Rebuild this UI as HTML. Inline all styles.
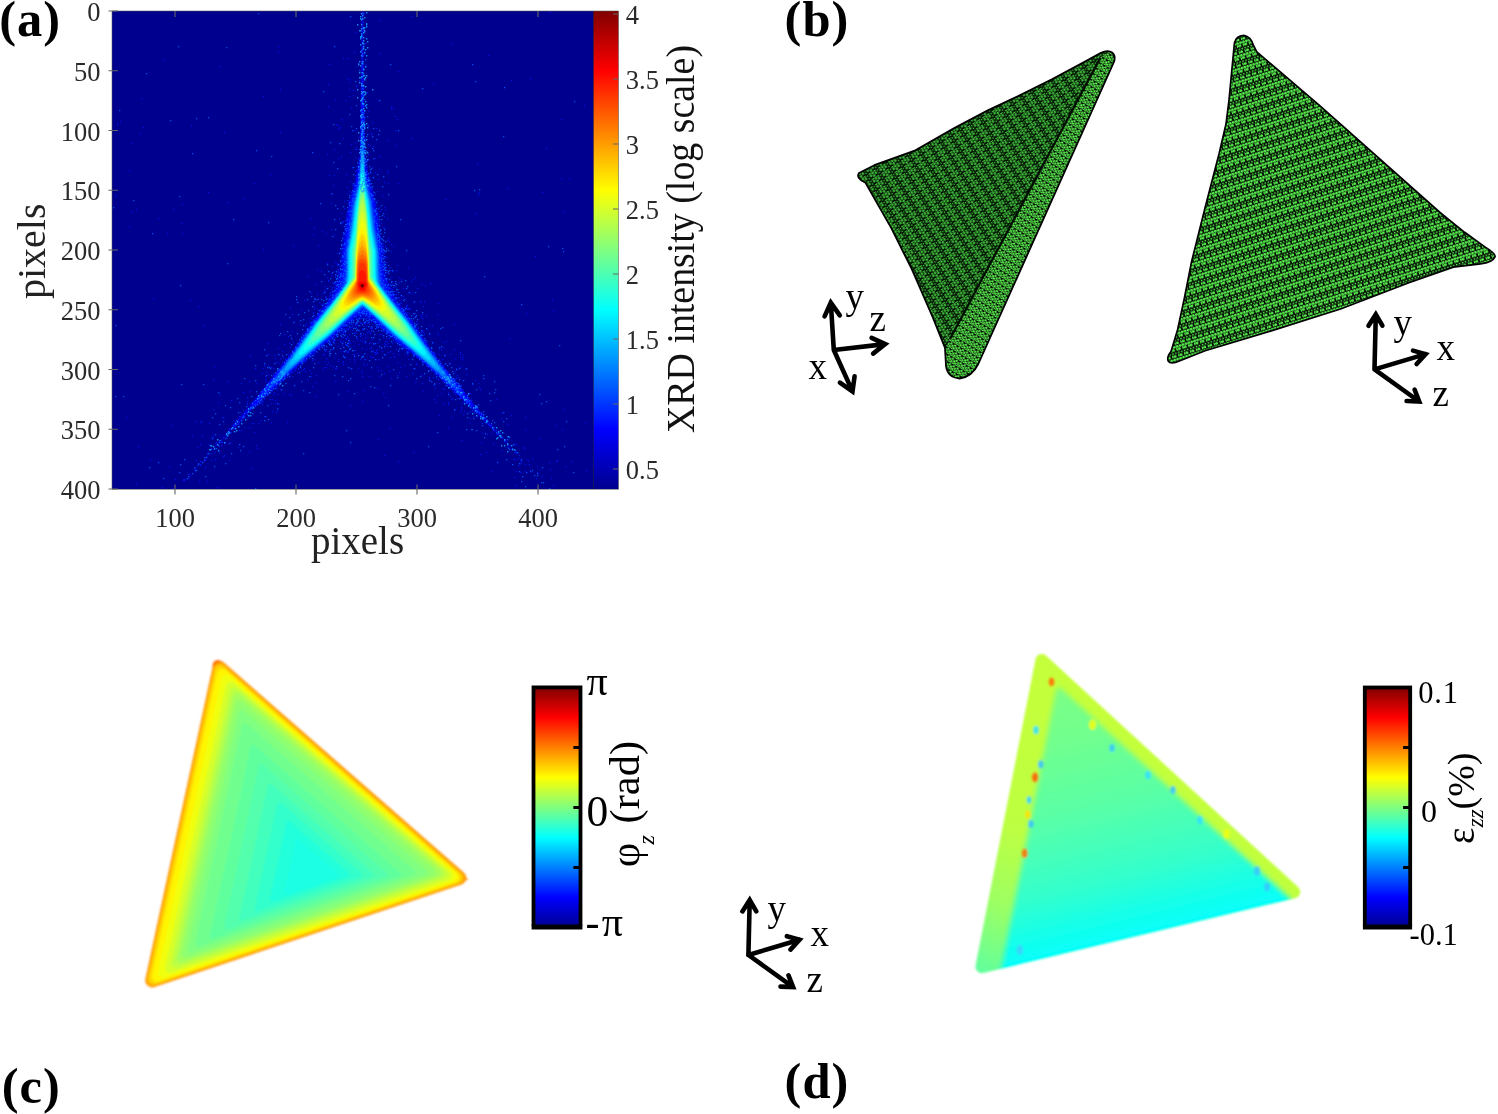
<!DOCTYPE html>
<html lang="en"><head><meta charset="utf-8"><title>Figure</title>
<style>html,body{margin:0;padding:0;background:#fff}body{width:1498px;height:1114px;overflow:hidden}svg{display:block}</style>
</head><body>
<svg width="1498" height="1114" viewBox="0 0 1498 1114">
<defs>
<linearGradient id="jet" x1="0" y1="1" x2="0" y2="0"><stop offset="0" stop-color="#00008f"/><stop offset="0.125" stop-color="#0000ff"/><stop offset="0.375" stop-color="#00ffff"/><stop offset="0.625" stop-color="#ffff00"/><stop offset="0.875" stop-color="#ff0000"/><stop offset="1" stop-color="#800000"/></linearGradient>
<filter id="b1" x="-5%" y="-5%" width="110%" height="110%"><feGaussianBlur stdDeviation="0.7"/></filter>
<filter id="b0" x="0" y="0" width="100%" height="100%"><feGaussianBlur stdDeviation="0.45"/></filter>
<filter id="b2" x="-10%" y="-10%" width="120%" height="120%"><feGaussianBlur stdDeviation="2.2"/></filter>
<filter id="b3" x="-10%" y="-10%" width="120%" height="120%"><feGaussianBlur stdDeviation="0.6"/></filter>
<clipPath id="cpA"><rect x="112" y="11" width="481" height="478"/></clipPath>
<pattern id="m1" width="6.2" height="11.5" patternUnits="userSpaceOnUse" patternTransform="rotate(58)"><rect width="6.2" height="11.5" fill="#031503"/><circle cx="1.55" cy="1.44" r="0.81" fill="#44c440"/><circle cx="4.65" cy="1.44" r="0.81" fill="#44c440"/><circle cx="3.10" cy="4.31" r="1.30" fill="#44c440"/><circle cx="0.00" cy="4.31" r="1.30" fill="#44c440"/><circle cx="0.00" cy="4.31" r="1.30" fill="#44c440"/><circle cx="1.55" cy="7.19" r="1.30" fill="#44c440"/><circle cx="4.65" cy="7.19" r="1.30" fill="#44c440"/><circle cx="3.10" cy="10.06" r="1.30" fill="#44c440"/><circle cx="0.00" cy="10.06" r="1.30" fill="#44c440"/><circle cx="0.00" cy="10.06" r="1.30" fill="#44c440"/></pattern>
<pattern id="m1s" width="6.2" height="9" patternUnits="userSpaceOnUse" patternTransform="rotate(-60)"><rect width="6.2" height="9" fill="#020a02"/><circle cx="1.55" cy="1.12" r="1.20" fill="#5cf050"/><circle cx="4.65" cy="1.12" r="1.20" fill="#5cf050"/><circle cx="3.10" cy="3.38" r="1.20" fill="#5cf050"/><circle cx="0.00" cy="3.38" r="1.20" fill="#5cf050"/><circle cx="0.00" cy="3.38" r="1.20" fill="#5cf050"/><circle cx="1.55" cy="5.62" r="1.20" fill="#5cf050"/><circle cx="4.65" cy="5.62" r="1.20" fill="#5cf050"/><circle cx="3.10" cy="7.88" r="1.20" fill="#5cf050"/><circle cx="0.00" cy="7.88" r="1.20" fill="#5cf050"/><circle cx="0.00" cy="7.88" r="1.20" fill="#5cf050"/></pattern>
<pattern id="m2" width="6.2" height="12.3" patternUnits="userSpaceOnUse" patternTransform="rotate(-17.5)"><rect width="6.2" height="12.3" fill="#020a02"/><circle cx="1.55" cy="1.54" r="0.88" fill="#58ee4e"/><circle cx="4.65" cy="1.54" r="0.88" fill="#58ee4e"/><circle cx="3.10" cy="4.61" r="1.42" fill="#58ee4e"/><circle cx="0.00" cy="4.61" r="1.42" fill="#58ee4e"/><circle cx="0.00" cy="4.61" r="1.42" fill="#58ee4e"/><circle cx="1.55" cy="7.69" r="1.42" fill="#58ee4e"/><circle cx="4.65" cy="7.69" r="1.42" fill="#58ee4e"/><circle cx="3.10" cy="10.76" r="1.42" fill="#58ee4e"/><circle cx="0.00" cy="10.76" r="1.42" fill="#58ee4e"/><circle cx="0.00" cy="10.76" r="1.42" fill="#58ee4e"/></pattern>
<linearGradient id="gd" gradientUnits="userSpaceOnUse" x1="1039.8" y1="652.5" x2="1109.3" y2="941.2"><stop offset="0" stop-color="#80ff80"/><stop offset="0.3" stop-color="#72ff8d"/><stop offset="0.55" stop-color="#59ffa6"/><stop offset="0.8" stop-color="#33ffcc"/><stop offset="0.93" stop-color="#14ffeb"/><stop offset="1" stop-color="#05fffa"/></linearGradient>
<linearGradient id="gdo" gradientUnits="userSpaceOnUse" x1="1100" y1="710" x2="977.5" y2="971.3"><stop offset="0" stop-color="#c5ff3a"/><stop offset="0.5" stop-color="#bdff42"/><stop offset="0.75" stop-color="#9eff61"/><stop offset="0.9" stop-color="#7aff85"/><stop offset="1" stop-color="#61ff9e"/></linearGradient>
<filter id="bd" x="-10%" y="-10%" width="120%" height="120%"><feGaussianBlur stdDeviation="2.6"/></filter>
<filter id="bc" x="-5%" y="-5%" width="110%" height="110%"><feGaussianBlur stdDeviation="1.3"/></filter>
</defs>
<g id="panelA">
<rect x="112" y="11" width="481" height="478" fill="#00008f"/>
<g clip-path="url(#cpA)"><g filter="url(#b1)">
<path fill="#0000a9" d="M214.0,448.3 213.0,448.0 222.0,437.0 248.8,406.0 275.4,373.0 290.0,354.2 299.0,340.7 306.6,328.0 312.8,319.0 327.0,300.0 331.3,292.0 337.0,278.0 338.7,272.0 339.6,267.0 340.5,251.0 344.0,230.0 345.4,216.0 348.2,202.0 354.0,181.9 359.0,157.8 360.0,150.0 360.5,129.0 361.5,11.0 363.1,11.0 363.6,86.0 365.0,154.0 371.0,183.7 376.4,202.0 379.2,216.0 380.6,230.0 384.1,251.0 385.0,267.0 386.0,272.4 387.6,278.0 393.3,292.0 397.0,299.0 416.6,326.0 427.0,342.9 435.0,354.7 449.2,373.0 475.8,406.0 500.0,433.9 510.7,447.0 510.0,447.8 508.0,446.0 472.8,410.0 442.0,380.3 424.4,364.0 412.0,354.0 400.0,345.3 373.0,322.1 367.0,319.0 362.0,318.2 357.0,319.2 351.8,322.0 327.0,343.4 313.9,353.0 300.0,364.2 283.0,380.0 252.0,409.8 225.0,437.6 214.0,448.3ZM511.0,448.6 510.3,448.0 511.0,447.4 511.4,448.0 511.0,448.6ZM213.0,449.1 212.7,449.0 213.0,448.0 213.1,449.0 213.0,449.1ZM512.0,449.2 511.7,449.0 512.0,448.9 512.0,449.2Z"/>
<path fill="#0000c5" d="M497.0,433.2 490.0,426.8 472.5,409.0 424.9,364.0 392.0,337.6 374.0,321.1 368.0,317.4 365.0,316.4 362.0,316.2 357.0,317.2 351.0,320.8 333.0,337.2 300.0,363.7 252.0,409.2 231.0,430.3 228.0,433.0 227.0,433.2 234.0,424.0 248.6,407.0 290.0,354.8 313.2,320.0 329.0,299.4 333.2,292.0 338.3,279.0 339.9,273.0 340.7,268.0 341.6,251.0 345.2,230.0 346.6,216.0 349.2,202.0 354.5,183.0 359.0,161.1 360.0,154.6 360.6,130.0 361.0,70.5 362.0,11.0 362.3,11.0 363.0,13.9 363.4,86.0 365.0,158.1 370.1,183.0 375.4,202.0 377.8,215.0 379.4,230.0 383.0,251.0 384.0,268.8 386.3,279.0 391.4,292.0 396.0,300.0 411.4,320.0 434.7,355.0 475.2,406.0 493.1,427.0 497.0,432.0 497.3,433.0 497.0,433.2Z"/>
<path fill="#0000e0" d="M483.0,417.9 425.4,364.0 392.4,337.0 375.0,320.6 368.0,315.6 365.0,314.4 362.0,314.1 359.0,314.6 357.0,315.4 350.0,320.3 332.0,337.2 299.0,364.1 244.0,416.0 243.0,416.8 242.3,416.0 290.3,355.0 313.4,321.0 330.0,299.7 334.0,293.6 337.7,286.0 340.0,278.4 341.5,271.0 342.2,263.0 342.5,251.0 346.2,230.0 347.7,216.0 350.1,202.0 355.1,184.0 360.0,158.1 360.7,130.0 361.0,94.0 362.0,58.0 363.0,61.2 363.5,106.0 365.0,161.3 369.5,184.0 374.5,202.0 376.9,216.0 378.4,230.0 382.0,251.0 382.4,263.0 383.1,271.0 384.5,278.0 386.9,286.0 390.3,293.0 394.1,299.0 410.5,320.0 434.3,355.0 480.9,414.0 483.1,417.0 483.0,417.9ZM242.0,417.5 241.7,417.0 242.0,416.5 242.7,417.0 242.0,417.5Z"/>
<path fill="#0000fc" d="M472.0,406.0 469.0,404.0 461.0,396.9 425.0,363.1 393.0,336.7 374.2,319.0 367.0,313.5 364.0,312.3 362.0,312.1 360.0,312.4 357.0,313.8 350.0,319.3 332.0,336.4 299.0,363.7 258.0,402.0 253.0,405.8 252.4,405.0 257.0,398.0 290.7,355.0 314.1,321.0 333.0,296.8 339.6,286.0 339.5,285.0 341.0,280.0 342.3,273.0 343.1,265.0 343.5,251.0 347.2,230.0 348.7,216.0 350.9,202.0 355.8,184.0 359.0,167.7 360.0,160.8 360.7,136.0 361.0,109.2 362.0,92.8 363.0,93.8 363.7,129.0 365.0,164.5 368.8,184.0 373.7,202.0 375.9,216.0 377.4,230.0 381.1,251.0 381.5,264.0 382.1,272.0 383.4,279.0 385.1,285.0 385.0,286.0 391.0,296.0 395.3,302.0 410.5,321.0 433.9,355.0 469.1,400.0 472.0,404.5 472.0,406.0Z"/>
<path fill="#0019ff" d="M466.0,399.6 460.0,395.1 425.0,362.7 393.0,336.0 374.0,318.0 366.0,311.6 364.0,310.6 362.0,310.2 358.0,312.0 353.0,315.9 331.0,336.6 299.0,363.2 266.0,393.8 260.0,398.8 258.0,399.5 258.9,397.0 261.0,394.0 290.4,356.0 314.7,321.0 330.0,302.0 341.1,286.0 342.7,278.0 343.6,271.0 344.3,251.0 348.1,230.0 349.6,216.0 351.7,202.0 356.5,184.0 359.0,170.9 360.0,163.5 361.0,124.5 362.0,109.7 363.0,110.7 363.4,130.0 365.0,167.7 368.1,184.0 372.9,202.0 375.0,216.0 376.5,230.0 380.3,251.0 381.0,270.8 382.0,278.5 383.5,286.0 394.0,301.2 409.8,321.0 434.0,355.8 462.9,393.0 466.2,398.0 466.6,399.0 466.0,399.6Z"/>
<path fill="#0034ff" d="M461.0,393.2 460.0,393.3 458.0,392.0 452.0,386.9 425.9,363.0 393.7,336.0 376.0,319.0 370.0,313.8 365.0,309.9 363.0,308.7 362.0,308.6 358.0,311.0 353.0,315.2 331.0,335.9 299.0,362.7 269.0,390.1 265.0,393.1 264.0,393.4 263.7,393.0 265.0,390.1 267.1,387.0 291.6,355.0 315.0,321.5 330.0,302.8 342.2,286.0 343.3,281.0 344.4,272.0 345.1,251.0 348.9,230.0 352.4,202.0 357.1,184.0 359.0,174.2 360.0,166.1 361.0,134.5 362.0,126.4 363.0,127.4 365.0,170.8 367.5,184.0 372.2,202.0 375.7,230.0 379.5,251.0 380.2,272.0 381.1,280.0 382.5,286.0 394.0,302.1 409.2,321.0 433.7,356.0 456.0,385.0 460.1,391.0 461.0,393.2Z"/>
<path fill="#0050ff" d="M455.0,387.2 454.0,387.0 450.0,384.1 426.0,362.5 394.0,335.6 370.0,313.1 364.0,308.2 362.0,307.5 359.0,309.4 354.0,313.6 331.0,335.3 300.0,361.3 277.0,382.0 272.0,386.1 270.0,387.2 269.4,387.0 270.0,385.0 274.0,379.0 291.4,356.0 315.2,322.0 331.0,302.3 343.0,286.0 344.2,282.0 345.1,275.0 345.8,251.0 349.7,230.0 353.1,202.0 357.7,184.0 359.0,177.4 360.4,163.0 361.0,141.7 362.0,135.7 363.0,136.2 365.0,173.9 366.9,184.0 371.5,202.0 374.9,230.0 378.8,251.0 379.5,274.0 380.4,282.0 381.6,286.0 394.0,302.8 409.4,322.0 432.5,355.0 452.0,381.0 455.1,386.0 455.0,387.2Z"/>
<path fill="#006bff" d="M449.0,381.1 447.0,380.0 442.0,376.1 422.0,358.5 394.0,335.0 377.0,318.7 367.0,309.9 363.4,307.0 362.0,306.6 358.0,309.5 348.0,318.4 330.0,335.6 305.0,356.4 284.0,374.9 276.0,381.0 275.0,380.0 280.0,372.0 295.5,351.0 315.8,322.0 337.0,295.1 343.6,286.0 344.9,283.0 346.1,272.0 346.5,251.0 350.4,230.0 353.8,202.0 359.0,180.6 360.3,167.0 361.0,148.8 362.0,143.0 363.0,143.5 365.0,176.9 366.3,184.0 370.8,202.0 374.2,230.0 378.0,251.0 378.6,273.0 379.1,280.0 380.0,283.8 380.9,286.0 389.0,297.0 408.8,322.0 430.5,353.0 444.0,371.2 449.1,379.0 449.5,380.0 449.0,381.1Z"/>
<path fill="#0087ff" d="M444.0,375.1 443.0,375.1 441.0,373.9 436.0,370.0 394.6,335.0 377.0,318.1 368.0,310.1 364.0,306.7 362.0,305.9 359.0,308.0 347.7,318.0 330.0,335.0 286.0,372.1 282.0,374.9 280.5,375.0 280.8,373.0 283.8,368.0 316.0,322.5 336.1,297.0 344.2,286.0 345.6,283.0 346.3,280.0 346.8,273.0 347.2,251.0 351.1,230.0 354.4,202.0 359.0,183.7 360.3,171.0 361.0,155.9 362.0,150.2 363.0,150.9 365.0,179.9 366.0,185.4 370.2,202.0 373.5,230.0 377.4,251.0 377.9,274.0 378.3,280.0 378.9,283.0 380.4,286.0 388.0,296.3 408.3,322.0 440.0,366.9 443.8,373.0 444.2,374.0 444.0,375.1Z"/>
<path fill="#00a3ff" d="M439.0,370.2 437.0,369.3 433.0,366.4 395.4,335.0 371.0,312.2 364.0,306.1 362.0,305.3 359.0,307.5 347.1,318.0 329.2,335.0 291.0,366.9 287.0,369.7 286.0,370.1 285.0,369.8 285.0,369.0 285.8,367.0 289.0,362.0 316.2,323.0 331.3,304.0 341.0,291.1 344.8,286.0 346.7,282.0 347.5,273.0 347.9,251.0 351.8,230.0 355.1,202.0 359.0,186.1 360.3,174.0 361.0,160.6 362.0,157.1 363.0,157.7 364.0,166.0 365.0,182.8 369.5,202.0 372.8,230.0 376.7,251.0 377.1,273.0 377.9,282.0 379.8,286.0 393.0,303.7 408.0,322.4 434.9,361.0 439.2,368.0 439.6,369.0 439.4,370.0 439.0,370.2Z"/>
<path fill="#00beff" d="M434.0,365.1 429.0,362.0 396.0,334.9 370.3,311.0 364.0,305.6 362.0,304.8 359.0,306.9 347.0,317.5 328.5,335.0 297.0,360.9 292.0,364.5 291.0,365.0 289.8,365.0 289.9,363.0 292.0,359.3 310.0,332.8 317.0,322.7 331.9,304.0 343.0,289.1 345.3,286.0 347.3,282.0 348.1,276.0 348.5,251.0 352.4,230.0 355.7,202.0 359.0,188.4 360.3,177.0 361.0,165.2 362.0,162.0 363.0,162.6 364.0,169.9 365.0,185.3 368.9,202.0 372.2,230.0 376.1,251.0 376.5,275.0 376.8,280.0 377.3,282.0 379.3,286.0 383.0,291.0 392.7,304.0 407.8,323.0 427.0,350.9 434.2,362.0 435.1,364.0 434.8,365.0 434.0,365.1Z"/>
<path fill="#00daff" d="M430.0,360.1 429.0,360.0 427.0,359.0 424.0,356.8 403.0,340.0 395.0,333.3 378.0,317.3 366.4,307.0 363.0,304.4 362.0,304.2 359.4,306.0 346.9,317.0 329.0,333.9 313.0,347.0 298.0,358.7 295.0,360.1 294.5,360.0 294.1,359.0 296.0,355.0 299.0,350.2 317.0,323.6 332.4,304.0 345.8,286.0 348.0,282.0 348.7,277.0 349.2,251.0 353.1,230.0 356.0,204.3 359.0,190.7 360.2,181.0 361.0,169.8 362.0,166.7 363.0,167.5 364.0,173.8 365.0,187.0 368.3,202.0 371.5,230.0 375.5,251.0 375.9,277.0 376.7,282.0 378.8,286.0 382.0,290.3 392.2,304.0 407.0,322.8 414.0,332.9 428.0,354.0 430.2,358.0 430.4,359.0 430.0,360.1Z"/>
<path fill="#00f6ff" d="M425.0,355.1 423.0,354.4 419.0,351.7 404.0,340.1 395.4,333.0 378.3,317.0 366.0,306.2 363.0,303.9 362.0,303.7 360.0,305.0 346.3,317.0 329.0,333.2 321.9,339.0 304.0,352.9 301.0,354.7 300.0,355.1 299.0,355.0 298.9,353.0 301.0,349.0 311.0,333.4 318.0,323.1 332.2,305.0 346.2,286.0 348.9,281.0 349.6,275.0 349.9,251.0 353.8,230.0 357.1,202.0 359.0,193.6 360.2,184.0 361.0,174.3 362.0,171.3 363.0,172.2 364.0,177.8 364.7,187.0 366.0,195.7 367.5,202.0 370.8,230.0 373.4,245.0 374.8,251.0 375.1,276.0 375.7,281.0 378.4,286.0 392.0,304.5 406.5,323.0 414.0,333.9 424.7,351.0 425.9,354.0 425.5,355.0 425.0,355.1Z"/>
<path fill="#12ffed" d="M420.0,350.1 417.0,348.8 413.0,346.1 400.0,336.0 366.4,306.0 364.0,304.0 362.0,303.2 359.3,305.0 346.0,316.6 328.3,333.0 317.0,342.0 307.0,349.1 304.0,350.1 303.3,349.0 304.3,346.0 307.0,341.0 318.0,324.1 332.8,305.0 346.7,286.0 349.8,280.0 350.5,274.0 350.9,251.0 354.8,230.0 356.4,215.0 359.0,196.6 361.0,178.8 362.0,175.7 363.0,176.7 364.0,181.9 369.8,230.0 373.7,251.0 374.1,275.0 374.8,280.0 377.9,286.0 391.8,305.0 406.0,323.3 414.0,335.2 418.2,342.0 420.8,347.0 421.3,349.0 421.0,350.0 420.0,350.1Z"/>
<path fill="#2effd1" d="M417.0,345.0 416.0,345.5 414.0,345.0 405.0,339.0 395.0,331.0 379.0,316.3 365.9,305.0 363.2,303.0 362.0,302.7 357.5,306.0 345.0,316.9 332.0,328.9 322.0,337.1 314.0,343.0 311.0,344.8 309.0,345.5 307.6,345.0 307.7,343.0 309.0,340.0 317.0,326.9 347.1,286.0 351.0,279.0 351.6,275.0 351.9,251.0 355.0,234.8 357.4,211.0 360.0,190.2 361.0,183.2 362.0,180.6 363.0,181.4 364.0,185.5 367.6,214.0 369.0,230.9 372.7,251.0 373.0,275.0 373.6,279.0 377.5,286.0 391.2,305.0 407.0,326.0 415.1,339.0 417.0,343.0 417.0,345.0Z"/>
<path fill="#4affb5" d="M412.0,341.1 410.0,340.6 407.0,339.0 398.0,332.5 366.5,305.0 364.0,302.9 362.0,302.3 358.1,305.0 345.1,316.0 332.0,328.0 323.0,335.2 317.6,339.0 314.0,340.9 312.5,341.0 311.6,340.0 311.9,338.0 313.0,335.4 319.0,325.3 325.0,316.8 333.4,306.0 347.6,286.0 350.8,281.0 352.5,277.0 352.9,251.0 355.0,240.6 356.0,232.4 357.6,213.0 360.0,192.9 361.0,187.2 362.0,185.4 363.0,186.0 364.0,188.8 367.2,215.0 369.0,236.6 371.7,251.0 372.0,276.0 372.5,278.0 373.8,281.0 377.0,286.0 406.1,326.0 412.3,337.0 413.1,340.0 412.0,341.1Z"/>
<path fill="#65ff9a" d="M408.0,336.4 407.0,336.5 405.0,335.8 398.0,331.3 365.0,303.2 363.0,301.9 362.0,301.8 357.4,305.0 327.0,331.0 319.0,336.1 317.0,336.5 315.9,336.0 315.7,335.0 316.1,333.0 321.0,324.0 348.1,286.0 353.6,277.0 353.9,251.0 355.0,246.4 356.0,237.8 357.8,214.0 360.0,195.7 361.0,191.1 362.0,189.5 363.0,190.0 364.0,192.4 365.0,198.8 367.2,218.0 369.0,242.2 370.7,251.0 371.0,277.0 376.5,286.0 390.5,306.0 399.0,317.2 404.9,326.0 407.1,330.0 408.8,334.0 408.9,335.0 408.6,336.0 408.0,336.4Z"/>
<path fill="#81ff7e" d="M404.0,331.6 403.0,331.9 401.0,331.3 396.0,328.3 391.0,324.5 380.2,315.0 365.0,302.6 363.0,301.4 362.0,301.3 359.0,303.1 329.0,328.0 323.0,331.5 321.0,331.8 320.1,331.0 320.1,329.0 321.0,326.6 326.0,318.1 334.9,306.0 353.2,279.0 354.4,278.0 354.8,252.0 356.0,243.1 358.0,215.3 360.0,198.8 361.0,195.0 362.0,193.5 363.0,194.0 364.0,196.0 366.4,214.0 369.0,247.6 369.8,252.0 370.3,278.0 371.0,278.2 390.0,306.4 400.0,320.3 404.2,328.0 404.6,330.0 404.0,331.6Z"/>
<path fill="#9dff62" d="M399.0,327.2 396.0,326.3 392.0,323.9 365.0,302.1 363.0,300.9 362.0,300.8 359.0,302.5 331.0,325.0 328.0,326.6 326.0,327.2 325.0,327.0 324.3,326.0 324.8,323.0 328.1,317.0 353.8,279.0 355.0,279.0 355.5,252.0 358.0,219.4 360.0,202.2 361.0,198.9 362.0,197.5 363.0,198.0 364.0,199.8 366.0,213.0 369.0,251.0 369.7,278.0 370.8,279.0 374.9,285.0 397.8,319.0 399.8,323.0 400.3,325.0 400.0,326.6 399.0,327.2Z"/>
<path fill="#b8ff47" d="M395.0,322.4 393.0,322.2 390.0,320.5 365.0,301.5 363.0,300.3 362.0,300.2 360.0,301.2 334.0,320.9 332.0,322.0 330.0,322.5 329.0,322.1 328.5,321.0 328.9,319.0 331.0,315.0 341.0,299.0 354.0,279.6 355.2,279.0 355.7,257.0 358.0,224.1 360.0,208.1 362.0,201.6 363.0,202.4 364.0,205.4 366.0,217.9 368.6,251.0 369.4,278.0 383.0,298.0 394.0,315.7 396.1,320.0 396.0,321.4 395.0,322.4Z"/>
<path fill="#d4ff2b" d="M390.0,316.7 388.0,316.5 385.0,314.9 377.0,309.8 365.0,300.9 363.0,299.8 362.0,299.7 360.0,300.6 347.0,310.2 338.0,315.9 335.0,316.8 333.8,316.0 334.3,313.0 340.0,302.0 349.4,287.0 354.3,280.0 355.5,279.0 356.3,252.0 358.0,229.3 360.0,215.5 362.0,209.8 363.0,211.0 364.0,213.6 365.0,217.2 366.0,223.9 368.3,252.0 369.3,279.0 375.8,288.0 385.8,304.0 390.6,314.0 390.7,316.0 390.0,316.7Z"/>
<path fill="#efff10" d="M384.0,311.3 382.0,311.1 379.0,309.8 373.0,306.0 365.0,300.2 363.0,299.2 362.0,299.2 360.0,300.0 350.0,307.1 345.0,310.1 343.0,311.0 341.0,311.4 339.7,311.0 338.9,310.0 339.0,306.8 342.1,300.0 350.0,287.0 355.7,279.0 356.6,252.0 358.0,234.7 360.0,224.0 362.0,218.5 363.0,219.7 365.0,225.3 367.0,238.7 368.3,258.0 368.9,279.0 375.9,289.0 384.1,303.0 385.3,306.0 386.0,309.0 385.0,310.9 384.0,311.3Z"/>
<path fill="#fff300" d="M382.0,308.1 380.0,308.3 377.0,307.2 373.0,305.0 365.0,299.5 362.0,298.6 360.0,299.3 350.0,306.0 346.0,307.9 343.0,308.2 341.7,307.0 341.7,304.0 344.0,298.4 348.8,290.0 355.6,280.0 355.9,279.0 356.5,258.0 358.0,240.0 359.0,234.1 362.0,227.4 365.0,232.4 366.0,235.9 368.0,256.4 368.7,279.0 377.0,291.9 381.8,301.0 382.9,304.0 383.2,306.0 383.0,307.0 382.0,308.1Z"/>
<path fill="#ffd700" d="M379.0,305.2 377.0,305.4 375.0,304.7 365.0,298.8 363.0,298.0 360.0,298.6 352.0,303.5 348.0,305.3 346.0,305.4 345.2,305.0 344.3,304.0 344.1,303.0 344.9,299.0 347.8,293.0 350.7,288.0 356.1,280.0 356.5,263.0 358.0,245.3 359.0,239.6 360.0,237.1 362.0,233.8 363.0,234.6 365.0,237.9 366.0,241.3 368.0,260.4 368.5,279.0 370.0,282.2 376.0,291.6 379.6,299.0 380.5,303.0 380.0,304.4 379.0,305.2Z"/>
<path fill="#ffbc00" d="M377.0,302.2 375.0,302.7 373.0,302.2 365.0,298.0 362.0,297.3 360.0,297.8 354.0,301.2 350.0,302.7 348.0,302.5 346.7,301.0 346.9,298.0 348.8,293.0 356.3,280.0 356.7,263.0 358.0,249.7 359.0,245.0 362.0,239.4 363.0,240.1 365.0,243.4 366.0,246.7 367.0,252.3 368.0,264.0 368.3,279.0 369.0,281.4 373.8,289.0 377.1,296.0 378.1,300.0 377.9,301.0 377.0,302.2Z"/>
<path fill="#ffa000" d="M373.0,300.1 370.0,299.5 363.0,296.6 360.0,297.0 353.0,300.0 351.0,300.0 350.0,299.4 349.1,298.0 349.0,296.0 350.3,292.0 355.0,283.6 356.5,280.0 356.9,264.0 358.0,253.4 359.0,249.5 362.0,244.9 363.0,245.7 365.0,248.5 366.0,250.6 367.0,256.2 367.7,264.0 368.2,280.0 369.0,282.4 373.9,291.0 375.4,295.0 375.5,298.0 375.0,299.1 373.0,300.1Z"/>
<path fill="#ff8400" d="M372.0,297.5 370.0,297.8 364.0,295.9 362.0,295.7 354.0,297.9 352.0,297.1 351.0,295.1 351.8,291.0 355.0,284.9 356.8,280.0 357.0,267.9 358.0,257.2 359.0,253.4 362.0,249.5 363.0,250.0 365.0,252.2 366.0,254.5 367.3,264.0 367.9,280.0 369.0,283.7 372.4,290.0 373.6,294.0 373.4,296.0 372.0,297.5Z"/>
<path fill="#ff6900" d="M370.0,295.3 368.0,295.7 362.0,294.8 356.0,295.7 354.0,294.8 353.1,293.0 353.5,290.0 355.3,286.0 357.0,280.0 357.0,275.0 358.0,260.9 359.0,257.3 362.0,253.9 365.0,256.3 366.0,258.3 367.0,264.0 367.5,280.0 369.0,285.3 371.2,290.0 371.5,292.0 371.2,294.0 370.0,295.3Z"/>
<path fill="#ff4d00" d="M368.0,293.4 366.0,293.9 358.0,293.9 356.0,293.0 355.4,292.0 355.5,289.0 357.5,280.0 358.2,264.0 359.0,261.0 360.0,259.8 362.0,258.6 365.0,260.1 366.0,262.1 366.4,264.0 367.0,270.9 367.2,280.0 369.3,290.0 369.4,292.0 368.0,293.4Z"/>
<path fill="#ff3100" d="M366.0,292.1 364.0,292.6 361.0,292.7 359.0,292.3 357.2,291.0 357.2,286.0 356.8,285.0 357.8,281.0 358.0,273.2 359.0,265.8 360.0,263.6 362.0,262.8 365.0,264.0 366.0,268.0 366.7,276.0 366.7,281.0 367.2,282.0 367.7,285.0 367.5,288.0 366.9,290.0 367.2,291.0 366.0,292.1Z"/>
<path fill="#ff1600" d="M364.0,291.2 361.0,291.3 358.6,290.0 358.1,286.0 357.5,285.0 358.0,282.0 358.8,281.0 359.0,273.9 360.0,271.5 362.0,270.3 364.0,271.0 365.0,272.1 365.9,276.0 365.8,281.0 367.1,284.0 367.1,285.0 366.5,286.0 365.7,289.0 366.0,290.0 364.0,291.2Z"/>
<path fill="#f90000" d="M364.0,289.6 362.0,290.0 359.8,289.0 359.2,286.0 358.3,285.0 359.0,282.7 362.0,281.4 363.0,281.5 365.0,282.9 366.0,283.2 366.3,285.0 365.4,286.0 364.8,289.0 364.0,289.6Z"/>
<path fill="#dd0000" d="M363.0,288.1 362.0,288.2 361.0,287.7 360.6,286.0 359.8,285.0 360.0,284.2 362.0,283.4 363.0,283.6 364.8,285.0 363.0,288.1Z"/>
</g>
<g filter="url(#b0)"><path fill="#0018ff" opacity="0.75" d="M408 359h1.3v1.3h-1.3zM343 269h1.3v1.3h-1.3zM473 407h1.3v1.3h-1.3zM213 409h1.3v1.3h-1.3zM376 228h1.3v1.3h-1.3zM391 108h1.3v1.3h-1.3zM362 77h1.3v1.3h-1.3zM351 316h1.3v1.3h-1.3zM343 264h1.3v1.3h-1.3zM460 352h1.3v1.3h-1.3zM362 66h1.3v1.3h-1.3zM385 332h1.3v1.3h-1.3zM325 307h1.3v1.3h-1.3zM345 266h1.3v1.3h-1.3zM360 313h1.3v1.3h-1.3zM375 202h1.3v1.3h-1.3zM458 377h1.3v1.3h-1.3zM383 274h1.3v1.3h-1.3zM390 297h1.3v1.3h-1.3zM244 427h1.3v1.3h-1.3zM314 352h1.3v1.3h-1.3zM470 411h1.3v1.3h-1.3zM333 294h1.3v1.3h-1.3zM365 160h1.3v1.3h-1.3zM367 332h1.3v1.3h-1.3zM341 289h1.3v1.3h-1.3zM321 304h1.3v1.3h-1.3zM316 318h1.3v1.3h-1.3zM382 269h1.3v1.3h-1.3zM356 316h1.3v1.3h-1.3zM333 337h1.3v1.3h-1.3zM344 266h1.3v1.3h-1.3zM405 315h1.3v1.3h-1.3zM377 227h1.3v1.3h-1.3zM347 325h1.3v1.3h-1.3zM327 154h1.3v1.3h-1.3zM387 289h1.3v1.3h-1.3zM378 359h1.3v1.3h-1.3zM463 355h1.3v1.3h-1.3zM385 355h1.3v1.3h-1.3zM346 351h1.3v1.3h-1.3zM315 284h1.3v1.3h-1.3zM343 280h1.3v1.3h-1.3zM355 314h1.3v1.3h-1.3zM379 246h1.3v1.3h-1.3zM514 452h1.3v1.3h-1.3zM288 356h1.3v1.3h-1.3zM317 348h1.3v1.3h-1.3zM313 319h1.3v1.3h-1.3zM509 338h1.3v1.3h-1.3zM140 133h1.3v1.3h-1.3zM374 224h1.3v1.3h-1.3zM367 167h1.3v1.3h-1.3zM370 186h1.3v1.3h-1.3zM387 218h1.3v1.3h-1.3zM211 437h1.3v1.3h-1.3zM385 329h1.3v1.3h-1.3zM349 359h1.3v1.3h-1.3zM239 422h1.3v1.3h-1.3zM461 392h1.3v1.3h-1.3zM410 319h1.3v1.3h-1.3zM383 393h1.3v1.3h-1.3zM439 349h1.3v1.3h-1.3zM244 416h1.3v1.3h-1.3zM388 290h1.3v1.3h-1.3zM384 331h1.3v1.3h-1.3zM343 221h1.3v1.3h-1.3zM423 363h1.3v1.3h-1.3zM209 453h1.3v1.3h-1.3zM459 395h1.3v1.3h-1.3zM365 157h1.3v1.3h-1.3zM348 321h1.3v1.3h-1.3zM453 379h1.3v1.3h-1.3zM372 320h1.3v1.3h-1.3zM313 234h1.3v1.3h-1.3zM375 213h1.3v1.3h-1.3zM461 407h1.3v1.3h-1.3zM338 346h1.3v1.3h-1.3zM423 306h1.3v1.3h-1.3zM328 106h1.3v1.3h-1.3zM444 364h1.3v1.3h-1.3zM324 348h1.3v1.3h-1.3zM381 262h1.3v1.3h-1.3zM362 348h1.3v1.3h-1.3zM363 312h1.3v1.3h-1.3zM354 130h1.3v1.3h-1.3zM364 147h1.3v1.3h-1.3zM481 442h1.3v1.3h-1.3zM270 392h1.3v1.3h-1.3zM385 209h1.3v1.3h-1.3zM307 356h1.3v1.3h-1.3zM474 408h1.3v1.3h-1.3zM117 124h1.3v1.3h-1.3zM471 398h1.3v1.3h-1.3zM353 203h1.3v1.3h-1.3zM417 356h1.3v1.3h-1.3zM281 364h1.3v1.3h-1.3zM390 288h1.3v1.3h-1.3zM373 192h1.3v1.3h-1.3zM327 277h1.3v1.3h-1.3zM463 402h1.3v1.3h-1.3zM344 201h1.3v1.3h-1.3zM455 382h1.3v1.3h-1.3zM333 291h1.3v1.3h-1.3zM378 245h1.3v1.3h-1.3zM263 390h1.3v1.3h-1.3zM394 357h1.3v1.3h-1.3zM349 320h1.3v1.3h-1.3zM347 391h1.3v1.3h-1.3zM254 401h1.3v1.3h-1.3zM593 232h1.3v1.3h-1.3zM250 391h1.3v1.3h-1.3zM341 277h1.3v1.3h-1.3zM381 264h1.3v1.3h-1.3zM362 329h1.3v1.3h-1.3zM477 163h1.3v1.3h-1.3zM383 328h1.3v1.3h-1.3zM362 376h1.3v1.3h-1.3zM197 447h1.3v1.3h-1.3zM278 370h1.3v1.3h-1.3zM497 434h1.3v1.3h-1.3zM460 357h1.3v1.3h-1.3zM362 101h1.3v1.3h-1.3zM364 113h1.3v1.3h-1.3zM340 274h1.3v1.3h-1.3zM382 325h1.3v1.3h-1.3zM205 459h1.3v1.3h-1.3zM361 323h1.3v1.3h-1.3zM371 134h1.3v1.3h-1.3zM372 319h1.3v1.3h-1.3zM470 404h1.3v1.3h-1.3zM358 314h1.3v1.3h-1.3zM343 138h1.3v1.3h-1.3zM348 329h1.3v1.3h-1.3zM384 216h1.3v1.3h-1.3zM367 312h1.3v1.3h-1.3zM392 336h1.3v1.3h-1.3zM267 343h1.3v1.3h-1.3zM395 342h1.3v1.3h-1.3zM331 203h1.3v1.3h-1.3zM453 382h1.3v1.3h-1.3zM373 200h1.3v1.3h-1.3zM381 246h1.3v1.3h-1.3zM375 319h1.3v1.3h-1.3zM347 78h1.3v1.3h-1.3zM413 316h1.3v1.3h-1.3zM393 353h1.3v1.3h-1.3zM455 381h1.3v1.3h-1.3zM416 356h1.3v1.3h-1.3zM391 298h1.3v1.3h-1.3zM355 313h1.3v1.3h-1.3zM338 292h1.3v1.3h-1.3zM371 189h1.3v1.3h-1.3zM388 238h1.3v1.3h-1.3zM382 257h1.3v1.3h-1.3zM396 305h1.3v1.3h-1.3zM327 263h1.3v1.3h-1.3zM352 196h1.3v1.3h-1.3zM302 334h1.3v1.3h-1.3zM362 341h1.3v1.3h-1.3zM317 308h1.3v1.3h-1.3zM363 22h1.3v1.3h-1.3zM304 359h1.3v1.3h-1.3zM383 270h1.3v1.3h-1.3zM219 452h1.3v1.3h-1.3zM315 320h1.3v1.3h-1.3zM297 345h1.3v1.3h-1.3zM367 317h1.3v1.3h-1.3zM349 211h1.3v1.3h-1.3zM267 390h1.3v1.3h-1.3zM434 352h1.3v1.3h-1.3zM359 314h1.3v1.3h-1.3zM372 316h1.3v1.3h-1.3zM451 377h1.3v1.3h-1.3zM350 324h1.3v1.3h-1.3zM471 400h1.3v1.3h-1.3zM345 235h1.3v1.3h-1.3zM345 251h1.3v1.3h-1.3zM341 285h1.3v1.3h-1.3zM361 115h1.3v1.3h-1.3zM314 307h1.3v1.3h-1.3zM281 366h1.3v1.3h-1.3zM313 323h1.3v1.3h-1.3zM322 308h1.3v1.3h-1.3zM476 410h1.3v1.3h-1.3zM372 351h1.3v1.3h-1.3zM475 408h1.3v1.3h-1.3zM378 250h1.3v1.3h-1.3zM452 398h1.3v1.3h-1.3zM300 324h1.3v1.3h-1.3zM372 177h1.3v1.3h-1.3zM262 373h1.3v1.3h-1.3zM372 328h1.3v1.3h-1.3zM333 185h1.3v1.3h-1.3zM299 341h1.3v1.3h-1.3zM371 321h1.3v1.3h-1.3zM445 380h1.3v1.3h-1.3zM525 464h1.3v1.3h-1.3zM403 344h1.3v1.3h-1.3zM388 335h1.3v1.3h-1.3zM308 330h1.3v1.3h-1.3zM355 332h1.3v1.3h-1.3zM359 315h1.3v1.3h-1.3zM384 328h1.3v1.3h-1.3zM356 157h1.3v1.3h-1.3zM403 311h1.3v1.3h-1.3zM373 191h1.3v1.3h-1.3zM412 16h1.3v1.3h-1.3zM347 233h1.3v1.3h-1.3zM378 325h1.3v1.3h-1.3zM265 389h1.3v1.3h-1.3zM412 320h1.3v1.3h-1.3zM552 299h1.3v1.3h-1.3zM336 368h1.3v1.3h-1.3zM381 260h1.3v1.3h-1.3zM229 428h1.3v1.3h-1.3zM354 196h1.3v1.3h-1.3zM310 329h1.3v1.3h-1.3zM584 105h1.3v1.3h-1.3zM381 273h1.3v1.3h-1.3zM367 92h1.3v1.3h-1.3zM456 368h1.3v1.3h-1.3zM296 365h1.3v1.3h-1.3zM229 429h1.3v1.3h-1.3zM336 335h1.3v1.3h-1.3zM351 108h1.3v1.3h-1.3zM402 308h1.3v1.3h-1.3zM200 465h1.3v1.3h-1.3zM351 192h1.3v1.3h-1.3zM349 96h1.3v1.3h-1.3zM350 221h1.3v1.3h-1.3zM438 363h1.3v1.3h-1.3zM359 317h1.3v1.3h-1.3zM363 28h1.3v1.3h-1.3zM172 488h1.3v1.3h-1.3zM270 388h1.3v1.3h-1.3zM348 223h1.3v1.3h-1.3zM241 419h1.3v1.3h-1.3zM400 342h1.3v1.3h-1.3zM375 226h1.3v1.3h-1.3zM339 285h1.3v1.3h-1.3zM401 299h1.3v1.3h-1.3zM441 349h1.3v1.3h-1.3zM381 209h1.3v1.3h-1.3zM401 342h1.3v1.3h-1.3zM345 357h1.3v1.3h-1.3zM291 371h1.3v1.3h-1.3zM391 297h1.3v1.3h-1.3zM469 412h1.3v1.3h-1.3zM452 43h1.3v1.3h-1.3zM385 269h1.3v1.3h-1.3zM337 295h1.3v1.3h-1.3zM368 312h1.3v1.3h-1.3zM338 361h1.3v1.3h-1.3zM240 416h1.3v1.3h-1.3zM301 362h1.3v1.3h-1.3zM364 149h1.3v1.3h-1.3zM324 290h1.3v1.3h-1.3zM380 266h1.3v1.3h-1.3zM382 328h1.3v1.3h-1.3zM376 327h1.3v1.3h-1.3zM347 352h1.3v1.3h-1.3zM426 364h1.3v1.3h-1.3zM318 310h1.3v1.3h-1.3zM362 401h1.3v1.3h-1.3zM390 289h1.3v1.3h-1.3zM183 480h1.3v1.3h-1.3zM241 421h1.3v1.3h-1.3zM343 274h1.3v1.3h-1.3zM330 343h1.3v1.3h-1.3zM356 327h1.3v1.3h-1.3zM342 284h1.3v1.3h-1.3zM370 145h1.3v1.3h-1.3zM346 269h1.3v1.3h-1.3zM294 351h1.3v1.3h-1.3zM218 442h1.3v1.3h-1.3zM362 74h1.3v1.3h-1.3zM400 367h1.3v1.3h-1.3zM280 324h1.3v1.3h-1.3zM397 119h1.3v1.3h-1.3zM435 356h1.3v1.3h-1.3zM349 340h1.3v1.3h-1.3zM209 445h1.3v1.3h-1.3zM403 288h1.3v1.3h-1.3zM368 314h1.3v1.3h-1.3zM417 323h1.3v1.3h-1.3zM518 458h1.3v1.3h-1.3zM369 343h1.3v1.3h-1.3zM334 357h1.3v1.3h-1.3zM238 447h1.3v1.3h-1.3zM370 332h1.3v1.3h-1.3zM362 47h1.3v1.3h-1.3zM507 424h1.3v1.3h-1.3zM426 365h1.3v1.3h-1.3zM330 295h1.3v1.3h-1.3zM335 368h1.3v1.3h-1.3zM272 379h1.3v1.3h-1.3zM410 322h1.3v1.3h-1.3zM461 388h1.3v1.3h-1.3zM397 298h1.3v1.3h-1.3zM380 211h1.3v1.3h-1.3zM464 397h1.3v1.3h-1.3zM213 379h1.3v1.3h-1.3zM271 384h1.3v1.3h-1.3zM362 312h1.3v1.3h-1.3zM446 379h1.3v1.3h-1.3zM272 399h1.3v1.3h-1.3zM394 294h1.3v1.3h-1.3zM379 231h1.3v1.3h-1.3zM441 393h1.3v1.3h-1.3zM418 333h1.3v1.3h-1.3zM383 279h1.3v1.3h-1.3zM388 338h1.3v1.3h-1.3zM354 186h1.3v1.3h-1.3zM321 271h1.3v1.3h-1.3zM342 279h1.3v1.3h-1.3zM377 212h1.3v1.3h-1.3zM347 243h1.3v1.3h-1.3zM362 48h1.3v1.3h-1.3zM361 310h1.3v1.3h-1.3zM460 411h1.3v1.3h-1.3zM294 321h1.3v1.3h-1.3zM231 400h1.3v1.3h-1.3zM381 327h1.3v1.3h-1.3zM443 347h1.3v1.3h-1.3zM364 142h1.3v1.3h-1.3zM370 171h1.3v1.3h-1.3zM344 328h1.3v1.3h-1.3zM292 331h1.3v1.3h-1.3zM383 284h1.3v1.3h-1.3zM478 410h1.3v1.3h-1.3zM329 342h1.3v1.3h-1.3zM247 403h1.3v1.3h-1.3zM362 54h1.3v1.3h-1.3zM277 410h1.3v1.3h-1.3zM348 203h1.3v1.3h-1.3zM454 358h1.3v1.3h-1.3zM385 247h1.3v1.3h-1.3zM182 204h1.3v1.3h-1.3zM378 179h1.3v1.3h-1.3zM465 369h1.3v1.3h-1.3zM370 356h1.3v1.3h-1.3zM410 349h1.3v1.3h-1.3zM443 381h1.3v1.3h-1.3zM422 331h1.3v1.3h-1.3zM363 61h1.3v1.3h-1.3zM462 393h1.3v1.3h-1.3zM370 318h1.3v1.3h-1.3zM380 262h1.3v1.3h-1.3zM333 299h1.3v1.3h-1.3zM224 455h1.3v1.3h-1.3zM322 369h1.3v1.3h-1.3zM273 373h1.3v1.3h-1.3zM382 266h1.3v1.3h-1.3zM284 363h1.3v1.3h-1.3zM439 359h1.3v1.3h-1.3zM313 321h1.3v1.3h-1.3zM478 194h1.3v1.3h-1.3zM343 235h1.3v1.3h-1.3zM528 460h1.3v1.3h-1.3zM556 461h1.3v1.3h-1.3zM390 293h1.3v1.3h-1.3zM361 30h1.3v1.3h-1.3zM354 314h1.3v1.3h-1.3zM413 356h1.3v1.3h-1.3zM355 350h1.3v1.3h-1.3zM314 359h1.3v1.3h-1.3zM513 459h1.3v1.3h-1.3zM341 333h1.3v1.3h-1.3zM433 352h1.3v1.3h-1.3zM381 256h1.3v1.3h-1.3zM471 401h1.3v1.3h-1.3zM262 394h1.3v1.3h-1.3zM357 318h1.3v1.3h-1.3zM266 389h1.3v1.3h-1.3zM363 140h1.3v1.3h-1.3zM372 339h1.3v1.3h-1.3zM261 402h1.3v1.3h-1.3zM331 302h1.3v1.3h-1.3zM354 190h1.3v1.3h-1.3zM363 14h1.3v1.3h-1.3zM364 151h1.3v1.3h-1.3zM382 247h1.3v1.3h-1.3zM438 303h1.3v1.3h-1.3zM319 314h1.3v1.3h-1.3zM374 323h1.3v1.3h-1.3zM383 283h1.3v1.3h-1.3zM348 228h1.3v1.3h-1.3zM380 53h1.3v1.3h-1.3zM341 342h1.3v1.3h-1.3zM380 323h1.3v1.3h-1.3zM335 100h1.3v1.3h-1.3zM342 244h1.3v1.3h-1.3zM345 259h1.3v1.3h-1.3zM516 453h1.3v1.3h-1.3zM453 380h1.3v1.3h-1.3zM437 360h1.3v1.3h-1.3zM385 285h1.3v1.3h-1.3zM366 320h1.3v1.3h-1.3zM377 217h1.3v1.3h-1.3zM343 255h1.3v1.3h-1.3zM459 388h1.3v1.3h-1.3zM337 269h1.3v1.3h-1.3zM368 316h1.3v1.3h-1.3zM341 351h1.3v1.3h-1.3zM349 327h1.3v1.3h-1.3zM328 280h1.3v1.3h-1.3zM352 316h1.3v1.3h-1.3zM375 354h1.3v1.3h-1.3zM395 287h1.3v1.3h-1.3zM432 353h1.3v1.3h-1.3zM393 287h1.3v1.3h-1.3zM353 184h1.3v1.3h-1.3zM372 196h1.3v1.3h-1.3zM398 351h1.3v1.3h-1.3zM359 179h1.3v1.3h-1.3zM462 395h1.3v1.3h-1.3zM317 352h1.3v1.3h-1.3zM347 244h1.3v1.3h-1.3zM372 167h1.3v1.3h-1.3zM358 184h1.3v1.3h-1.3zM404 307h1.3v1.3h-1.3zM345 265h1.3v1.3h-1.3zM465 396h1.3v1.3h-1.3zM373 205h1.3v1.3h-1.3zM402 346h1.3v1.3h-1.3zM382 281h1.3v1.3h-1.3zM379 325h1.3v1.3h-1.3zM294 370h1.3v1.3h-1.3zM343 270h1.3v1.3h-1.3zM346 217h1.3v1.3h-1.3zM399 304h1.3v1.3h-1.3zM251 468h1.3v1.3h-1.3zM361 23h1.3v1.3h-1.3zM357 324h1.3v1.3h-1.3zM351 202h1.3v1.3h-1.3zM268 385h1.3v1.3h-1.3zM290 374h1.3v1.3h-1.3zM454 381h1.3v1.3h-1.3zM381 285h1.3v1.3h-1.3zM336 333h1.3v1.3h-1.3zM131 143h1.3v1.3h-1.3zM356 315h1.3v1.3h-1.3zM296 346h1.3v1.3h-1.3zM349 89h1.3v1.3h-1.3zM480 415h1.3v1.3h-1.3zM364 106h1.3v1.3h-1.3zM423 361h1.3v1.3h-1.3zM319 317h1.3v1.3h-1.3zM451 386h1.3v1.3h-1.3zM335 296h1.3v1.3h-1.3zM381 269h1.3v1.3h-1.3zM305 333h1.3v1.3h-1.3zM344 280h1.3v1.3h-1.3zM416 355h1.3v1.3h-1.3zM344 275h1.3v1.3h-1.3zM347 218h1.3v1.3h-1.3zM362 106h1.3v1.3h-1.3zM405 309h1.3v1.3h-1.3zM235 425h1.3v1.3h-1.3zM272 389h1.3v1.3h-1.3zM363 55h1.3v1.3h-1.3zM363 45h1.3v1.3h-1.3zM369 324h1.3v1.3h-1.3zM342 278h1.3v1.3h-1.3zM384 455h1.3v1.3h-1.3zM235 422h1.3v1.3h-1.3zM255 406h1.3v1.3h-1.3zM404 348h1.3v1.3h-1.3zM375 222h1.3v1.3h-1.3zM407 354h1.3v1.3h-1.3zM341 334h1.3v1.3h-1.3zM362 140h1.3v1.3h-1.3zM316 375h1.3v1.3h-1.3zM407 347h1.3v1.3h-1.3zM348 235h1.3v1.3h-1.3zM352 197h1.3v1.3h-1.3zM379 207h1.3v1.3h-1.3zM515 459h1.3v1.3h-1.3zM331 337h1.3v1.3h-1.3zM354 361h1.3v1.3h-1.3zM376 226h1.3v1.3h-1.3zM406 306h1.3v1.3h-1.3zM530 78h1.3v1.3h-1.3zM249 415h1.3v1.3h-1.3zM305 360h1.3v1.3h-1.3zM321 347h1.3v1.3h-1.3zM345 250h1.3v1.3h-1.3zM396 339h1.3v1.3h-1.3zM446 341h1.3v1.3h-1.3zM303 360h1.3v1.3h-1.3zM339 329h1.3v1.3h-1.3zM361 100h1.3v1.3h-1.3zM364 365h1.3v1.3h-1.3zM329 337h1.3v1.3h-1.3zM353 193h1.3v1.3h-1.3zM335 332h1.3v1.3h-1.3zM384 263h1.3v1.3h-1.3zM460 397h1.3v1.3h-1.3zM366 173h1.3v1.3h-1.3zM298 345h1.3v1.3h-1.3zM200 422h1.3v1.3h-1.3zM330 365h1.3v1.3h-1.3zM260 398h1.3v1.3h-1.3zM426 344h1.3v1.3h-1.3zM326 341h1.3v1.3h-1.3zM450 396h1.3v1.3h-1.3zM375 325h1.3v1.3h-1.3zM271 388h1.3v1.3h-1.3zM354 355h1.3v1.3h-1.3zM361 109h1.3v1.3h-1.3zM285 359h1.3v1.3h-1.3zM456 386h1.3v1.3h-1.3zM352 202h1.3v1.3h-1.3zM129 170h1.3v1.3h-1.3zM361 55h1.3v1.3h-1.3zM417 357h1.3v1.3h-1.3zM409 308h1.3v1.3h-1.3zM235 427h1.3v1.3h-1.3zM450 363h1.3v1.3h-1.3zM511 449h1.3v1.3h-1.3zM360 142h1.3v1.3h-1.3zM500 433h1.3v1.3h-1.3zM440 361h1.3v1.3h-1.3zM334 271h1.3v1.3h-1.3zM364 126h1.3v1.3h-1.3zM364 323h1.3v1.3h-1.3zM382 249h1.3v1.3h-1.3zM217 487h1.3v1.3h-1.3zM384 268h1.3v1.3h-1.3zM255 404h1.3v1.3h-1.3zM394 336h1.3v1.3h-1.3zM268 394h1.3v1.3h-1.3zM382 327h1.3v1.3h-1.3zM343 268h1.3v1.3h-1.3zM450 354h1.3v1.3h-1.3zM370 348h1.3v1.3h-1.3zM384 253h1.3v1.3h-1.3zM390 285h1.3v1.3h-1.3zM215 443h1.3v1.3h-1.3zM282 361h1.3v1.3h-1.3zM460 396h1.3v1.3h-1.3zM345 326h1.3v1.3h-1.3zM308 331h1.3v1.3h-1.3zM247 397h1.3v1.3h-1.3zM275 373h1.3v1.3h-1.3zM365 323h1.3v1.3h-1.3zM484 418h1.3v1.3h-1.3zM359 162h1.3v1.3h-1.3zM365 173h1.3v1.3h-1.3zM342 327h1.3v1.3h-1.3zM339 332h1.3v1.3h-1.3zM329 64h1.3v1.3h-1.3zM478 383h1.3v1.3h-1.3zM356 317h1.3v1.3h-1.3zM356 189h1.3v1.3h-1.3zM221 442h1.3v1.3h-1.3zM361 36h1.3v1.3h-1.3zM403 296h1.3v1.3h-1.3zM521 463h1.3v1.3h-1.3zM343 284h1.3v1.3h-1.3zM348 322h1.3v1.3h-1.3zM396 349h1.3v1.3h-1.3zM384 274h1.3v1.3h-1.3zM384 343h1.3v1.3h-1.3zM319 302h1.3v1.3h-1.3zM348 237h1.3v1.3h-1.3zM324 367h1.3v1.3h-1.3zM390 267h1.3v1.3h-1.3zM537 472h1.3v1.3h-1.3zM407 319h1.3v1.3h-1.3zM334 234h1.3v1.3h-1.3zM256 404h1.3v1.3h-1.3zM330 336h1.3v1.3h-1.3zM443 403h1.3v1.3h-1.3zM452 386h1.3v1.3h-1.3zM312 325h1.3v1.3h-1.3zM350 209h1.3v1.3h-1.3zM514 477h1.3v1.3h-1.3zM325 350h1.3v1.3h-1.3zM209 423h1.3v1.3h-1.3zM201 421h1.3v1.3h-1.3zM389 428h1.3v1.3h-1.3zM377 241h1.3v1.3h-1.3zM183 479h1.3v1.3h-1.3zM207 481h1.3v1.3h-1.3zM343 337h1.3v1.3h-1.3zM323 344h1.3v1.3h-1.3zM348 236h1.3v1.3h-1.3zM246 409h1.3v1.3h-1.3zM388 288h1.3v1.3h-1.3zM386 280h1.3v1.3h-1.3zM375 217h1.3v1.3h-1.3zM325 351h1.3v1.3h-1.3zM391 277h1.3v1.3h-1.3zM263 394h1.3v1.3h-1.3zM219 435h1.3v1.3h-1.3zM324 307h1.3v1.3h-1.3zM311 354h1.3v1.3h-1.3zM362 110h1.3v1.3h-1.3zM362 314h1.3v1.3h-1.3zM307 276h1.3v1.3h-1.3zM408 350h1.3v1.3h-1.3zM330 298h1.3v1.3h-1.3zM378 232h1.3v1.3h-1.3zM344 208h1.3v1.3h-1.3zM519 455h1.3v1.3h-1.3zM356 166h1.3v1.3h-1.3zM363 339h1.3v1.3h-1.3zM292 369h1.3v1.3h-1.3zM345 256h1.3v1.3h-1.3zM386 267h1.3v1.3h-1.3zM260 395h1.3v1.3h-1.3zM276 386h1.3v1.3h-1.3zM332 294h1.3v1.3h-1.3zM338 269h1.3v1.3h-1.3zM380 242h1.3v1.3h-1.3zM263 368h1.3v1.3h-1.3zM362 328h1.3v1.3h-1.3zM349 212h1.3v1.3h-1.3zM304 334h1.3v1.3h-1.3zM268 366h1.3v1.3h-1.3zM405 347h1.3v1.3h-1.3zM501 413h1.3v1.3h-1.3zM251 406h1.3v1.3h-1.3zM506 441h1.3v1.3h-1.3zM318 298h1.3v1.3h-1.3zM365 343h1.3v1.3h-1.3zM342 221h1.3v1.3h-1.3zM243 417h1.3v1.3h-1.3zM379 265h1.3v1.3h-1.3zM362 118h1.3v1.3h-1.3zM343 271h1.3v1.3h-1.3zM368 320h1.3v1.3h-1.3zM368 178h1.3v1.3h-1.3zM385 257h1.3v1.3h-1.3zM223 437h1.3v1.3h-1.3zM266 388h1.3v1.3h-1.3zM311 376h1.3v1.3h-1.3zM207 453h1.3v1.3h-1.3zM367 182h1.3v1.3h-1.3zM333 336h1.3v1.3h-1.3zM361 86h1.3v1.3h-1.3zM398 183h1.3v1.3h-1.3zM390 333h1.3v1.3h-1.3zM294 349h1.3v1.3h-1.3zM396 294h1.3v1.3h-1.3zM234 428h1.3v1.3h-1.3zM407 309h1.3v1.3h-1.3zM290 307h1.3v1.3h-1.3zM426 366h1.3v1.3h-1.3zM365 309h1.3v1.3h-1.3zM373 146h1.3v1.3h-1.3zM345 252h1.3v1.3h-1.3zM338 282h1.3v1.3h-1.3zM377 219h1.3v1.3h-1.3zM443 368h1.3v1.3h-1.3zM347 321h1.3v1.3h-1.3zM216 442h1.3v1.3h-1.3zM175 479h1.3v1.3h-1.3zM388 293h1.3v1.3h-1.3zM366 337h1.3v1.3h-1.3zM192 435h1.3v1.3h-1.3zM399 340h1.3v1.3h-1.3zM378 342h1.3v1.3h-1.3zM360 150h1.3v1.3h-1.3zM346 338h1.3v1.3h-1.3zM223 417h1.3v1.3h-1.3zM384 287h1.3v1.3h-1.3zM366 349h1.3v1.3h-1.3zM397 340h1.3v1.3h-1.3zM355 32h1.3v1.3h-1.3zM355 196h1.3v1.3h-1.3zM338 289h1.3v1.3h-1.3zM310 354h1.3v1.3h-1.3zM322 312h1.3v1.3h-1.3zM382 273h1.3v1.3h-1.3zM437 372h1.3v1.3h-1.3zM368 183h1.3v1.3h-1.3zM354 195h1.3v1.3h-1.3zM346 259h1.3v1.3h-1.3zM379 240h1.3v1.3h-1.3zM387 272h1.3v1.3h-1.3zM268 384h1.3v1.3h-1.3zM352 319h1.3v1.3h-1.3zM393 293h1.3v1.3h-1.3zM338 359h1.3v1.3h-1.3zM363 117h1.3v1.3h-1.3zM418 357h1.3v1.3h-1.3zM421 359h1.3v1.3h-1.3zM344 256h1.3v1.3h-1.3zM380 237h1.3v1.3h-1.3zM345 257h1.3v1.3h-1.3zM281 367h1.3v1.3h-1.3zM300 362h1.3v1.3h-1.3zM358 344h1.3v1.3h-1.3zM382 331h1.3v1.3h-1.3zM384 265h1.3v1.3h-1.3zM370 342h1.3v1.3h-1.3zM448 373h1.3v1.3h-1.3zM369 188h1.3v1.3h-1.3zM289 358h1.3v1.3h-1.3zM387 330h1.3v1.3h-1.3zM411 138h1.3v1.3h-1.3zM488 55h1.3v1.3h-1.3zM330 286h1.3v1.3h-1.3zM346 344h1.3v1.3h-1.3zM335 293h1.3v1.3h-1.3zM489 423h1.3v1.3h-1.3zM351 321h1.3v1.3h-1.3zM405 346h1.3v1.3h-1.3zM479 192h1.3v1.3h-1.3zM344 229h1.3v1.3h-1.3zM530 470h1.3v1.3h-1.3zM397 362h1.3v1.3h-1.3zM482 419h1.3v1.3h-1.3zM431 370h1.3v1.3h-1.3zM414 326h1.3v1.3h-1.3zM431 368h1.3v1.3h-1.3zM454 382h1.3v1.3h-1.3zM250 355h1.3v1.3h-1.3zM340 289h1.3v1.3h-1.3zM358 319h1.3v1.3h-1.3zM477 416h1.3v1.3h-1.3zM293 342h1.3v1.3h-1.3zM201 461h1.3v1.3h-1.3zM348 232h1.3v1.3h-1.3zM370 327h1.3v1.3h-1.3zM501 450h1.3v1.3h-1.3zM346 214h1.3v1.3h-1.3zM389 332h1.3v1.3h-1.3zM356 183h1.3v1.3h-1.3zM331 336h1.3v1.3h-1.3zM360 312h1.3v1.3h-1.3zM346 174h1.3v1.3h-1.3zM401 344h1.3v1.3h-1.3zM334 291h1.3v1.3h-1.3zM460 354h1.3v1.3h-1.3zM364 141h1.3v1.3h-1.3zM371 319h1.3v1.3h-1.3zM381 268h1.3v1.3h-1.3zM334 283h1.3v1.3h-1.3zM334 175h1.3v1.3h-1.3zM342 337h1.3v1.3h-1.3zM504 441h1.3v1.3h-1.3zM365 64h1.3v1.3h-1.3zM308 332h1.3v1.3h-1.3zM362 136h1.3v1.3h-1.3zM271 381h1.3v1.3h-1.3zM417 332h1.3v1.3h-1.3zM483 417h1.3v1.3h-1.3zM355 171h1.3v1.3h-1.3zM387 346h1.3v1.3h-1.3zM314 355h1.3v1.3h-1.3zM468 400h1.3v1.3h-1.3zM394 299h1.3v1.3h-1.3zM398 345h1.3v1.3h-1.3zM399 300h1.3v1.3h-1.3zM451 417h1.3v1.3h-1.3zM390 292h1.3v1.3h-1.3zM323 304h1.3v1.3h-1.3zM186 478h1.3v1.3h-1.3zM352 322h1.3v1.3h-1.3zM348 224h1.3v1.3h-1.3zM226 437h1.3v1.3h-1.3zM329 302h1.3v1.3h-1.3zM348 342h1.3v1.3h-1.3zM265 379h1.3v1.3h-1.3zM366 169h1.3v1.3h-1.3zM339 289h1.3v1.3h-1.3zM350 318h1.3v1.3h-1.3zM164 59h1.3v1.3h-1.3zM344 258h1.3v1.3h-1.3zM362 310h1.3v1.3h-1.3zM343 259h1.3v1.3h-1.3zM343 329h1.3v1.3h-1.3zM553 485h1.3v1.3h-1.3zM327 364h1.3v1.3h-1.3zM502 437h1.3v1.3h-1.3zM480 454h1.3v1.3h-1.3zM372 188h1.3v1.3h-1.3zM379 270h1.3v1.3h-1.3zM311 328h1.3v1.3h-1.3zM361 309h1.3v1.3h-1.3zM457 398h1.3v1.3h-1.3zM412 324h1.3v1.3h-1.3zM330 303h1.3v1.3h-1.3zM359 313h1.3v1.3h-1.3zM358 178h1.3v1.3h-1.3zM239 426h1.3v1.3h-1.3zM362 355h1.3v1.3h-1.3zM372 315h1.3v1.3h-1.3zM377 236h1.3v1.3h-1.3zM457 394h1.3v1.3h-1.3zM405 312h1.3v1.3h-1.3zM353 95h1.3v1.3h-1.3zM384 326h1.3v1.3h-1.3zM362 81h1.3v1.3h-1.3zM195 421h1.3v1.3h-1.3zM337 265h1.3v1.3h-1.3zM363 134h1.3v1.3h-1.3zM429 348h1.3v1.3h-1.3zM363 67h1.3v1.3h-1.3zM338 274h1.3v1.3h-1.3zM356 85h1.3v1.3h-1.3zM253 403h1.3v1.3h-1.3zM257 448h1.3v1.3h-1.3zM482 423h1.3v1.3h-1.3zM439 363h1.3v1.3h-1.3zM274 392h1.3v1.3h-1.3zM393 340h1.3v1.3h-1.3zM259 400h1.3v1.3h-1.3zM549 462h1.3v1.3h-1.3zM344 251h1.3v1.3h-1.3zM374 343h1.3v1.3h-1.3zM345 332h1.3v1.3h-1.3zM362 26h1.3v1.3h-1.3zM347 200h1.3v1.3h-1.3zM383 331h1.3v1.3h-1.3zM337 289h1.3v1.3h-1.3zM399 308h1.3v1.3h-1.3zM363 69h1.3v1.3h-1.3zM367 323h1.3v1.3h-1.3zM314 299h1.3v1.3h-1.3zM496 399h1.3v1.3h-1.3zM425 343h1.3v1.3h-1.3zM393 300h1.3v1.3h-1.3zM190 474h1.3v1.3h-1.3zM357 181h1.3v1.3h-1.3zM362 128h1.3v1.3h-1.3zM365 91h1.3v1.3h-1.3zM408 317h1.3v1.3h-1.3zM213 434h1.3v1.3h-1.3zM481 412h1.3v1.3h-1.3zM290 355h1.3v1.3h-1.3zM364 118h1.3v1.3h-1.3zM337 263h1.3v1.3h-1.3zM326 349h1.3v1.3h-1.3zM373 316h1.3v1.3h-1.3zM333 341h1.3v1.3h-1.3zM375 218h1.3v1.3h-1.3zM370 333h1.3v1.3h-1.3zM325 296h1.3v1.3h-1.3zM230 442h1.3v1.3h-1.3zM395 297h1.3v1.3h-1.3zM394 297h1.3v1.3h-1.3zM391 270h1.3v1.3h-1.3zM323 343h1.3v1.3h-1.3zM200 464h1.3v1.3h-1.3zM378 100h1.3v1.3h-1.3zM385 286h1.3v1.3h-1.3zM276 384h1.3v1.3h-1.3zM423 360h1.3v1.3h-1.3zM332 282h1.3v1.3h-1.3zM376 211h1.3v1.3h-1.3zM482 414h1.3v1.3h-1.3zM343 277h1.3v1.3h-1.3zM312 386h1.3v1.3h-1.3zM311 352h1.3v1.3h-1.3zM342 222h1.3v1.3h-1.3zM388 283h1.3v1.3h-1.3zM314 305h1.3v1.3h-1.3zM393 297h1.3v1.3h-1.3zM400 295h1.3v1.3h-1.3zM397 299h1.3v1.3h-1.3zM368 331h1.3v1.3h-1.3zM305 371h1.3v1.3h-1.3zM244 417h1.3v1.3h-1.3zM382 275h1.3v1.3h-1.3zM214 452h1.3v1.3h-1.3zM448 374h1.3v1.3h-1.3zM433 385h1.3v1.3h-1.3zM298 346h1.3v1.3h-1.3zM392 284h1.3v1.3h-1.3zM364 123h1.3v1.3h-1.3zM378 208h1.3v1.3h-1.3zM207 454h1.3v1.3h-1.3zM332 337h1.3v1.3h-1.3zM259 403h1.3v1.3h-1.3zM474 411h1.3v1.3h-1.3zM227 381h1.3v1.3h-1.3zM379 262h1.3v1.3h-1.3zM197 465h1.3v1.3h-1.3zM422 318h1.3v1.3h-1.3zM353 197h1.3v1.3h-1.3zM474 412h1.3v1.3h-1.3zM488 424h1.3v1.3h-1.3zM477 408h1.3v1.3h-1.3zM275 403h1.3v1.3h-1.3zM370 189h1.3v1.3h-1.3zM271 403h1.3v1.3h-1.3zM351 327h1.3v1.3h-1.3zM386 272h1.3v1.3h-1.3zM378 233h1.3v1.3h-1.3zM355 315h1.3v1.3h-1.3zM310 323h1.3v1.3h-1.3zM428 365h1.3v1.3h-1.3zM358 158h1.3v1.3h-1.3zM471 406h1.3v1.3h-1.3zM347 187h1.3v1.3h-1.3zM370 180h1.3v1.3h-1.3zM529 464h1.3v1.3h-1.3zM295 368h1.3v1.3h-1.3zM319 315h1.3v1.3h-1.3zM260 403h1.3v1.3h-1.3zM363 326h1.3v1.3h-1.3zM392 295h1.3v1.3h-1.3zM399 341h1.3v1.3h-1.3zM338 272h1.3v1.3h-1.3zM328 281h1.3v1.3h-1.3zM317 319h1.3v1.3h-1.3zM516 485h1.3v1.3h-1.3zM385 344h1.3v1.3h-1.3zM385 256h1.3v1.3h-1.3zM429 325h1.3v1.3h-1.3zM375 172h1.3v1.3h-1.3zM394 291h1.3v1.3h-1.3zM333 334h1.3v1.3h-1.3zM344 326h1.3v1.3h-1.3zM409 313h1.3v1.3h-1.3zM361 127h1.3v1.3h-1.3zM253 404h1.3v1.3h-1.3zM461 393h1.3v1.3h-1.3zM412 373h1.3v1.3h-1.3zM384 288h1.3v1.3h-1.3zM404 315h1.3v1.3h-1.3zM392 293h1.3v1.3h-1.3zM336 124h1.3v1.3h-1.3zM302 360h1.3v1.3h-1.3zM385 266h1.3v1.3h-1.3zM243 410h1.3v1.3h-1.3zM383 286h1.3v1.3h-1.3zM463 399h1.3v1.3h-1.3zM378 243h1.3v1.3h-1.3zM387 333h1.3v1.3h-1.3zM368 318h1.3v1.3h-1.3zM383 243h1.3v1.3h-1.3zM379 323h1.3v1.3h-1.3zM472 410h1.3v1.3h-1.3zM535 256h1.3v1.3h-1.3zM379 222h1.3v1.3h-1.3zM483 415h1.3v1.3h-1.3zM289 371h1.3v1.3h-1.3zM280 389h1.3v1.3h-1.3zM364 342h1.3v1.3h-1.3zM377 388h1.3v1.3h-1.3zM489 425h1.3v1.3h-1.3zM385 328h1.3v1.3h-1.3zM184 480h1.3v1.3h-1.3zM375 215h1.3v1.3h-1.3zM423 332h1.3v1.3h-1.3zM360 138h1.3v1.3h-1.3zM382 248h1.3v1.3h-1.3zM450 376h1.3v1.3h-1.3zM373 199h1.3v1.3h-1.3zM561 119h1.3v1.3h-1.3zM526 459h1.3v1.3h-1.3zM221 445h1.3v1.3h-1.3zM416 364h1.3v1.3h-1.3zM303 336h1.3v1.3h-1.3zM491 425h1.3v1.3h-1.3zM360 334h1.3v1.3h-1.3zM362 58h1.3v1.3h-1.3zM347 212h1.3v1.3h-1.3zM516 444h1.3v1.3h-1.3zM309 358h1.3v1.3h-1.3zM345 229h1.3v1.3h-1.3zM382 265h1.3v1.3h-1.3zM347 211h1.3v1.3h-1.3zM345 249h1.3v1.3h-1.3zM490 425h1.3v1.3h-1.3zM325 291h1.3v1.3h-1.3zM292 355h1.3v1.3h-1.3zM345 254h1.3v1.3h-1.3zM241 383h1.3v1.3h-1.3zM397 305h1.3v1.3h-1.3zM382 251h1.3v1.3h-1.3zM328 298h1.3v1.3h-1.3zM143 127h1.3v1.3h-1.3zM264 416h1.3v1.3h-1.3zM266 386h1.3v1.3h-1.3zM317 294h1.3v1.3h-1.3zM360 157h1.3v1.3h-1.3zM362 31h1.3v1.3h-1.3zM361 96h1.3v1.3h-1.3zM397 265h1.3v1.3h-1.3zM462 357h1.3v1.3h-1.3zM363 105h1.3v1.3h-1.3zM356 313h1.3v1.3h-1.3zM357 338h1.3v1.3h-1.3zM396 341h1.3v1.3h-1.3zM295 370h1.3v1.3h-1.3zM311 322h1.3v1.3h-1.3zM367 315h1.3v1.3h-1.3zM205 467h1.3v1.3h-1.3zM390 295h1.3v1.3h-1.3zM408 267h1.3v1.3h-1.3zM278 362h1.3v1.3h-1.3zM395 338h1.3v1.3h-1.3zM399 277h1.3v1.3h-1.3zM339 273h1.3v1.3h-1.3zM351 317h1.3v1.3h-1.3zM273 375h1.3v1.3h-1.3zM360 317h1.3v1.3h-1.3zM349 82h1.3v1.3h-1.3zM345 248h1.3v1.3h-1.3zM329 175h1.3v1.3h-1.3zM337 288h1.3v1.3h-1.3zM340 329h1.3v1.3h-1.3zM404 365h1.3v1.3h-1.3zM341 213h1.3v1.3h-1.3zM342 275h1.3v1.3h-1.3zM391 299h1.3v1.3h-1.3zM243 415h1.3v1.3h-1.3zM271 422h1.3v1.3h-1.3zM412 351h1.3v1.3h-1.3zM388 278h1.3v1.3h-1.3zM393 108h1.3v1.3h-1.3zM362 28h1.3v1.3h-1.3zM454 389h1.3v1.3h-1.3zM261 396h1.3v1.3h-1.3zM433 83h1.3v1.3h-1.3zM393 301h1.3v1.3h-1.3zM424 341h1.3v1.3h-1.3zM295 346h1.3v1.3h-1.3zM328 303h1.3v1.3h-1.3zM354 185h1.3v1.3h-1.3zM344 248h1.3v1.3h-1.3zM380 264h1.3v1.3h-1.3zM208 192h1.3v1.3h-1.3zM471 408h1.3v1.3h-1.3zM136 209h1.3v1.3h-1.3zM466 403h1.3v1.3h-1.3zM381 270h1.3v1.3h-1.3zM329 339h1.3v1.3h-1.3zM243 198h1.3v1.3h-1.3zM329 345h1.3v1.3h-1.3zM515 452h1.3v1.3h-1.3zM466 398h1.3v1.3h-1.3zM392 281h1.3v1.3h-1.3zM386 334h1.3v1.3h-1.3zM378 236h1.3v1.3h-1.3zM388 183h1.3v1.3h-1.3zM219 394h1.3v1.3h-1.3zM351 195h1.3v1.3h-1.3zM481 414h1.3v1.3h-1.3zM369 321h1.3v1.3h-1.3zM349 348h1.3v1.3h-1.3zM313 351h1.3v1.3h-1.3zM301 309h1.3v1.3h-1.3zM401 341h1.3v1.3h-1.3zM347 226h1.3v1.3h-1.3zM392 289h1.3v1.3h-1.3zM387 341h1.3v1.3h-1.3zM342 226h1.3v1.3h-1.3zM315 350h1.3v1.3h-1.3zM454 324h1.3v1.3h-1.3zM302 362h1.3v1.3h-1.3zM349 220h1.3v1.3h-1.3zM464 392h1.3v1.3h-1.3zM386 281h1.3v1.3h-1.3zM434 399h1.3v1.3h-1.3zM585 422h1.3v1.3h-1.3zM334 343h1.3v1.3h-1.3zM346 242h1.3v1.3h-1.3zM365 319h1.3v1.3h-1.3zM237 424h1.3v1.3h-1.3zM352 167h1.3v1.3h-1.3zM382 274h1.3v1.3h-1.3zM380 254h1.3v1.3h-1.3zM383 277h1.3v1.3h-1.3zM438 379h1.3v1.3h-1.3zM251 403h1.3v1.3h-1.3zM344 273h1.3v1.3h-1.3zM356 184h1.3v1.3h-1.3zM388 343h1.3v1.3h-1.3zM344 331h1.3v1.3h-1.3zM393 291h1.3v1.3h-1.3zM247 401h1.3v1.3h-1.3zM363 93h1.3v1.3h-1.3zM263 96h1.3v1.3h-1.3zM359 153h1.3v1.3h-1.3zM335 284h1.3v1.3h-1.3zM362 94h1.3v1.3h-1.3zM275 376h1.3v1.3h-1.3zM270 383h1.3v1.3h-1.3zM364 138h1.3v1.3h-1.3zM413 352h1.3v1.3h-1.3zM373 322h1.3v1.3h-1.3zM341 260h1.3v1.3h-1.3zM384 373h1.3v1.3h-1.3zM386 331h1.3v1.3h-1.3zM406 308h1.3v1.3h-1.3zM400 302h1.3v1.3h-1.3zM378 439h1.3v1.3h-1.3zM365 337h1.3v1.3h-1.3zM376 350h1.3v1.3h-1.3zM349 233h1.3v1.3h-1.3zM479 387h1.3v1.3h-1.3zM329 304h1.3v1.3h-1.3zM158 218h1.3v1.3h-1.3zM361 132h1.3v1.3h-1.3zM421 332h1.3v1.3h-1.3zM276 362h1.3v1.3h-1.3zM423 339h1.3v1.3h-1.3zM357 175h1.3v1.3h-1.3zM379 20h1.3v1.3h-1.3zM348 324h1.3v1.3h-1.3zM209 444h1.3v1.3h-1.3zM356 182h1.3v1.3h-1.3zM361 67h1.3v1.3h-1.3zM115 195h1.3v1.3h-1.3zM343 266h1.3v1.3h-1.3zM362 69h1.3v1.3h-1.3zM280 358h1.3v1.3h-1.3zM348 328h1.3v1.3h-1.3zM345 241h1.3v1.3h-1.3zM365 165h1.3v1.3h-1.3zM348 210h1.3v1.3h-1.3zM389 333h1.3v1.3h-1.3zM398 342h1.3v1.3h-1.3zM318 317h1.3v1.3h-1.3zM445 385h1.3v1.3h-1.3zM357 322h1.3v1.3h-1.3zM345 334h1.3v1.3h-1.3zM461 394h1.3v1.3h-1.3zM367 183h1.3v1.3h-1.3zM265 376h1.3v1.3h-1.3zM383 337h1.3v1.3h-1.3zM363 322h1.3v1.3h-1.3zM345 100h1.3v1.3h-1.3zM275 384h1.3v1.3h-1.3zM349 334h1.3v1.3h-1.3zM324 346h1.3v1.3h-1.3zM437 314h1.3v1.3h-1.3zM354 327h1.3v1.3h-1.3zM358 340h1.3v1.3h-1.3zM362 125h1.3v1.3h-1.3zM486 421h1.3v1.3h-1.3zM408 352h1.3v1.3h-1.3zM389 288h1.3v1.3h-1.3zM468 399h1.3v1.3h-1.3zM403 313h1.3v1.3h-1.3zM330 293h1.3v1.3h-1.3zM377 200h1.3v1.3h-1.3zM461 389h1.3v1.3h-1.3zM443 367h1.3v1.3h-1.3zM389 287h1.3v1.3h-1.3zM265 392h1.3v1.3h-1.3zM200 461h1.3v1.3h-1.3zM469 422h1.3v1.3h-1.3zM350 219h1.3v1.3h-1.3zM417 288h1.3v1.3h-1.3zM330 342h1.3v1.3h-1.3zM343 251h1.3v1.3h-1.3zM403 347h1.3v1.3h-1.3zM352 330h1.3v1.3h-1.3zM349 323h1.3v1.3h-1.3zM416 363h1.3v1.3h-1.3zM336 283h1.3v1.3h-1.3zM363 79h1.3v1.3h-1.3zM448 404h1.3v1.3h-1.3zM301 370h1.3v1.3h-1.3zM471 405h1.3v1.3h-1.3zM348 193h1.3v1.3h-1.3zM391 294h1.3v1.3h-1.3zM275 400h1.3v1.3h-1.3zM382 246h1.3v1.3h-1.3zM478 412h1.3v1.3h-1.3zM398 341h1.3v1.3h-1.3zM352 326h1.3v1.3h-1.3zM350 181h1.3v1.3h-1.3zM386 338h1.3v1.3h-1.3zM323 354h1.3v1.3h-1.3zM365 359h1.3v1.3h-1.3zM258 399h1.3v1.3h-1.3zM406 351h1.3v1.3h-1.3zM410 320h1.3v1.3h-1.3zM289 343h1.3v1.3h-1.3zM397 339h1.3v1.3h-1.3zM379 156h1.3v1.3h-1.3zM348 351h1.3v1.3h-1.3zM360 322h1.3v1.3h-1.3zM518 465h1.3v1.3h-1.3zM387 366h1.3v1.3h-1.3zM289 357h1.3v1.3h-1.3zM373 213h1.3v1.3h-1.3zM404 345h1.3v1.3h-1.3zM200 444h1.3v1.3h-1.3zM451 388h1.3v1.3h-1.3zM338 332h1.3v1.3h-1.3zM311 293h1.3v1.3h-1.3zM325 361h1.3v1.3h-1.3zM298 365h1.3v1.3h-1.3zM341 119h1.3v1.3h-1.3zM305 361h1.3v1.3h-1.3zM350 405h1.3v1.3h-1.3zM387 293h1.3v1.3h-1.3zM343 351h1.3v1.3h-1.3zM461 440h1.3v1.3h-1.3zM299 342h1.3v1.3h-1.3zM257 399h1.3v1.3h-1.3zM377 222h1.3v1.3h-1.3zM340 257h1.3v1.3h-1.3zM422 339h1.3v1.3h-1.3zM391 378h1.3v1.3h-1.3zM343 234h1.3v1.3h-1.3zM335 262h1.3v1.3h-1.3zM313 313h1.3v1.3h-1.3zM340 339h1.3v1.3h-1.3zM363 27h1.3v1.3h-1.3zM379 238h1.3v1.3h-1.3zM233 425h1.3v1.3h-1.3zM222 417h1.3v1.3h-1.3zM317 269h1.3v1.3h-1.3zM455 394h1.3v1.3h-1.3zM306 331h1.3v1.3h-1.3zM340 279h1.3v1.3h-1.3zM360 340h1.3v1.3h-1.3zM381 257h1.3v1.3h-1.3zM540 469h1.3v1.3h-1.3zM476 407h1.3v1.3h-1.3zM278 51h1.3v1.3h-1.3zM247 404h1.3v1.3h-1.3zM259 398h1.3v1.3h-1.3zM409 348h1.3v1.3h-1.3zM312 360h1.3v1.3h-1.3zM397 375h1.3v1.3h-1.3zM345 275h1.3v1.3h-1.3zM404 310h1.3v1.3h-1.3zM439 383h1.3v1.3h-1.3zM417 333h1.3v1.3h-1.3zM427 329h1.3v1.3h-1.3zM303 361h1.3v1.3h-1.3zM350 320h1.3v1.3h-1.3zM388 172h1.3v1.3h-1.3zM267 387h1.3v1.3h-1.3zM384 251h1.3v1.3h-1.3zM461 395h1.3v1.3h-1.3zM383 227h1.3v1.3h-1.3zM415 354h1.3v1.3h-1.3zM228 202h1.3v1.3h-1.3zM332 266h1.3v1.3h-1.3zM363 98h1.3v1.3h-1.3zM346 231h1.3v1.3h-1.3zM422 314h1.3v1.3h-1.3zM378 230h1.3v1.3h-1.3zM281 381h1.3v1.3h-1.3zM343 260h1.3v1.3h-1.3zM386 262h1.3v1.3h-1.3zM376 328h1.3v1.3h-1.3zM352 185h1.3v1.3h-1.3zM324 354h1.3v1.3h-1.3zM331 345h1.3v1.3h-1.3zM354 333h1.3v1.3h-1.3zM302 339h1.3v1.3h-1.3zM464 401h1.3v1.3h-1.3zM328 300h1.3v1.3h-1.3zM311 318h1.3v1.3h-1.3zM435 388h1.3v1.3h-1.3zM491 433h1.3v1.3h-1.3zM300 366h1.3v1.3h-1.3zM360 161h1.3v1.3h-1.3zM411 281h1.3v1.3h-1.3zM184 479h1.3v1.3h-1.3zM335 277h1.3v1.3h-1.3zM342 333h1.3v1.3h-1.3zM505 441h1.3v1.3h-1.3zM346 339h1.3v1.3h-1.3zM463 391h1.3v1.3h-1.3zM388 286h1.3v1.3h-1.3zM475 406h1.3v1.3h-1.3zM349 319h1.3v1.3h-1.3zM347 329h1.3v1.3h-1.3zM233 426h1.3v1.3h-1.3zM454 349h1.3v1.3h-1.3zM368 125h1.3v1.3h-1.3zM373 201h1.3v1.3h-1.3zM305 336h1.3v1.3h-1.3zM376 225h1.3v1.3h-1.3zM373 194h1.3v1.3h-1.3zM379 255h1.3v1.3h-1.3zM350 225h1.3v1.3h-1.3zM301 338h1.3v1.3h-1.3zM310 218h1.3v1.3h-1.3zM342 237h1.3v1.3h-1.3zM211 460h1.3v1.3h-1.3zM340 327h1.3v1.3h-1.3zM284 364h1.3v1.3h-1.3zM380 247h1.3v1.3h-1.3zM438 373h1.3v1.3h-1.3zM356 147h1.3v1.3h-1.3zM505 439h1.3v1.3h-1.3zM455 392h1.3v1.3h-1.3zM304 300h1.3v1.3h-1.3zM378 228h1.3v1.3h-1.3zM420 302h1.3v1.3h-1.3zM318 245h1.3v1.3h-1.3zM346 220h1.3v1.3h-1.3zM376 215h1.3v1.3h-1.3zM300 363h1.3v1.3h-1.3zM359 330h1.3v1.3h-1.3zM393 246h1.3v1.3h-1.3zM385 268h1.3v1.3h-1.3zM381 280h1.3v1.3h-1.3zM390 351h1.3v1.3h-1.3zM351 201h1.3v1.3h-1.3zM454 379h1.3v1.3h-1.3zM307 332h1.3v1.3h-1.3zM370 328h1.3v1.3h-1.3zM358 165h1.3v1.3h-1.3zM525 429h1.3v1.3h-1.3zM395 303h1.3v1.3h-1.3zM377 243h1.3v1.3h-1.3zM371 187h1.3v1.3h-1.3zM333 340h1.3v1.3h-1.3zM342 260h1.3v1.3h-1.3zM206 456h1.3v1.3h-1.3zM586 470h1.3v1.3h-1.3zM388 287h1.3v1.3h-1.3zM276 375h1.3v1.3h-1.3zM291 357h1.3v1.3h-1.3zM346 322h1.3v1.3h-1.3zM333 366h1.3v1.3h-1.3zM366 326h1.3v1.3h-1.3zM372 204h1.3v1.3h-1.3zM358 368h1.3v1.3h-1.3zM374 208h1.3v1.3h-1.3zM343 332h1.3v1.3h-1.3zM508 447h1.3v1.3h-1.3zM424 301h1.3v1.3h-1.3zM398 354h1.3v1.3h-1.3zM345 237h1.3v1.3h-1.3zM341 223h1.3v1.3h-1.3zM362 86h1.3v1.3h-1.3zM342 280h1.3v1.3h-1.3zM362 104h1.3v1.3h-1.3zM363 54h1.3v1.3h-1.3zM382 245h1.3v1.3h-1.3zM425 285h1.3v1.3h-1.3zM419 357h1.3v1.3h-1.3zM459 367h1.3v1.3h-1.3zM344 330h1.3v1.3h-1.3zM353 200h1.3v1.3h-1.3zM378 247h1.3v1.3h-1.3zM417 331h1.3v1.3h-1.3zM400 310h1.3v1.3h-1.3zM342 362h1.3v1.3h-1.3zM455 378h1.3v1.3h-1.3zM238 423h1.3v1.3h-1.3zM361 52h1.3v1.3h-1.3zM238 419h1.3v1.3h-1.3zM525 417h1.3v1.3h-1.3zM443 380h1.3v1.3h-1.3zM396 291h1.3v1.3h-1.3zM379 334h1.3v1.3h-1.3zM292 376h1.3v1.3h-1.3zM363 91h1.3v1.3h-1.3zM356 185h1.3v1.3h-1.3zM320 309h1.3v1.3h-1.3zM266 390h1.3v1.3h-1.3zM353 192h1.3v1.3h-1.3zM224 132h1.3v1.3h-1.3zM453 392h1.3v1.3h-1.3zM346 221h1.3v1.3h-1.3zM353 341h1.3v1.3h-1.3zM283 393h1.3v1.3h-1.3zM204 459h1.3v1.3h-1.3zM555 425h1.3v1.3h-1.3zM243 418h1.3v1.3h-1.3zM361 20h1.3v1.3h-1.3zM295 367h1.3v1.3h-1.3zM129 226h1.3v1.3h-1.3zM383 250h1.3v1.3h-1.3zM457 375h1.3v1.3h-1.3zM340 341h1.3v1.3h-1.3zM336 281h1.3v1.3h-1.3zM424 340h1.3v1.3h-1.3zM173 209h1.3v1.3h-1.3zM304 361h1.3v1.3h-1.3zM338 271h1.3v1.3h-1.3zM262 397h1.3v1.3h-1.3zM348 220h1.3v1.3h-1.3zM309 357h1.3v1.3h-1.3zM368 179h1.3v1.3h-1.3zM384 276h1.3v1.3h-1.3zM354 354h1.3v1.3h-1.3zM343 364h1.3v1.3h-1.3zM276 387h1.3v1.3h-1.3zM387 140h1.3v1.3h-1.3zM233 424h1.3v1.3h-1.3zM378 370h1.3v1.3h-1.3zM391 244h1.3v1.3h-1.3zM343 272h1.3v1.3h-1.3zM366 318h1.3v1.3h-1.3zM349 368h1.3v1.3h-1.3zM272 390h1.3v1.3h-1.3zM337 332h1.3v1.3h-1.3zM416 321h1.3v1.3h-1.3zM520 472h1.3v1.3h-1.3zM440 376h1.3v1.3h-1.3zM262 391h1.3v1.3h-1.3zM369 181h1.3v1.3h-1.3zM361 54h1.3v1.3h-1.3zM377 221h1.3v1.3h-1.3zM357 319h1.3v1.3h-1.3zM202 435h1.3v1.3h-1.3zM418 327h1.3v1.3h-1.3zM457 383h1.3v1.3h-1.3zM365 138h1.3v1.3h-1.3zM422 383h1.3v1.3h-1.3zM356 170h1.3v1.3h-1.3zM476 408h1.3v1.3h-1.3zM480 389h1.3v1.3h-1.3zM339 276h1.3v1.3h-1.3zM377 191h1.3v1.3h-1.3zM304 360h1.3v1.3h-1.3zM327 304h1.3v1.3h-1.3zM372 205h1.3v1.3h-1.3zM419 334h1.3v1.3h-1.3zM408 308h1.3v1.3h-1.3zM371 328h1.3v1.3h-1.3zM389 371h1.3v1.3h-1.3zM350 203h1.3v1.3h-1.3zM454 410h1.3v1.3h-1.3zM432 343h1.3v1.3h-1.3zM406 376h1.3v1.3h-1.3zM264 398h1.3v1.3h-1.3zM269 382h1.3v1.3h-1.3zM353 317h1.3v1.3h-1.3zM255 403h1.3v1.3h-1.3zM402 309h1.3v1.3h-1.3zM269 390h1.3v1.3h-1.3zM382 264h1.3v1.3h-1.3zM351 208h1.3v1.3h-1.3zM287 422h1.3v1.3h-1.3zM342 283h1.3v1.3h-1.3zM386 344h1.3v1.3h-1.3zM301 363h1.3v1.3h-1.3zM483 418h1.3v1.3h-1.3zM339 266h1.3v1.3h-1.3zM274 355h1.3v1.3h-1.3zM298 343h1.3v1.3h-1.3zM470 401h1.3v1.3h-1.3zM326 367h1.3v1.3h-1.3zM348 214h1.3v1.3h-1.3zM339 272h1.3v1.3h-1.3zM361 110h1.3v1.3h-1.3zM320 345h1.3v1.3h-1.3zM365 164h1.3v1.3h-1.3zM334 340h1.3v1.3h-1.3zM293 245h1.3v1.3h-1.3zM283 380h1.3v1.3h-1.3zM238 424h1.3v1.3h-1.3zM482 433h1.3v1.3h-1.3zM378 214h1.3v1.3h-1.3zM521 461h1.3v1.3h-1.3zM342 256h1.3v1.3h-1.3zM167 233h1.3v1.3h-1.3zM395 130h1.3v1.3h-1.3zM477 406h1.3v1.3h-1.3zM362 12h1.3v1.3h-1.3zM360 336h1.3v1.3h-1.3zM429 349h1.3v1.3h-1.3zM375 214h1.3v1.3h-1.3zM347 234h1.3v1.3h-1.3zM236 422h1.3v1.3h-1.3zM356 186h1.3v1.3h-1.3zM348 320h1.3v1.3h-1.3zM278 372h1.3v1.3h-1.3zM492 471h1.3v1.3h-1.3zM362 40h1.3v1.3h-1.3zM326 233h1.3v1.3h-1.3zM407 351h1.3v1.3h-1.3zM377 349h1.3v1.3h-1.3zM414 322h1.3v1.3h-1.3zM370 315h1.3v1.3h-1.3zM391 106h1.3v1.3h-1.3zM483 416h1.3v1.3h-1.3zM377 226h1.3v1.3h-1.3zM338 128h1.3v1.3h-1.3zM380 274h1.3v1.3h-1.3zM358 310h1.3v1.3h-1.3zM349 237h1.3v1.3h-1.3zM361 144h1.3v1.3h-1.3zM363 11h1.3v1.3h-1.3zM320 344h1.3v1.3h-1.3zM347 58h1.3v1.3h-1.3zM532 458h1.3v1.3h-1.3zM415 382h1.3v1.3h-1.3zM189 477h1.3v1.3h-1.3zM349 341h1.3v1.3h-1.3zM270 174h1.3v1.3h-1.3zM372 122h1.3v1.3h-1.3zM354 199h1.3v1.3h-1.3zM409 309h1.3v1.3h-1.3zM396 270h1.3v1.3h-1.3zM461 403h1.3v1.3h-1.3zM516 452h1.3v1.3h-1.3zM341 272h1.3v1.3h-1.3zM229 460h1.3v1.3h-1.3zM385 262h1.3v1.3h-1.3zM357 313h1.3v1.3h-1.3zM276 378h1.3v1.3h-1.3zM383 257h1.3v1.3h-1.3zM424 343h1.3v1.3h-1.3zM364 51h1.3v1.3h-1.3zM231 432h1.3v1.3h-1.3zM362 65h1.3v1.3h-1.3zM494 427h1.3v1.3h-1.3zM351 144h1.3v1.3h-1.3zM263 249h1.3v1.3h-1.3zM360 156h1.3v1.3h-1.3zM398 306h1.3v1.3h-1.3zM367 364h1.3v1.3h-1.3zM336 336h1.3v1.3h-1.3zM234 423h1.3v1.3h-1.3zM477 410h1.3v1.3h-1.3zM377 352h1.3v1.3h-1.3zM278 46h1.3v1.3h-1.3zM313 353h1.3v1.3h-1.3zM381 328h1.3v1.3h-1.3zM421 316h1.3v1.3h-1.3zM363 363h1.3v1.3h-1.3zM472 384h1.3v1.3h-1.3zM549 12h1.3v1.3h-1.3zM553 310h1.3v1.3h-1.3zM375 352h1.3v1.3h-1.3zM443 366h1.3v1.3h-1.3zM347 326h1.3v1.3h-1.3zM289 394h1.3v1.3h-1.3zM420 315h1.3v1.3h-1.3zM413 279h1.3v1.3h-1.3zM126 417h1.3v1.3h-1.3zM301 342h1.3v1.3h-1.3zM389 241h1.3v1.3h-1.3zM262 400h1.3v1.3h-1.3zM346 246h1.3v1.3h-1.3zM396 302h1.3v1.3h-1.3zM352 194h1.3v1.3h-1.3zM368 144h1.3v1.3h-1.3zM412 321h1.3v1.3h-1.3zM182 233h1.3v1.3h-1.3zM344 274h1.3v1.3h-1.3zM395 294h1.3v1.3h-1.3zM422 330h1.3v1.3h-1.3zM343 58h1.3v1.3h-1.3zM401 279h1.3v1.3h-1.3zM220 66h1.3v1.3h-1.3zM470 393h1.3v1.3h-1.3zM447 375h1.3v1.3h-1.3zM268 374h1.3v1.3h-1.3zM447 385h1.3v1.3h-1.3zM408 292h1.3v1.3h-1.3zM290 372h1.3v1.3h-1.3zM406 307h1.3v1.3h-1.3zM256 445h1.3v1.3h-1.3zM375 227h1.3v1.3h-1.3zM265 387h1.3v1.3h-1.3zM380 265h1.3v1.3h-1.3zM413 452h1.3v1.3h-1.3zM315 318h1.3v1.3h-1.3zM342 331h1.3v1.3h-1.3zM345 338h1.3v1.3h-1.3zM381 281h1.3v1.3h-1.3zM536 478h1.3v1.3h-1.3zM396 145h1.3v1.3h-1.3zM314 227h1.3v1.3h-1.3zM377 224h1.3v1.3h-1.3zM524 447h1.3v1.3h-1.3zM486 452h1.3v1.3h-1.3zM351 220h1.3v1.3h-1.3zM413 302h1.3v1.3h-1.3zM385 397h1.3v1.3h-1.3zM412 353h1.3v1.3h-1.3zM344 325h1.3v1.3h-1.3zM393 336h1.3v1.3h-1.3zM421 375h1.3v1.3h-1.3zM371 133h1.3v1.3h-1.3zM516 471h1.3v1.3h-1.3zM364 309h1.3v1.3h-1.3zM447 381h1.3v1.3h-1.3zM350 201h1.3v1.3h-1.3zM254 183h1.3v1.3h-1.3zM350 152h1.3v1.3h-1.3zM253 423h1.3v1.3h-1.3zM377 321h1.3v1.3h-1.3zM443 342h1.3v1.3h-1.3zM330 292h1.3v1.3h-1.3zM332 336h1.3v1.3h-1.3zM345 247h1.3v1.3h-1.3zM339 280h1.3v1.3h-1.3zM347 336h1.3v1.3h-1.3zM214 366h1.3v1.3h-1.3zM507 447h1.3v1.3h-1.3zM334 296h1.3v1.3h-1.3zM141 98h1.3v1.3h-1.3zM324 310h1.3v1.3h-1.3zM298 363h1.3v1.3h-1.3zM270 399h1.3v1.3h-1.3zM387 240h1.3v1.3h-1.3zM453 389h1.3v1.3h-1.3zM331 275h1.3v1.3h-1.3zM363 333h1.3v1.3h-1.3zM342 267h1.3v1.3h-1.3zM363 139h1.3v1.3h-1.3zM406 305h1.3v1.3h-1.3zM235 421h1.3v1.3h-1.3zM264 388h1.3v1.3h-1.3zM211 449h1.3v1.3h-1.3zM339 218h1.3v1.3h-1.3zM350 210h1.3v1.3h-1.3zM435 402h1.3v1.3h-1.3zM372 324h1.3v1.3h-1.3zM360 316h1.3v1.3h-1.3zM273 384h1.3v1.3h-1.3zM349 191h1.3v1.3h-1.3zM416 329h1.3v1.3h-1.3zM367 329h1.3v1.3h-1.3zM384 283h1.3v1.3h-1.3zM316 320h1.3v1.3h-1.3zM279 404h1.3v1.3h-1.3zM368 159h1.3v1.3h-1.3zM343 233h1.3v1.3h-1.3zM380 376h1.3v1.3h-1.3zM381 223h1.3v1.3h-1.3zM397 304h1.3v1.3h-1.3zM349 210h1.3v1.3h-1.3zM313 354h1.3v1.3h-1.3zM236 424h1.3v1.3h-1.3zM263 391h1.3v1.3h-1.3zM311 373h1.3v1.3h-1.3zM257 401h1.3v1.3h-1.3zM451 387h1.3v1.3h-1.3zM261 398h1.3v1.3h-1.3zM275 383h1.3v1.3h-1.3zM348 338h1.3v1.3h-1.3zM346 240h1.3v1.3h-1.3zM399 307h1.3v1.3h-1.3zM359 80h1.3v1.3h-1.3zM400 344h1.3v1.3h-1.3zM279 385h1.3v1.3h-1.3zM306 329h1.3v1.3h-1.3zM328 362h1.3v1.3h-1.3zM437 332h1.3v1.3h-1.3zM384 327h1.3v1.3h-1.3zM372 327h1.3v1.3h-1.3zM358 168h1.3v1.3h-1.3zM297 372h1.3v1.3h-1.3zM426 342h1.3v1.3h-1.3zM333 296h1.3v1.3h-1.3zM404 314h1.3v1.3h-1.3zM361 95h1.3v1.3h-1.3zM352 324h1.3v1.3h-1.3zM389 337h1.3v1.3h-1.3zM340 249h1.3v1.3h-1.3zM374 317h1.3v1.3h-1.3zM361 141h1.3v1.3h-1.3zM306 357h1.3v1.3h-1.3zM364 312h1.3v1.3h-1.3zM338 158h1.3v1.3h-1.3zM374 201h1.3v1.3h-1.3zM334 287h1.3v1.3h-1.3zM318 313h1.3v1.3h-1.3zM354 52h1.3v1.3h-1.3zM381 247h1.3v1.3h-1.3zM336 272h1.3v1.3h-1.3zM377 326h1.3v1.3h-1.3zM401 346h1.3v1.3h-1.3zM268 354h1.3v1.3h-1.3zM376 320h1.3v1.3h-1.3zM443 379h1.3v1.3h-1.3zM384 182h1.3v1.3h-1.3zM366 175h1.3v1.3h-1.3zM427 365h1.3v1.3h-1.3zM381 249h1.3v1.3h-1.3zM345 282h1.3v1.3h-1.3zM249 381h1.3v1.3h-1.3zM377 320h1.3v1.3h-1.3zM383 253h1.3v1.3h-1.3zM331 273h1.3v1.3h-1.3zM372 200h1.3v1.3h-1.3zM385 245h1.3v1.3h-1.3zM362 72h1.3v1.3h-1.3zM349 79h1.3v1.3h-1.3zM401 345h1.3v1.3h-1.3zM510 445h1.3v1.3h-1.3zM496 433h1.3v1.3h-1.3zM430 350h1.3v1.3h-1.3zM194 469h1.3v1.3h-1.3zM393 299h1.3v1.3h-1.3zM268 390h1.3v1.3h-1.3zM358 167h1.3v1.3h-1.3zM346 234h1.3v1.3h-1.3zM387 170h1.3v1.3h-1.3zM234 425h1.3v1.3h-1.3zM376 321h1.3v1.3h-1.3zM446 374h1.3v1.3h-1.3zM367 173h1.3v1.3h-1.3zM442 365h1.3v1.3h-1.3zM415 277h1.3v1.3h-1.3zM367 161h1.3v1.3h-1.3zM327 341h1.3v1.3h-1.3zM365 334h1.3v1.3h-1.3zM378 209h1.3v1.3h-1.3zM421 284h1.3v1.3h-1.3zM375 194h1.3v1.3h-1.3zM335 337h1.3v1.3h-1.3zM333 298h1.3v1.3h-1.3zM361 371h1.3v1.3h-1.3zM264 365h1.3v1.3h-1.3zM211 448h1.3v1.3h-1.3zM448 392h1.3v1.3h-1.3zM278 348h1.3v1.3h-1.3zM254 404h1.3v1.3h-1.3zM451 382h1.3v1.3h-1.3zM363 88h1.3v1.3h-1.3zM277 394h1.3v1.3h-1.3zM344 324h1.3v1.3h-1.3zM343 341h1.3v1.3h-1.3zM286 374h1.3v1.3h-1.3zM432 354h1.3v1.3h-1.3zM450 378h1.3v1.3h-1.3zM290 370h1.3v1.3h-1.3zM365 167h1.3v1.3h-1.3zM296 367h1.3v1.3h-1.3zM308 355h1.3v1.3h-1.3zM398 71h1.3v1.3h-1.3zM394 356h1.3v1.3h-1.3zM374 204h1.3v1.3h-1.3zM362 373h1.3v1.3h-1.3zM354 359h1.3v1.3h-1.3zM371 347h1.3v1.3h-1.3zM305 325h1.3v1.3h-1.3zM345 230h1.3v1.3h-1.3zM375 205h1.3v1.3h-1.3zM462 391h1.3v1.3h-1.3zM377 232h1.3v1.3h-1.3zM380 326h1.3v1.3h-1.3zM380 244h1.3v1.3h-1.3zM368 154h1.3v1.3h-1.3zM569 178h1.3v1.3h-1.3zM351 213h1.3v1.3h-1.3zM438 334h1.3v1.3h-1.3zM481 417h1.3v1.3h-1.3zM358 137h1.3v1.3h-1.3zM353 354h1.3v1.3h-1.3zM563 409h1.3v1.3h-1.3zM357 182h1.3v1.3h-1.3zM462 389h1.3v1.3h-1.3zM361 103h1.3v1.3h-1.3zM483 419h1.3v1.3h-1.3zM188 474h1.3v1.3h-1.3zM537 466h1.3v1.3h-1.3zM348 218h1.3v1.3h-1.3zM466 374h1.3v1.3h-1.3zM433 377h1.3v1.3h-1.3zM393 339h1.3v1.3h-1.3zM442 359h1.3v1.3h-1.3zM216 444h1.3v1.3h-1.3zM539 438h1.3v1.3h-1.3zM136 483h1.3v1.3h-1.3zM338 125h1.3v1.3h-1.3zM224 443h1.3v1.3h-1.3zM327 340h1.3v1.3h-1.3zM315 382h1.3v1.3h-1.3zM448 402h1.3v1.3h-1.3zM361 335h1.3v1.3h-1.3zM376 221h1.3v1.3h-1.3zM356 178h1.3v1.3h-1.3zM360 359h1.3v1.3h-1.3zM494 430h1.3v1.3h-1.3zM467 394h1.3v1.3h-1.3zM407 305h1.3v1.3h-1.3zM355 192h1.3v1.3h-1.3zM382 282h1.3v1.3h-1.3zM389 331h1.3v1.3h-1.3zM551 478h1.3v1.3h-1.3zM373 318h1.3v1.3h-1.3zM355 175h1.3v1.3h-1.3zM393 295h1.3v1.3h-1.3zM256 401h1.3v1.3h-1.3zM253 405h1.3v1.3h-1.3zM298 368h1.3v1.3h-1.3zM276 412h1.3v1.3h-1.3zM451 399h1.3v1.3h-1.3zM373 321h1.3v1.3h-1.3zM467 400h1.3v1.3h-1.3zM225 442h1.3v1.3h-1.3zM334 149h1.3v1.3h-1.3zM363 30h1.3v1.3h-1.3zM380 260h1.3v1.3h-1.3zM382 272h1.3v1.3h-1.3zM196 460h1.3v1.3h-1.3zM309 370h1.3v1.3h-1.3zM385 288h1.3v1.3h-1.3zM379 263h1.3v1.3h-1.3zM361 318h1.3v1.3h-1.3zM278 371h1.3v1.3h-1.3zM369 173h1.3v1.3h-1.3zM268 382h1.3v1.3h-1.3zM338 270h1.3v1.3h-1.3zM325 286h1.3v1.3h-1.3zM422 338h1.3v1.3h-1.3zM508 188h1.3v1.3h-1.3zM385 282h1.3v1.3h-1.3zM252 423h1.3v1.3h-1.3zM367 311h1.3v1.3h-1.3zM343 361h1.3v1.3h-1.3zM346 264h1.3v1.3h-1.3zM355 325h1.3v1.3h-1.3zM392 294h1.3v1.3h-1.3zM330 338h1.3v1.3h-1.3zM275 386h1.3v1.3h-1.3zM363 32h1.3v1.3h-1.3zM332 339h1.3v1.3h-1.3zM343 355h1.3v1.3h-1.3zM469 402h1.3v1.3h-1.3zM272 411h1.3v1.3h-1.3zM340 127h1.3v1.3h-1.3zM288 353h1.3v1.3h-1.3zM344 249h1.3v1.3h-1.3zM373 195h1.3v1.3h-1.3zM442 388h1.3v1.3h-1.3zM435 354h1.3v1.3h-1.3zM356 86h1.3v1.3h-1.3zM395 339h1.3v1.3h-1.3zM290 347h1.3v1.3h-1.3zM331 229h1.3v1.3h-1.3zM332 349h1.3v1.3h-1.3zM345 267h1.3v1.3h-1.3zM344 239h1.3v1.3h-1.3zM307 379h1.3v1.3h-1.3zM283 357h1.3v1.3h-1.3zM343 262h1.3v1.3h-1.3zM390 284h1.3v1.3h-1.3zM390 357h1.3v1.3h-1.3zM306 323h1.3v1.3h-1.3zM444 389h1.3v1.3h-1.3zM274 377h1.3v1.3h-1.3zM363 114h1.3v1.3h-1.3zM520 460h1.3v1.3h-1.3zM335 290h1.3v1.3h-1.3zM470 418h1.3v1.3h-1.3zM249 427h1.3v1.3h-1.3zM169 466h1.3v1.3h-1.3zM383 282h1.3v1.3h-1.3zM199 481h1.3v1.3h-1.3zM291 395h1.3v1.3h-1.3zM376 233h1.3v1.3h-1.3zM265 391h1.3v1.3h-1.3zM213 436h1.3v1.3h-1.3zM356 187h1.3v1.3h-1.3zM422 362h1.3v1.3h-1.3zM304 368h1.3v1.3h-1.3zM349 226h1.3v1.3h-1.3zM349 204h1.3v1.3h-1.3zM377 218h1.3v1.3h-1.3zM363 53h1.3v1.3h-1.3zM461 409h1.3v1.3h-1.3zM399 372h1.3v1.3h-1.3zM346 228h1.3v1.3h-1.3zM328 302h1.3v1.3h-1.3zM340 281h1.3v1.3h-1.3zM270 384h1.3v1.3h-1.3zM348 323h1.3v1.3h-1.3zM284 344h1.3v1.3h-1.3zM383 252h1.3v1.3h-1.3zM222 442h1.3v1.3h-1.3zM485 418h1.3v1.3h-1.3zM249 451h1.3v1.3h-1.3zM435 374h1.3v1.3h-1.3zM401 311h1.3v1.3h-1.3zM314 309h1.3v1.3h-1.3zM342 329h1.3v1.3h-1.3zM337 264h1.3v1.3h-1.3zM356 66h1.3v1.3h-1.3zM239 430h1.3v1.3h-1.3zM501 418h1.3v1.3h-1.3zM360 323h1.3v1.3h-1.3zM346 238h1.3v1.3h-1.3zM396 340h1.3v1.3h-1.3zM333 283h1.3v1.3h-1.3zM364 116h1.3v1.3h-1.3zM436 378h1.3v1.3h-1.3zM298 369h1.3v1.3h-1.3zM361 89h1.3v1.3h-1.3zM432 325h1.3v1.3h-1.3zM355 191h1.3v1.3h-1.3zM475 380h1.3v1.3h-1.3zM381 370h1.3v1.3h-1.3zM418 328h1.3v1.3h-1.3zM273 378h1.3v1.3h-1.3zM429 377h1.3v1.3h-1.3zM247 417h1.3v1.3h-1.3zM256 383h1.3v1.3h-1.3zM290 354h1.3v1.3h-1.3zM360 162h1.3v1.3h-1.3zM331 289h1.3v1.3h-1.3zM314 321h1.3v1.3h-1.3zM546 148h1.3v1.3h-1.3zM311 356h1.3v1.3h-1.3zM392 343h1.3v1.3h-1.3zM248 411h1.3v1.3h-1.3zM496 430h1.3v1.3h-1.3zM384 207h1.3v1.3h-1.3zM381 244h1.3v1.3h-1.3zM258 423h1.3v1.3h-1.3zM342 252h1.3v1.3h-1.3zM266 371h1.3v1.3h-1.3zM150 459h1.3v1.3h-1.3zM351 204h1.3v1.3h-1.3zM461 366h1.3v1.3h-1.3zM335 381h1.3v1.3h-1.3zM392 271h1.3v1.3h-1.3zM331 340h1.3v1.3h-1.3zM334 297h1.3v1.3h-1.3zM328 305h1.3v1.3h-1.3zM328 84h1.3v1.3h-1.3zM398 297h1.3v1.3h-1.3zM340 266h1.3v1.3h-1.3zM322 313h1.3v1.3h-1.3zM363 103h1.3v1.3h-1.3zM355 323h1.3v1.3h-1.3zM412 293h1.3v1.3h-1.3zM375 320h1.3v1.3h-1.3zM356 314h1.3v1.3h-1.3zM366 160h1.3v1.3h-1.3zM363 89h1.3v1.3h-1.3zM322 344h1.3v1.3h-1.3zM309 318h1.3v1.3h-1.3zM550 469h1.3v1.3h-1.3zM447 371h1.3v1.3h-1.3zM466 399h1.3v1.3h-1.3zM344 254h1.3v1.3h-1.3zM351 199h1.3v1.3h-1.3zM258 400h1.3v1.3h-1.3zM382 253h1.3v1.3h-1.3zM198 306h1.3v1.3h-1.3zM379 169h1.3v1.3h-1.3zM475 405h1.3v1.3h-1.3zM162 487h1.3v1.3h-1.3zM131 211h1.3v1.3h-1.3zM339 284h1.3v1.3h-1.3zM363 43h1.3v1.3h-1.3zM371 357h1.3v1.3h-1.3zM364 119h1.3v1.3h-1.3zM412 352h1.3v1.3h-1.3zM381 334h1.3v1.3h-1.3zM306 359h1.3v1.3h-1.3zM361 123h1.3v1.3h-1.3zM282 366h1.3v1.3h-1.3zM342 286h1.3v1.3h-1.3zM487 434h1.3v1.3h-1.3zM524 448h1.3v1.3h-1.3zM303 369h1.3v1.3h-1.3zM382 351h1.3v1.3h-1.3zM420 301h1.3v1.3h-1.3zM457 393h1.3v1.3h-1.3zM346 232h1.3v1.3h-1.3zM327 305h1.3v1.3h-1.3zM345 344h1.3v1.3h-1.3zM361 112h1.3v1.3h-1.3zM280 89h1.3v1.3h-1.3zM445 199h1.3v1.3h-1.3zM380 259h1.3v1.3h-1.3zM399 282h1.3v1.3h-1.3zM368 111h1.3v1.3h-1.3zM434 373h1.3v1.3h-1.3zM349 209h1.3v1.3h-1.3zM338 287h1.3v1.3h-1.3zM243 392h1.3v1.3h-1.3zM445 371h1.3v1.3h-1.3zM341 275h1.3v1.3h-1.3zM464 411h1.3v1.3h-1.3zM379 235h1.3v1.3h-1.3zM378 219h1.3v1.3h-1.3zM461 397h1.3v1.3h-1.3zM445 355h1.3v1.3h-1.3zM292 350h1.3v1.3h-1.3zM195 468h1.3v1.3h-1.3zM383 264h1.3v1.3h-1.3zM351 324h1.3v1.3h-1.3zM363 307h1.3v1.3h-1.3zM379 259h1.3v1.3h-1.3zM365 43h1.3v1.3h-1.3zM301 336h1.3v1.3h-1.3zM331 301h1.3v1.3h-1.3zM381 325h1.3v1.3h-1.3zM362 18h1.3v1.3h-1.3zM507 444h1.3v1.3h-1.3zM565 466h1.3v1.3h-1.3zM434 353h1.3v1.3h-1.3zM335 291h1.3v1.3h-1.3zM262 401h1.3v1.3h-1.3zM350 319h1.3v1.3h-1.3zM354 346h1.3v1.3h-1.3zM380 246h1.3v1.3h-1.3zM379 244h1.3v1.3h-1.3zM371 315h1.3v1.3h-1.3zM374 352h1.3v1.3h-1.3zM345 253h1.3v1.3h-1.3zM346 328h1.3v1.3h-1.3zM363 84h1.3v1.3h-1.3zM323 303h1.3v1.3h-1.3zM219 446h1.3v1.3h-1.3zM344 263h1.3v1.3h-1.3zM284 334h1.3v1.3h-1.3zM345 220h1.3v1.3h-1.3zM357 353h1.3v1.3h-1.3zM319 348h1.3v1.3h-1.3zM364 390h1.3v1.3h-1.3zM442 379h1.3v1.3h-1.3zM326 358h1.3v1.3h-1.3zM362 34h1.3v1.3h-1.3zM381 255h1.3v1.3h-1.3zM378 326h1.3v1.3h-1.3zM364 359h1.3v1.3h-1.3zM325 297h1.3v1.3h-1.3zM282 379h1.3v1.3h-1.3zM436 374h1.3v1.3h-1.3zM344 277h1.3v1.3h-1.3zM265 388h1.3v1.3h-1.3zM381 279h1.3v1.3h-1.3zM273 394h1.3v1.3h-1.3zM285 377h1.3v1.3h-1.3zM401 303h1.3v1.3h-1.3zM362 114h1.3v1.3h-1.3zM330 344h1.3v1.3h-1.3zM366 180h1.3v1.3h-1.3zM283 367h1.3v1.3h-1.3zM465 398h1.3v1.3h-1.3zM268 387h1.3v1.3h-1.3zM376 128h1.3v1.3h-1.3zM351 319h1.3v1.3h-1.3zM456 377h1.3v1.3h-1.3zM395 116h1.3v1.3h-1.3zM344 262h1.3v1.3h-1.3zM279 354h1.3v1.3h-1.3zM373 350h1.3v1.3h-1.3zM318 362h1.3v1.3h-1.3zM369 320h1.3v1.3h-1.3zM191 125h1.3v1.3h-1.3zM350 202h1.3v1.3h-1.3zM369 376h1.3v1.3h-1.3zM418 356h1.3v1.3h-1.3zM259 395h1.3v1.3h-1.3zM460 395h1.3v1.3h-1.3zM346 245h1.3v1.3h-1.3zM138 446h1.3v1.3h-1.3zM252 402h1.3v1.3h-1.3zM450 375h1.3v1.3h-1.3zM318 347h1.3v1.3h-1.3zM347 227h1.3v1.3h-1.3zM384 258h1.3v1.3h-1.3zM333 297h1.3v1.3h-1.3zM564 211h1.3v1.3h-1.3zM444 379h1.3v1.3h-1.3zM384 279h1.3v1.3h-1.3zM430 283h1.3v1.3h-1.3zM277 389h1.3v1.3h-1.3zM215 459h1.3v1.3h-1.3zM171 425h1.3v1.3h-1.3zM361 84h1.3v1.3h-1.3zM384 227h1.3v1.3h-1.3zM377 367h1.3v1.3h-1.3zM511 80h1.3v1.3h-1.3zM332 194h1.3v1.3h-1.3zM275 358h1.3v1.3h-1.3zM376 220h1.3v1.3h-1.3zM342 345h1.3v1.3h-1.3zM459 384h1.3v1.3h-1.3zM405 353h1.3v1.3h-1.3zM382 195h1.3v1.3h-1.3zM432 352h1.3v1.3h-1.3zM358 313h1.3v1.3h-1.3zM399 303h1.3v1.3h-1.3zM458 394h1.3v1.3h-1.3zM541 476h1.3v1.3h-1.3zM342 328h1.3v1.3h-1.3zM460 398h1.3v1.3h-1.3zM339 331h1.3v1.3h-1.3zM346 226h1.3v1.3h-1.3zM330 299h1.3v1.3h-1.3zM360 310h1.3v1.3h-1.3zM373 357h1.3v1.3h-1.3zM427 341h1.3v1.3h-1.3zM424 334h1.3v1.3h-1.3zM557 460h1.3v1.3h-1.3zM218 402h1.3v1.3h-1.3zM343 283h1.3v1.3h-1.3zM426 315h1.3v1.3h-1.3zM280 132h1.3v1.3h-1.3zM229 433h1.3v1.3h-1.3zM401 310h1.3v1.3h-1.3zM450 388h1.3v1.3h-1.3zM293 351h1.3v1.3h-1.3zM462 359h1.3v1.3h-1.3zM387 270h1.3v1.3h-1.3zM273 368h1.3v1.3h-1.3zM336 291h1.3v1.3h-1.3zM342 264h1.3v1.3h-1.3zM313 312h1.3v1.3h-1.3zM511 415h1.3v1.3h-1.3zM271 367h1.3v1.3h-1.3zM354 192h1.3v1.3h-1.3zM277 374h1.3v1.3h-1.3zM450 386h1.3v1.3h-1.3zM380 243h1.3v1.3h-1.3zM339 252h1.3v1.3h-1.3zM341 156h1.3v1.3h-1.3zM181 223h1.3v1.3h-1.3zM387 257h1.3v1.3h-1.3zM391 251h1.3v1.3h-1.3zM365 322h1.3v1.3h-1.3zM463 414h1.3v1.3h-1.3zM454 388h1.3v1.3h-1.3zM362 36h1.3v1.3h-1.3zM257 403h1.3v1.3h-1.3zM381 277h1.3v1.3h-1.3zM337 286h1.3v1.3h-1.3zM371 193h1.3v1.3h-1.3zM413 354h1.3v1.3h-1.3zM344 242h1.3v1.3h-1.3zM411 350h1.3v1.3h-1.3zM259 399h1.3v1.3h-1.3zM279 371h1.3v1.3h-1.3zM355 322h1.3v1.3h-1.3zM292 372h1.3v1.3h-1.3zM385 341h1.3v1.3h-1.3zM359 170h1.3v1.3h-1.3zM288 336h1.3v1.3h-1.3zM337 253h1.3v1.3h-1.3zM348 200h1.3v1.3h-1.3zM571 461h1.3v1.3h-1.3zM432 369h1.3v1.3h-1.3zM321 313h1.3v1.3h-1.3zM311 323h1.3v1.3h-1.3zM381 348h1.3v1.3h-1.3zM492 427h1.3v1.3h-1.3zM359 159h1.3v1.3h-1.3zM353 319h1.3v1.3h-1.3zM525 471h1.3v1.3h-1.3zM309 322h1.3v1.3h-1.3zM375 158h1.3v1.3h-1.3zM354 189h1.3v1.3h-1.3zM382 285h1.3v1.3h-1.3zM350 329h1.3v1.3h-1.3zM475 213h1.3v1.3h-1.3zM350 343h1.3v1.3h-1.3zM399 297h1.3v1.3h-1.3zM362 116h1.3v1.3h-1.3zM364 124h1.3v1.3h-1.3zM355 149h1.3v1.3h-1.3zM409 322h1.3v1.3h-1.3zM342 245h1.3v1.3h-1.3zM434 356h1.3v1.3h-1.3zM349 216h1.3v1.3h-1.3zM377 213h1.3v1.3h-1.3zM348 227h1.3v1.3h-1.3zM347 345h1.3v1.3h-1.3zM361 147h1.3v1.3h-1.3zM317 314h1.3v1.3h-1.3zM213 449h1.3v1.3h-1.3zM349 230h1.3v1.3h-1.3zM270 389h1.3v1.3h-1.3zM433 353h1.3v1.3h-1.3zM363 120h1.3v1.3h-1.3zM263 389h1.3v1.3h-1.3zM363 316h1.3v1.3h-1.3zM311 321h1.3v1.3h-1.3zM355 324h1.3v1.3h-1.3zM361 61h1.3v1.3h-1.3zM452 389h1.3v1.3h-1.3zM357 186h1.3v1.3h-1.3zM388 352h1.3v1.3h-1.3zM380 253h1.3v1.3h-1.3zM326 288h1.3v1.3h-1.3zM250 409h1.3v1.3h-1.3zM542 192h1.3v1.3h-1.3zM376 353h1.3v1.3h-1.3zM487 419h1.3v1.3h-1.3zM356 338h1.3v1.3h-1.3zM312 321h1.3v1.3h-1.3zM327 342h1.3v1.3h-1.3zM287 377h1.3v1.3h-1.3zM407 312h1.3v1.3h-1.3zM379 254h1.3v1.3h-1.3zM266 384h1.3v1.3h-1.3zM429 334h1.3v1.3h-1.3zM260 420h1.3v1.3h-1.3zM254 432h1.3v1.3h-1.3zM190 300h1.3v1.3h-1.3zM338 291h1.3v1.3h-1.3zM343 244h1.3v1.3h-1.3zM344 265h1.3v1.3h-1.3zM292 314h1.3v1.3h-1.3zM368 317h1.3v1.3h-1.3zM344 272h1.3v1.3h-1.3zM439 415h1.3v1.3h-1.3zM413 368h1.3v1.3h-1.3zM340 286h1.3v1.3h-1.3zM211 453h1.3v1.3h-1.3zM382 267h1.3v1.3h-1.3zM345 272h1.3v1.3h-1.3zM344 329h1.3v1.3h-1.3zM282 351h1.3v1.3h-1.3zM335 276h1.3v1.3h-1.3zM514 444h1.3v1.3h-1.3zM454 391h1.3v1.3h-1.3zM340 285h1.3v1.3h-1.3zM334 298h1.3v1.3h-1.3zM398 461h1.3v1.3h-1.3zM343 331h1.3v1.3h-1.3zM120 121h1.3v1.3h-1.3zM332 287h1.3v1.3h-1.3zM233 420h1.3v1.3h-1.3zM377 322h1.3v1.3h-1.3zM448 427h1.3v1.3h-1.3zM425 362h1.3v1.3h-1.3zM381 265h1.3v1.3h-1.3zM477 413h1.3v1.3h-1.3zM472 404h1.3v1.3h-1.3zM362 62h1.3v1.3h-1.3zM239 416h1.3v1.3h-1.3zM447 372h1.3v1.3h-1.3zM240 412h1.3v1.3h-1.3zM255 368h1.3v1.3h-1.3zM562 429h1.3v1.3h-1.3zM262 404h1.3v1.3h-1.3zM358 318h1.3v1.3h-1.3zM322 293h1.3v1.3h-1.3zM337 335h1.3v1.3h-1.3zM353 90h1.3v1.3h-1.3zM526 313h1.3v1.3h-1.3zM342 265h1.3v1.3h-1.3zM373 344h1.3v1.3h-1.3zM384 284h1.3v1.3h-1.3zM473 416h1.3v1.3h-1.3zM363 81h1.3v1.3h-1.3zM423 391h1.3v1.3h-1.3zM315 396h1.3v1.3h-1.3zM455 371h1.3v1.3h-1.3zM437 395h1.3v1.3h-1.3zM355 142h1.3v1.3h-1.3zM203 325h1.3v1.3h-1.3zM439 354h1.3v1.3h-1.3zM461 385h1.3v1.3h-1.3zM493 443h1.3v1.3h-1.3zM266 381h1.3v1.3h-1.3zM356 149h1.3v1.3h-1.3zM429 378h1.3v1.3h-1.3zM241 430h1.3v1.3h-1.3zM328 338h1.3v1.3h-1.3zM345 276h1.3v1.3h-1.3zM561 178h1.3v1.3h-1.3zM385 287h1.3v1.3h-1.3zM223 456h1.3v1.3h-1.3zM322 231h1.3v1.3h-1.3zM233 428h1.3v1.3h-1.3zM221 441h1.3v1.3h-1.3zM402 349h1.3v1.3h-1.3zM153 298h1.3v1.3h-1.3zM268 391h1.3v1.3h-1.3zM351 206h1.3v1.3h-1.3zM434 354h1.3v1.3h-1.3z"/><path fill="#0060ff" opacity="0.8" d="M345 331h1.3v1.3h-1.3zM381 324h1.3v1.3h-1.3zM367 184h1.3v1.3h-1.3zM362 313h1.3v1.3h-1.3zM431 347h1.3v1.3h-1.3zM291 338h1.3v1.3h-1.3zM342 255h1.3v1.3h-1.3zM343 356h1.3v1.3h-1.3zM345 330h1.3v1.3h-1.3zM332 236h1.3v1.3h-1.3zM204 457h1.3v1.3h-1.3zM267 394h1.3v1.3h-1.3zM402 348h1.3v1.3h-1.3zM377 237h1.3v1.3h-1.3zM340 260h1.3v1.3h-1.3zM237 398h1.3v1.3h-1.3zM338 264h1.3v1.3h-1.3zM377 225h1.3v1.3h-1.3zM357 320h1.3v1.3h-1.3zM466 368h1.3v1.3h-1.3zM398 292h1.3v1.3h-1.3zM279 335h1.3v1.3h-1.3zM362 120h1.3v1.3h-1.3zM347 240h1.3v1.3h-1.3zM302 363h1.3v1.3h-1.3zM363 126h1.3v1.3h-1.3zM133 200h1.3v1.3h-1.3zM387 331h1.3v1.3h-1.3zM286 354h1.3v1.3h-1.3zM379 257h1.3v1.3h-1.3zM440 363h1.3v1.3h-1.3zM351 368h1.3v1.3h-1.3zM324 345h1.3v1.3h-1.3zM347 223h1.3v1.3h-1.3zM274 379h1.3v1.3h-1.3zM337 330h1.3v1.3h-1.3zM494 422h1.3v1.3h-1.3zM411 315h1.3v1.3h-1.3zM361 134h1.3v1.3h-1.3zM349 195h1.3v1.3h-1.3zM377 229h1.3v1.3h-1.3zM373 319h1.3v1.3h-1.3zM219 440h1.3v1.3h-1.3zM361 116h1.3v1.3h-1.3zM383 329h1.3v1.3h-1.3zM382 255h1.3v1.3h-1.3zM338 284h1.3v1.3h-1.3zM371 367h1.3v1.3h-1.3zM267 393h1.3v1.3h-1.3zM449 363h1.3v1.3h-1.3zM405 308h1.3v1.3h-1.3zM277 403h1.3v1.3h-1.3zM350 227h1.3v1.3h-1.3zM564 446h1.3v1.3h-1.3zM385 267h1.3v1.3h-1.3zM360 160h1.3v1.3h-1.3zM539 394h1.3v1.3h-1.3zM364 311h1.3v1.3h-1.3zM266 392h1.3v1.3h-1.3zM377 240h1.3v1.3h-1.3zM388 284h1.3v1.3h-1.3zM262 393h1.3v1.3h-1.3zM451 367h1.3v1.3h-1.3zM353 202h1.3v1.3h-1.3zM271 390h1.3v1.3h-1.3zM361 121h1.3v1.3h-1.3zM361 128h1.3v1.3h-1.3zM372 136h1.3v1.3h-1.3zM375 322h1.3v1.3h-1.3zM389 292h1.3v1.3h-1.3zM227 263h1.3v1.3h-1.3zM379 236h1.3v1.3h-1.3zM258 13h1.3v1.3h-1.3zM381 205h1.3v1.3h-1.3zM421 335h1.3v1.3h-1.3zM362 102h1.3v1.3h-1.3zM299 339h1.3v1.3h-1.3zM458 386h1.3v1.3h-1.3zM232 427h1.3v1.3h-1.3zM312 358h1.3v1.3h-1.3zM363 96h1.3v1.3h-1.3zM379 248h1.3v1.3h-1.3zM519 471h1.3v1.3h-1.3zM283 366h1.3v1.3h-1.3zM259 397h1.3v1.3h-1.3zM464 399h1.3v1.3h-1.3zM292 352h1.3v1.3h-1.3zM383 176h1.3v1.3h-1.3zM486 422h1.3v1.3h-1.3zM238 412h1.3v1.3h-1.3zM301 361h1.3v1.3h-1.3zM356 319h1.3v1.3h-1.3zM341 269h1.3v1.3h-1.3zM278 380h1.3v1.3h-1.3zM506 418h1.3v1.3h-1.3zM334 334h1.3v1.3h-1.3zM374 211h1.3v1.3h-1.3zM362 133h1.3v1.3h-1.3zM407 352h1.3v1.3h-1.3zM359 149h1.3v1.3h-1.3zM318 348h1.3v1.3h-1.3zM255 400h1.3v1.3h-1.3zM444 355h1.3v1.3h-1.3zM358 169h1.3v1.3h-1.3zM380 229h1.3v1.3h-1.3zM374 334h1.3v1.3h-1.3zM251 407h1.3v1.3h-1.3zM375 343h1.3v1.3h-1.3zM271 375h1.3v1.3h-1.3zM543 482h1.3v1.3h-1.3zM348 367h1.3v1.3h-1.3zM305 335h1.3v1.3h-1.3zM384 285h1.3v1.3h-1.3zM388 331h1.3v1.3h-1.3zM498 432h1.3v1.3h-1.3zM358 181h1.3v1.3h-1.3zM339 330h1.3v1.3h-1.3zM321 299h1.3v1.3h-1.3zM290 335h1.3v1.3h-1.3zM319 310h1.3v1.3h-1.3zM321 281h1.3v1.3h-1.3zM358 63h1.3v1.3h-1.3zM301 340h1.3v1.3h-1.3zM383 269h1.3v1.3h-1.3zM352 200h1.3v1.3h-1.3zM388 405h1.3v1.3h-1.3zM521 459h1.3v1.3h-1.3zM325 306h1.3v1.3h-1.3zM417 319h1.3v1.3h-1.3zM365 321h1.3v1.3h-1.3zM313 322h1.3v1.3h-1.3zM414 368h1.3v1.3h-1.3zM312 316h1.3v1.3h-1.3zM428 366h1.3v1.3h-1.3zM307 331h1.3v1.3h-1.3zM384 354h1.3v1.3h-1.3zM416 315h1.3v1.3h-1.3zM179 196h1.3v1.3h-1.3zM320 203h1.3v1.3h-1.3zM383 287h1.3v1.3h-1.3zM383 213h1.3v1.3h-1.3zM262 396h1.3v1.3h-1.3zM432 342h1.3v1.3h-1.3zM395 298h1.3v1.3h-1.3zM353 194h1.3v1.3h-1.3zM277 408h1.3v1.3h-1.3zM434 384h1.3v1.3h-1.3zM322 311h1.3v1.3h-1.3zM358 173h1.3v1.3h-1.3zM352 130h1.3v1.3h-1.3zM365 172h1.3v1.3h-1.3zM350 211h1.3v1.3h-1.3zM192 153h1.3v1.3h-1.3zM358 321h1.3v1.3h-1.3zM331 344h1.3v1.3h-1.3zM462 392h1.3v1.3h-1.3zM393 285h1.3v1.3h-1.3zM379 324h1.3v1.3h-1.3zM456 391h1.3v1.3h-1.3zM113 207h1.3v1.3h-1.3zM468 393h1.3v1.3h-1.3zM359 309h1.3v1.3h-1.3zM287 331h1.3v1.3h-1.3zM456 392h1.3v1.3h-1.3zM503 421h1.3v1.3h-1.3zM445 363h1.3v1.3h-1.3zM349 114h1.3v1.3h-1.3zM335 353h1.3v1.3h-1.3zM378 327h1.3v1.3h-1.3zM351 126h1.3v1.3h-1.3zM342 269h1.3v1.3h-1.3zM278 373h1.3v1.3h-1.3zM352 198h1.3v1.3h-1.3zM375 321h1.3v1.3h-1.3zM336 271h1.3v1.3h-1.3zM243 416h1.3v1.3h-1.3zM532 470h1.3v1.3h-1.3zM361 312h1.3v1.3h-1.3zM329 353h1.3v1.3h-1.3zM350 442h1.3v1.3h-1.3zM368 185h1.3v1.3h-1.3zM459 385h1.3v1.3h-1.3zM383 249h1.3v1.3h-1.3zM289 317h1.3v1.3h-1.3zM366 161h1.3v1.3h-1.3zM321 345h1.3v1.3h-1.3zM340 248h1.3v1.3h-1.3zM388 194h1.3v1.3h-1.3zM453 381h1.3v1.3h-1.3zM472 383h1.3v1.3h-1.3zM381 258h1.3v1.3h-1.3zM376 214h1.3v1.3h-1.3zM291 355h1.3v1.3h-1.3zM365 161h1.3v1.3h-1.3zM267 367h1.3v1.3h-1.3zM344 357h1.3v1.3h-1.3zM406 250h1.3v1.3h-1.3zM342 257h1.3v1.3h-1.3zM230 407h1.3v1.3h-1.3zM476 430h1.3v1.3h-1.3zM410 364h1.3v1.3h-1.3zM313 367h1.3v1.3h-1.3zM302 361h1.3v1.3h-1.3zM343 232h1.3v1.3h-1.3zM438 361h1.3v1.3h-1.3zM396 166h1.3v1.3h-1.3zM386 333h1.3v1.3h-1.3zM308 310h1.3v1.3h-1.3zM289 376h1.3v1.3h-1.3zM431 369h1.3v1.3h-1.3zM341 281h1.3v1.3h-1.3zM436 372h1.3v1.3h-1.3zM365 315h1.3v1.3h-1.3zM317 313h1.3v1.3h-1.3zM534 475h1.3v1.3h-1.3zM485 422h1.3v1.3h-1.3zM388 292h1.3v1.3h-1.3zM439 347h1.3v1.3h-1.3zM390 346h1.3v1.3h-1.3zM364 139h1.3v1.3h-1.3zM251 396h1.3v1.3h-1.3zM360 333h1.3v1.3h-1.3zM285 314h1.3v1.3h-1.3zM340 268h1.3v1.3h-1.3zM247 414h1.3v1.3h-1.3zM339 281h1.3v1.3h-1.3zM385 270h1.3v1.3h-1.3zM361 125h1.3v1.3h-1.3zM296 299h1.3v1.3h-1.3zM428 348h1.3v1.3h-1.3zM362 56h1.3v1.3h-1.3zM352 211h1.3v1.3h-1.3zM341 287h1.3v1.3h-1.3zM420 335h1.3v1.3h-1.3zM395 283h1.3v1.3h-1.3zM386 290h1.3v1.3h-1.3zM365 150h1.3v1.3h-1.3zM288 358h1.3v1.3h-1.3zM452 378h1.3v1.3h-1.3zM297 343h1.3v1.3h-1.3zM389 270h1.3v1.3h-1.3zM379 346h1.3v1.3h-1.3zM345 324h1.3v1.3h-1.3zM388 273h1.3v1.3h-1.3zM408 348h1.3v1.3h-1.3zM349 205h1.3v1.3h-1.3zM442 367h1.3v1.3h-1.3zM500 435h1.3v1.3h-1.3zM487 420h1.3v1.3h-1.3zM328 343h1.3v1.3h-1.3zM390 332h1.3v1.3h-1.3zM323 91h1.3v1.3h-1.3zM319 349h1.3v1.3h-1.3zM347 207h1.3v1.3h-1.3zM362 61h1.3v1.3h-1.3zM349 349h1.3v1.3h-1.3zM382 283h1.3v1.3h-1.3zM391 282h1.3v1.3h-1.3zM386 279h1.3v1.3h-1.3zM388 271h1.3v1.3h-1.3zM340 222h1.3v1.3h-1.3zM283 379h1.3v1.3h-1.3zM386 291h1.3v1.3h-1.3zM388 294h1.3v1.3h-1.3zM515 450h1.3v1.3h-1.3zM379 339h1.3v1.3h-1.3zM407 286h1.3v1.3h-1.3zM428 371h1.3v1.3h-1.3zM383 258h1.3v1.3h-1.3zM271 382h1.3v1.3h-1.3zM375 211h1.3v1.3h-1.3zM469 400h1.3v1.3h-1.3zM380 270h1.3v1.3h-1.3zM343 325h1.3v1.3h-1.3zM297 333h1.3v1.3h-1.3zM287 374h1.3v1.3h-1.3zM304 312h1.3v1.3h-1.3zM335 295h1.3v1.3h-1.3zM218 445h1.3v1.3h-1.3zM363 112h1.3v1.3h-1.3zM241 420h1.3v1.3h-1.3zM270 390h1.3v1.3h-1.3zM319 316h1.3v1.3h-1.3zM345 224h1.3v1.3h-1.3zM346 230h1.3v1.3h-1.3zM188 476h1.3v1.3h-1.3zM413 313h1.3v1.3h-1.3zM475 410h1.3v1.3h-1.3zM469 404h1.3v1.3h-1.3zM440 377h1.3v1.3h-1.3zM386 248h1.3v1.3h-1.3zM353 350h1.3v1.3h-1.3zM344 335h1.3v1.3h-1.3zM285 383h1.3v1.3h-1.3zM307 299h1.3v1.3h-1.3zM301 337h1.3v1.3h-1.3zM348 211h1.3v1.3h-1.3zM380 267h1.3v1.3h-1.3zM333 162h1.3v1.3h-1.3zM495 389h1.3v1.3h-1.3zM431 348h1.3v1.3h-1.3zM310 326h1.3v1.3h-1.3zM521 304h1.3v1.3h-1.3zM342 343h1.3v1.3h-1.3zM330 349h1.3v1.3h-1.3zM381 278h1.3v1.3h-1.3zM309 392h1.3v1.3h-1.3zM344 264h1.3v1.3h-1.3zM266 355h1.3v1.3h-1.3zM280 381h1.3v1.3h-1.3zM384 256h1.3v1.3h-1.3zM349 225h1.3v1.3h-1.3zM300 365h1.3v1.3h-1.3zM335 229h1.3v1.3h-1.3zM369 319h1.3v1.3h-1.3zM537 475h1.3v1.3h-1.3zM467 413h1.3v1.3h-1.3zM354 356h1.3v1.3h-1.3zM364 353h1.3v1.3h-1.3zM247 412h1.3v1.3h-1.3zM344 244h1.3v1.3h-1.3zM324 292h1.3v1.3h-1.3zM337 278h1.3v1.3h-1.3zM261 394h1.3v1.3h-1.3zM332 295h1.3v1.3h-1.3zM436 373h1.3v1.3h-1.3zM385 284h1.3v1.3h-1.3zM366 136h1.3v1.3h-1.3zM333 347h1.3v1.3h-1.3zM336 285h1.3v1.3h-1.3zM338 394h1.3v1.3h-1.3zM388 291h1.3v1.3h-1.3zM250 408h1.3v1.3h-1.3zM343 275h1.3v1.3h-1.3zM324 349h1.3v1.3h-1.3zM208 453h1.3v1.3h-1.3zM195 470h1.3v1.3h-1.3zM428 446h1.3v1.3h-1.3zM297 302h1.3v1.3h-1.3zM334 290h1.3v1.3h-1.3zM454 409h1.3v1.3h-1.3zM264 349h1.3v1.3h-1.3zM394 337h1.3v1.3h-1.3zM363 313h1.3v1.3h-1.3zM383 240h1.3v1.3h-1.3zM421 334h1.3v1.3h-1.3zM364 328h1.3v1.3h-1.3zM381 374h1.3v1.3h-1.3zM477 407h1.3v1.3h-1.3zM341 244h1.3v1.3h-1.3zM329 341h1.3v1.3h-1.3zM269 367h1.3v1.3h-1.3zM334 339h1.3v1.3h-1.3zM294 385h1.3v1.3h-1.3zM300 344h1.3v1.3h-1.3zM427 348h1.3v1.3h-1.3zM369 183h1.3v1.3h-1.3zM293 352h1.3v1.3h-1.3zM382 215h1.3v1.3h-1.3zM390 294h1.3v1.3h-1.3zM396 338h1.3v1.3h-1.3zM218 392h1.3v1.3h-1.3zM424 361h1.3v1.3h-1.3zM411 324h1.3v1.3h-1.3zM415 292h1.3v1.3h-1.3zM348 343h1.3v1.3h-1.3zM290 357h1.3v1.3h-1.3zM484 437h1.3v1.3h-1.3zM368 322h1.3v1.3h-1.3zM250 407h1.3v1.3h-1.3zM447 365h1.3v1.3h-1.3zM227 432h1.3v1.3h-1.3zM352 350h1.3v1.3h-1.3zM355 81h1.3v1.3h-1.3zM336 279h1.3v1.3h-1.3zM337 336h1.3v1.3h-1.3zM179 472h1.3v1.3h-1.3zM361 50h1.3v1.3h-1.3zM313 301h1.3v1.3h-1.3zM472 429h1.3v1.3h-1.3zM342 238h1.3v1.3h-1.3zM341 274h1.3v1.3h-1.3zM351 320h1.3v1.3h-1.3zM362 43h1.3v1.3h-1.3zM383 285h1.3v1.3h-1.3zM255 380h1.3v1.3h-1.3zM382 357h1.3v1.3h-1.3zM404 299h1.3v1.3h-1.3zM374 198h1.3v1.3h-1.3zM384 250h1.3v1.3h-1.3zM367 179h1.3v1.3h-1.3zM214 466h1.3v1.3h-1.3zM270 368h1.3v1.3h-1.3zM357 321h1.3v1.3h-1.3zM422 312h1.3v1.3h-1.3zM349 326h1.3v1.3h-1.3zM244 378h1.3v1.3h-1.3zM357 187h1.3v1.3h-1.3zM439 376h1.3v1.3h-1.3zM503 412h1.3v1.3h-1.3zM300 367h1.3v1.3h-1.3zM339 277h1.3v1.3h-1.3zM308 329h1.3v1.3h-1.3zM416 324h1.3v1.3h-1.3zM284 362h1.3v1.3h-1.3zM346 345h1.3v1.3h-1.3zM355 185h1.3v1.3h-1.3zM385 241h1.3v1.3h-1.3zM378 330h1.3v1.3h-1.3zM268 222h1.3v1.3h-1.3zM381 347h1.3v1.3h-1.3zM429 380h1.3v1.3h-1.3zM341 265h1.3v1.3h-1.3zM369 166h1.3v1.3h-1.3zM563 251h1.3v1.3h-1.3zM373 128h1.3v1.3h-1.3zM479 412h1.3v1.3h-1.3zM391 295h1.3v1.3h-1.3zM334 375h1.3v1.3h-1.3zM315 321h1.3v1.3h-1.3zM383 280h1.3v1.3h-1.3zM287 375h1.3v1.3h-1.3zM298 314h1.3v1.3h-1.3zM239 444h1.3v1.3h-1.3zM414 327h1.3v1.3h-1.3zM158 462h1.3v1.3h-1.3zM379 225h1.3v1.3h-1.3zM379 219h1.3v1.3h-1.3zM354 316h1.3v1.3h-1.3zM302 329h1.3v1.3h-1.3zM371 194h1.3v1.3h-1.3zM384 346h1.3v1.3h-1.3zM349 224h1.3v1.3h-1.3zM354 191h1.3v1.3h-1.3zM343 334h1.3v1.3h-1.3zM374 220h1.3v1.3h-1.3zM359 163h1.3v1.3h-1.3zM115 396h1.3v1.3h-1.3zM485 433h1.3v1.3h-1.3zM363 356h1.3v1.3h-1.3zM334 282h1.3v1.3h-1.3zM323 310h1.3v1.3h-1.3zM354 335h1.3v1.3h-1.3zM449 374h1.3v1.3h-1.3zM337 281h1.3v1.3h-1.3zM379 249h1.3v1.3h-1.3zM312 306h1.3v1.3h-1.3zM376 213h1.3v1.3h-1.3zM366 151h1.3v1.3h-1.3zM370 193h1.3v1.3h-1.3zM317 299h1.3v1.3h-1.3zM373 150h1.3v1.3h-1.3zM341 240h1.3v1.3h-1.3zM362 103h1.3v1.3h-1.3zM359 310h1.3v1.3h-1.3zM380 273h1.3v1.3h-1.3zM357 329h1.3v1.3h-1.3zM419 332h1.3v1.3h-1.3zM231 453h1.3v1.3h-1.3zM472 64h1.3v1.3h-1.3zM466 402h1.3v1.3h-1.3zM349 221h1.3v1.3h-1.3zM302 340h1.3v1.3h-1.3zM431 351h1.3v1.3h-1.3zM303 359h1.3v1.3h-1.3zM152 233h1.3v1.3h-1.3zM361 133h1.3v1.3h-1.3zM329 299h1.3v1.3h-1.3zM377 234h1.3v1.3h-1.3zM368 186h1.3v1.3h-1.3zM374 216h1.3v1.3h-1.3zM362 311h1.3v1.3h-1.3zM373 158h1.3v1.3h-1.3zM382 239h1.3v1.3h-1.3zM415 325h1.3v1.3h-1.3zM219 424h1.3v1.3h-1.3zM406 288h1.3v1.3h-1.3zM192 473h1.3v1.3h-1.3zM314 350h1.3v1.3h-1.3zM459 398h1.3v1.3h-1.3zM362 49h1.3v1.3h-1.3zM318 318h1.3v1.3h-1.3zM180 285h1.3v1.3h-1.3zM336 295h1.3v1.3h-1.3zM307 329h1.3v1.3h-1.3zM367 320h1.3v1.3h-1.3zM340 335h1.3v1.3h-1.3zM371 326h1.3v1.3h-1.3zM329 355h1.3v1.3h-1.3zM346 430h1.3v1.3h-1.3zM119 110h1.3v1.3h-1.3zM378 240h1.3v1.3h-1.3zM409 292h1.3v1.3h-1.3zM546 401h1.3v1.3h-1.3zM163 478h1.3v1.3h-1.3zM282 367h1.3v1.3h-1.3zM280 333h1.3v1.3h-1.3zM246 406h1.3v1.3h-1.3zM347 228h1.3v1.3h-1.3zM344 243h1.3v1.3h-1.3zM362 97h1.3v1.3h-1.3zM370 187h1.3v1.3h-1.3zM371 183h1.3v1.3h-1.3zM366 311h1.3v1.3h-1.3zM363 318h1.3v1.3h-1.3zM311 327h1.3v1.3h-1.3zM369 312h1.3v1.3h-1.3zM344 351h1.3v1.3h-1.3zM363 319h1.3v1.3h-1.3zM252 406h1.3v1.3h-1.3zM391 291h1.3v1.3h-1.3zM379 100h1.3v1.3h-1.3zM340 348h1.3v1.3h-1.3zM375 210h1.3v1.3h-1.3zM470 407h1.3v1.3h-1.3zM149 467h1.3v1.3h-1.3zM380 233h1.3v1.3h-1.3zM337 168h1.3v1.3h-1.3zM364 133h1.3v1.3h-1.3zM351 219h1.3v1.3h-1.3zM338 286h1.3v1.3h-1.3zM324 274h1.3v1.3h-1.3zM376 318h1.3v1.3h-1.3zM364 99h1.3v1.3h-1.3zM356 330h1.3v1.3h-1.3zM256 391h1.3v1.3h-1.3zM468 406h1.3v1.3h-1.3zM517 452h1.3v1.3h-1.3zM449 387h1.3v1.3h-1.3zM225 405h1.3v1.3h-1.3zM330 142h1.3v1.3h-1.3zM341 328h1.3v1.3h-1.3zM431 381h1.3v1.3h-1.3zM415 316h1.3v1.3h-1.3zM311 296h1.3v1.3h-1.3zM364 313h1.3v1.3h-1.3zM404 313h1.3v1.3h-1.3zM198 463h1.3v1.3h-1.3zM203 384h1.3v1.3h-1.3zM170 120h1.3v1.3h-1.3zM397 289h1.3v1.3h-1.3zM295 347h1.3v1.3h-1.3zM436 376h1.3v1.3h-1.3zM420 376h1.3v1.3h-1.3zM501 437h1.3v1.3h-1.3zM490 400h1.3v1.3h-1.3zM178 46h1.3v1.3h-1.3zM336 366h1.3v1.3h-1.3zM356 336h1.3v1.3h-1.3zM403 309h1.3v1.3h-1.3zM349 202h1.3v1.3h-1.3zM244 413h1.3v1.3h-1.3zM362 356h1.3v1.3h-1.3zM384 275h1.3v1.3h-1.3zM566 421h1.3v1.3h-1.3zM483 378h1.3v1.3h-1.3zM371 195h1.3v1.3h-1.3zM361 135h1.3v1.3h-1.3zM363 124h1.3v1.3h-1.3zM225 463h1.3v1.3h-1.3zM385 251h1.3v1.3h-1.3zM333 342h1.3v1.3h-1.3zM351 205h1.3v1.3h-1.3zM278 354h1.3v1.3h-1.3zM445 370h1.3v1.3h-1.3zM366 164h1.3v1.3h-1.3zM327 306h1.3v1.3h-1.3zM469 403h1.3v1.3h-1.3zM377 242h1.3v1.3h-1.3zM187 478h1.3v1.3h-1.3zM522 476h1.3v1.3h-1.3zM466 429h1.3v1.3h-1.3zM426 328h1.3v1.3h-1.3zM349 229h1.3v1.3h-1.3zM340 261h1.3v1.3h-1.3zM394 285h1.3v1.3h-1.3zM327 302h1.3v1.3h-1.3zM386 287h1.3v1.3h-1.3zM361 357h1.3v1.3h-1.3zM455 389h1.3v1.3h-1.3zM363 320h1.3v1.3h-1.3zM240 450h1.3v1.3h-1.3zM374 209h1.3v1.3h-1.3zM447 383h1.3v1.3h-1.3zM464 400h1.3v1.3h-1.3zM507 439h1.3v1.3h-1.3zM400 219h1.3v1.3h-1.3zM337 275h1.3v1.3h-1.3zM559 345h1.3v1.3h-1.3zM396 297h1.3v1.3h-1.3zM375 235h1.3v1.3h-1.3zM372 195h1.3v1.3h-1.3zM483 411h1.3v1.3h-1.3zM509 449h1.3v1.3h-1.3zM390 291h1.3v1.3h-1.3zM332 272h1.3v1.3h-1.3zM356 128h1.3v1.3h-1.3zM333 124h1.3v1.3h-1.3zM264 363h1.3v1.3h-1.3zM424 338h1.3v1.3h-1.3zM309 291h1.3v1.3h-1.3zM467 401h1.3v1.3h-1.3zM481 413h1.3v1.3h-1.3zM363 108h1.3v1.3h-1.3zM494 381h1.3v1.3h-1.3zM562 248h1.3v1.3h-1.3zM370 169h1.3v1.3h-1.3zM463 396h1.3v1.3h-1.3zM344 253h1.3v1.3h-1.3zM340 269h1.3v1.3h-1.3zM310 356h1.3v1.3h-1.3zM382 186h1.3v1.3h-1.3zM419 359h1.3v1.3h-1.3zM340 284h1.3v1.3h-1.3zM340 223h1.3v1.3h-1.3zM268 383h1.3v1.3h-1.3zM274 363h1.3v1.3h-1.3zM374 192h1.3v1.3h-1.3zM377 324h1.3v1.3h-1.3zM406 348h1.3v1.3h-1.3zM367 134h1.3v1.3h-1.3zM353 191h1.3v1.3h-1.3zM279 369h1.3v1.3h-1.3zM312 152h1.3v1.3h-1.3zM474 190h1.3v1.3h-1.3zM239 402h1.3v1.3h-1.3zM313 315h1.3v1.3h-1.3zM340 275h1.3v1.3h-1.3zM362 124h1.3v1.3h-1.3zM359 312h1.3v1.3h-1.3zM332 297h1.3v1.3h-1.3zM288 374h1.3v1.3h-1.3zM349 322h1.3v1.3h-1.3zM391 281h1.3v1.3h-1.3zM206 457h1.3v1.3h-1.3zM403 300h1.3v1.3h-1.3zM463 380h1.3v1.3h-1.3zM398 130h1.3v1.3h-1.3zM336 294h1.3v1.3h-1.3zM323 300h1.3v1.3h-1.3zM350 378h1.3v1.3h-1.3zM504 87h1.3v1.3h-1.3zM301 381h1.3v1.3h-1.3zM389 335h1.3v1.3h-1.3zM362 53h1.3v1.3h-1.3zM356 105h1.3v1.3h-1.3zM331 193h1.3v1.3h-1.3zM391 285h1.3v1.3h-1.3zM391 336h1.3v1.3h-1.3zM476 389h1.3v1.3h-1.3zM366 174h1.3v1.3h-1.3zM353 174h1.3v1.3h-1.3zM342 248h1.3v1.3h-1.3zM365 159h1.3v1.3h-1.3zM349 223h1.3v1.3h-1.3zM337 276h1.3v1.3h-1.3zM414 325h1.3v1.3h-1.3zM316 351h1.3v1.3h-1.3zM456 369h1.3v1.3h-1.3zM340 283h1.3v1.3h-1.3zM405 316h1.3v1.3h-1.3zM358 312h1.3v1.3h-1.3zM379 237h1.3v1.3h-1.3zM322 347h1.3v1.3h-1.3zM373 337h1.3v1.3h-1.3zM459 386h1.3v1.3h-1.3zM398 304h1.3v1.3h-1.3zM414 323h1.3v1.3h-1.3zM343 282h1.3v1.3h-1.3zM322 305h1.3v1.3h-1.3zM458 387h1.3v1.3h-1.3zM361 137h1.3v1.3h-1.3zM381 219h1.3v1.3h-1.3zM363 13h1.3v1.3h-1.3zM282 355h1.3v1.3h-1.3zM293 322h1.3v1.3h-1.3zM376 139h1.3v1.3h-1.3zM374 221h1.3v1.3h-1.3zM401 308h1.3v1.3h-1.3zM337 331h1.3v1.3h-1.3zM288 373h1.3v1.3h-1.3zM421 358h1.3v1.3h-1.3zM389 294h1.3v1.3h-1.3zM361 83h1.3v1.3h-1.3zM346 250h1.3v1.3h-1.3zM326 346h1.3v1.3h-1.3zM496 432h1.3v1.3h-1.3zM344 261h1.3v1.3h-1.3zM361 98h1.3v1.3h-1.3zM337 284h1.3v1.3h-1.3zM397 343h1.3v1.3h-1.3zM257 398h1.3v1.3h-1.3zM343 263h1.3v1.3h-1.3zM452 371h1.3v1.3h-1.3zM383 266h1.3v1.3h-1.3zM379 216h1.3v1.3h-1.3zM348 340h1.3v1.3h-1.3zM301 360h1.3v1.3h-1.3zM455 399h1.3v1.3h-1.3zM497 462h1.3v1.3h-1.3zM387 332h1.3v1.3h-1.3zM401 295h1.3v1.3h-1.3zM492 420h1.3v1.3h-1.3zM366 313h1.3v1.3h-1.3zM364 121h1.3v1.3h-1.3zM307 330h1.3v1.3h-1.3zM389 279h1.3v1.3h-1.3zM310 328h1.3v1.3h-1.3zM489 393h1.3v1.3h-1.3zM425 340h1.3v1.3h-1.3zM354 393h1.3v1.3h-1.3zM264 420h1.3v1.3h-1.3zM303 453h1.3v1.3h-1.3zM212 417h1.3v1.3h-1.3zM378 231h1.3v1.3h-1.3zM401 281h1.3v1.3h-1.3zM205 476h1.3v1.3h-1.3zM326 298h1.3v1.3h-1.3zM180 464h1.3v1.3h-1.3zM412 359h1.3v1.3h-1.3zM364 322h1.3v1.3h-1.3zM359 70h1.3v1.3h-1.3zM260 400h1.3v1.3h-1.3zM473 408h1.3v1.3h-1.3zM341 330h1.3v1.3h-1.3zM361 140h1.3v1.3h-1.3zM208 117h1.3v1.3h-1.3zM336 278h1.3v1.3h-1.3zM416 330h1.3v1.3h-1.3zM381 251h1.3v1.3h-1.3zM196 118h1.3v1.3h-1.3zM258 396h1.3v1.3h-1.3zM325 303h1.3v1.3h-1.3zM371 320h1.3v1.3h-1.3zM346 267h1.3v1.3h-1.3zM369 314h1.3v1.3h-1.3zM256 150h1.3v1.3h-1.3zM349 232h1.3v1.3h-1.3zM395 281h1.3v1.3h-1.3zM456 382h1.3v1.3h-1.3zM440 328h1.3v1.3h-1.3zM541 482h1.3v1.3h-1.3zM376 208h1.3v1.3h-1.3zM271 385h1.3v1.3h-1.3zM359 160h1.3v1.3h-1.3zM351 210h1.3v1.3h-1.3zM414 301h1.3v1.3h-1.3zM392 270h1.3v1.3h-1.3zM375 328h1.3v1.3h-1.3zM358 325h1.3v1.3h-1.3zM314 363h1.3v1.3h-1.3zM123 396h1.3v1.3h-1.3zM306 358h1.3v1.3h-1.3zM380 280h1.3v1.3h-1.3zM353 167h1.3v1.3h-1.3zM265 395h1.3v1.3h-1.3zM115 325h1.3v1.3h-1.3zM557 449h1.3v1.3h-1.3zM373 331h1.3v1.3h-1.3zM398 350h1.3v1.3h-1.3zM363 104h1.3v1.3h-1.3zM261 391h1.3v1.3h-1.3zM360 315h1.3v1.3h-1.3zM396 284h1.3v1.3h-1.3zM303 319h1.3v1.3h-1.3zM328 271h1.3v1.3h-1.3zM384 229h1.3v1.3h-1.3zM498 433h1.3v1.3h-1.3zM321 311h1.3v1.3h-1.3zM342 276h1.3v1.3h-1.3zM381 243h1.3v1.3h-1.3zM349 214h1.3v1.3h-1.3zM363 310h1.3v1.3h-1.3zM363 116h1.3v1.3h-1.3zM512 464h1.3v1.3h-1.3zM371 330h1.3v1.3h-1.3zM344 233h1.3v1.3h-1.3zM513 444h1.3v1.3h-1.3zM327 307h1.3v1.3h-1.3zM458 385h1.3v1.3h-1.3zM494 392h1.3v1.3h-1.3zM415 317h1.3v1.3h-1.3zM459 394h1.3v1.3h-1.3zM368 326h1.3v1.3h-1.3zM374 387h1.3v1.3h-1.3zM370 172h1.3v1.3h-1.3zM344 226h1.3v1.3h-1.3zM376 324h1.3v1.3h-1.3zM482 425h1.3v1.3h-1.3zM300 320h1.3v1.3h-1.3zM366 156h1.3v1.3h-1.3zM335 281h1.3v1.3h-1.3zM384 261h1.3v1.3h-1.3zM384 264h1.3v1.3h-1.3zM441 346h1.3v1.3h-1.3zM340 273h1.3v1.3h-1.3zM252 403h1.3v1.3h-1.3zM328 340h1.3v1.3h-1.3zM379 241h1.3v1.3h-1.3zM573 472h1.3v1.3h-1.3zM477 411h1.3v1.3h-1.3zM390 64h1.3v1.3h-1.3zM345 350h1.3v1.3h-1.3zM422 88h1.3v1.3h-1.3zM326 303h1.3v1.3h-1.3zM537 473h1.3v1.3h-1.3zM215 434h1.3v1.3h-1.3zM300 343h1.3v1.3h-1.3zM350 348h1.3v1.3h-1.3zM363 86h1.3v1.3h-1.3zM381 259h1.3v1.3h-1.3zM366 171h1.3v1.3h-1.3zM415 326h1.3v1.3h-1.3zM343 206h1.3v1.3h-1.3zM433 355h1.3v1.3h-1.3zM362 76h1.3v1.3h-1.3zM360 171h1.3v1.3h-1.3zM402 342h1.3v1.3h-1.3zM507 436h1.3v1.3h-1.3zM257 404h1.3v1.3h-1.3zM411 318h1.3v1.3h-1.3zM370 386h1.3v1.3h-1.3zM367 116h1.3v1.3h-1.3zM255 365h1.3v1.3h-1.3zM330 353h1.3v1.3h-1.3zM438 360h1.3v1.3h-1.3zM346 224h1.3v1.3h-1.3zM252 408h1.3v1.3h-1.3zM266 387h1.3v1.3h-1.3zM353 328h1.3v1.3h-1.3zM312 326h1.3v1.3h-1.3zM392 335h1.3v1.3h-1.3zM368 177h1.3v1.3h-1.3zM369 360h1.3v1.3h-1.3zM332 291h1.3v1.3h-1.3zM508 448h1.3v1.3h-1.3zM540 489h1.3v1.3h-1.3zM369 179h1.3v1.3h-1.3zM363 130h1.3v1.3h-1.3zM387 285h1.3v1.3h-1.3zM255 488h1.3v1.3h-1.3zM255 405h1.3v1.3h-1.3zM341 245h1.3v1.3h-1.3zM381 330h1.3v1.3h-1.3zM399 344h1.3v1.3h-1.3zM429 333h1.3v1.3h-1.3zM329 351h1.3v1.3h-1.3zM377 235h1.3v1.3h-1.3zM314 298h1.3v1.3h-1.3zM146 73h1.3v1.3h-1.3zM393 369h1.3v1.3h-1.3zM356 322h1.3v1.3h-1.3zM233 219h1.3v1.3h-1.3zM361 72h1.3v1.3h-1.3zM381 250h1.3v1.3h-1.3zM266 385h1.3v1.3h-1.3zM371 168h1.3v1.3h-1.3zM271 156h1.3v1.3h-1.3zM506 459h1.3v1.3h-1.3zM275 372h1.3v1.3h-1.3zM375 359h1.3v1.3h-1.3zM350 16h1.3v1.3h-1.3zM348 346h1.3v1.3h-1.3zM196 470h1.3v1.3h-1.3zM478 404h1.3v1.3h-1.3zM362 129h1.3v1.3h-1.3zM357 162h1.3v1.3h-1.3zM279 384h1.3v1.3h-1.3zM323 345h1.3v1.3h-1.3zM345 342h1.3v1.3h-1.3zM427 347h1.3v1.3h-1.3zM574 101h1.3v1.3h-1.3zM353 320h1.3v1.3h-1.3zM384 269h1.3v1.3h-1.3zM184 459h1.3v1.3h-1.3zM467 397h1.3v1.3h-1.3zM384 232h1.3v1.3h-1.3zM403 310h1.3v1.3h-1.3zM442 327h1.3v1.3h-1.3zM407 318h1.3v1.3h-1.3zM366 314h1.3v1.3h-1.3zM416 310h1.3v1.3h-1.3zM309 355h1.3v1.3h-1.3zM377 233h1.3v1.3h-1.3zM391 341h1.3v1.3h-1.3zM453 373h1.3v1.3h-1.3zM358 183h1.3v1.3h-1.3zM369 316h1.3v1.3h-1.3zM273 388h1.3v1.3h-1.3zM327 264h1.3v1.3h-1.3zM215 413h1.3v1.3h-1.3zM471 429h1.3v1.3h-1.3zM355 328h1.3v1.3h-1.3zM370 314h1.3v1.3h-1.3zM420 337h1.3v1.3h-1.3zM388 250h1.3v1.3h-1.3zM339 253h1.3v1.3h-1.3zM371 201h1.3v1.3h-1.3zM348 380h1.3v1.3h-1.3zM399 348h1.3v1.3h-1.3zM359 169h1.3v1.3h-1.3zM258 401h1.3v1.3h-1.3zM421 326h1.3v1.3h-1.3zM353 183h1.3v1.3h-1.3zM284 376h1.3v1.3h-1.3zM458 383h1.3v1.3h-1.3zM460 388h1.3v1.3h-1.3zM286 360h1.3v1.3h-1.3zM453 378h1.3v1.3h-1.3zM347 219h1.3v1.3h-1.3zM379 245h1.3v1.3h-1.3zM337 293h1.3v1.3h-1.3zM402 311h1.3v1.3h-1.3zM390 385h1.3v1.3h-1.3zM525 486h1.3v1.3h-1.3zM361 99h1.3v1.3h-1.3zM376 326h1.3v1.3h-1.3zM437 432h1.3v1.3h-1.3zM343 347h1.3v1.3h-1.3zM473 418h1.3v1.3h-1.3zM454 380h1.3v1.3h-1.3zM422 361h1.3v1.3h-1.3zM336 334h1.3v1.3h-1.3zM339 291h1.3v1.3h-1.3zM223 421h1.3v1.3h-1.3zM460 340h1.3v1.3h-1.3zM373 177h1.3v1.3h-1.3zM341 336h1.3v1.3h-1.3zM299 372h1.3v1.3h-1.3zM259 402h1.3v1.3h-1.3zM386 336h1.3v1.3h-1.3zM310 327h1.3v1.3h-1.3zM421 330h1.3v1.3h-1.3zM225 438h1.3v1.3h-1.3zM435 358h1.3v1.3h-1.3zM379 264h1.3v1.3h-1.3zM310 353h1.3v1.3h-1.3zM260 412h1.3v1.3h-1.3zM315 299h1.3v1.3h-1.3zM378 234h1.3v1.3h-1.3zM519 463h1.3v1.3h-1.3zM386 278h1.3v1.3h-1.3zM459 379h1.3v1.3h-1.3zM372 148h1.3v1.3h-1.3zM202 462h1.3v1.3h-1.3zM385 272h1.3v1.3h-1.3zM484 276h1.3v1.3h-1.3zM279 383h1.3v1.3h-1.3zM381 248h1.3v1.3h-1.3zM521 481h1.3v1.3h-1.3zM386 330h1.3v1.3h-1.3zM512 448h1.3v1.3h-1.3zM281 389h1.3v1.3h-1.3zM422 335h1.3v1.3h-1.3zM419 358h1.3v1.3h-1.3zM236 420h1.3v1.3h-1.3zM340 276h1.3v1.3h-1.3zM364 117h1.3v1.3h-1.3zM198 464h1.3v1.3h-1.3zM309 376h1.3v1.3h-1.3zM381 261h1.3v1.3h-1.3zM306 333h1.3v1.3h-1.3zM342 285h1.3v1.3h-1.3zM397 377h1.3v1.3h-1.3zM392 291h1.3v1.3h-1.3zM542 467h1.3v1.3h-1.3zM374 199h1.3v1.3h-1.3zM292 351h1.3v1.3h-1.3zM296 347h1.3v1.3h-1.3zM406 314h1.3v1.3h-1.3zM369 184h1.3v1.3h-1.3zM248 409h1.3v1.3h-1.3zM343 256h1.3v1.3h-1.3zM261 399h1.3v1.3h-1.3zM381 238h1.3v1.3h-1.3zM381 274h1.3v1.3h-1.3zM548 246h1.3v1.3h-1.3zM416 354h1.3v1.3h-1.3zM362 88h1.3v1.3h-1.3zM362 324h1.3v1.3h-1.3zM435 357h1.3v1.3h-1.3zM343 273h1.3v1.3h-1.3zM385 264h1.3v1.3h-1.3zM413 355h1.3v1.3h-1.3zM422 364h1.3v1.3h-1.3zM307 328h1.3v1.3h-1.3zM475 81h1.3v1.3h-1.3zM358 330h1.3v1.3h-1.3zM460 394h1.3v1.3h-1.3zM362 112h1.3v1.3h-1.3zM267 405h1.3v1.3h-1.3zM322 310h1.3v1.3h-1.3zM383 335h1.3v1.3h-1.3zM377 174h1.3v1.3h-1.3zM386 250h1.3v1.3h-1.3zM414 354h1.3v1.3h-1.3zM504 440h1.3v1.3h-1.3zM181 384h1.3v1.3h-1.3zM363 68h1.3v1.3h-1.3zM364 110h1.3v1.3h-1.3zM350 226h1.3v1.3h-1.3zM352 190h1.3v1.3h-1.3zM371 351h1.3v1.3h-1.3zM378 134h1.3v1.3h-1.3zM388 265h1.3v1.3h-1.3zM541 403h1.3v1.3h-1.3zM212 438h1.3v1.3h-1.3zM352 216h1.3v1.3h-1.3zM448 394h1.3v1.3h-1.3zM342 376h1.3v1.3h-1.3zM347 242h1.3v1.3h-1.3zM326 299h1.3v1.3h-1.3zM361 63h1.3v1.3h-1.3zM216 448h1.3v1.3h-1.3zM357 311h1.3v1.3h-1.3zM467 395h1.3v1.3h-1.3zM287 373h1.3v1.3h-1.3zM277 370h1.3v1.3h-1.3zM379 242h1.3v1.3h-1.3zM303 335h1.3v1.3h-1.3zM376 202h1.3v1.3h-1.3zM365 341h1.3v1.3h-1.3zM351 223h1.3v1.3h-1.3zM303 325h1.3v1.3h-1.3zM383 236h1.3v1.3h-1.3zM362 131h1.3v1.3h-1.3zM359 318h1.3v1.3h-1.3zM385 278h1.3v1.3h-1.3zM327 288h1.3v1.3h-1.3zM344 270h1.3v1.3h-1.3zM479 189h1.3v1.3h-1.3zM363 329h1.3v1.3h-1.3zM330 278h1.3v1.3h-1.3zM219 442h1.3v1.3h-1.3zM291 344h1.3v1.3h-1.3zM334 46h1.3v1.3h-1.3zM363 95h1.3v1.3h-1.3zM337 334h1.3v1.3h-1.3zM243 446h1.3v1.3h-1.3zM450 377h1.3v1.3h-1.3zM332 338h1.3v1.3h-1.3zM405 280h1.3v1.3h-1.3zM379 130h1.3v1.3h-1.3zM352 333h1.3v1.3h-1.3zM441 378h1.3v1.3h-1.3zM393 294h1.3v1.3h-1.3zM303 390h1.3v1.3h-1.3zM549 488h1.3v1.3h-1.3zM333 348h1.3v1.3h-1.3zM509 437h1.3v1.3h-1.3zM380 230h1.3v1.3h-1.3zM296 296h1.3v1.3h-1.3zM353 322h1.3v1.3h-1.3zM458 388h1.3v1.3h-1.3zM265 416h1.3v1.3h-1.3zM349 197h1.3v1.3h-1.3zM428 370h1.3v1.3h-1.3zM386 270h1.3v1.3h-1.3zM487 421h1.3v1.3h-1.3zM360 166h1.3v1.3h-1.3zM334 219h1.3v1.3h-1.3zM351 322h1.3v1.3h-1.3zM319 346h1.3v1.3h-1.3zM377 228h1.3v1.3h-1.3zM467 417h1.3v1.3h-1.3zM401 348h1.3v1.3h-1.3zM526 472h1.3v1.3h-1.3zM493 429h1.3v1.3h-1.3zM376 223h1.3v1.3h-1.3zM483 375h1.3v1.3h-1.3zM358 355h1.3v1.3h-1.3zM194 467h1.3v1.3h-1.3zM413 318h1.3v1.3h-1.3zM384 267h1.3v1.3h-1.3zM409 318h1.3v1.3h-1.3zM266 375h1.3v1.3h-1.3zM347 343h1.3v1.3h-1.3zM446 385h1.3v1.3h-1.3zM434 383h1.3v1.3h-1.3zM337 294h1.3v1.3h-1.3zM436 360h1.3v1.3h-1.3zM265 393h1.3v1.3h-1.3zM346 325h1.3v1.3h-1.3zM424 373h1.3v1.3h-1.3zM396 289h1.3v1.3h-1.3zM363 73h1.3v1.3h-1.3zM372 198h1.3v1.3h-1.3zM242 417h1.3v1.3h-1.3zM383 262h1.3v1.3h-1.3zM296 348h1.3v1.3h-1.3zM312 355h1.3v1.3h-1.3zM491 423h1.3v1.3h-1.3zM476 412h1.3v1.3h-1.3zM229 443h1.3v1.3h-1.3zM226 47h1.3v1.3h-1.3zM378 235h1.3v1.3h-1.3zM359 325h1.3v1.3h-1.3zM483 414h1.3v1.3h-1.3zM252 413h1.3v1.3h-1.3zM503 136h1.3v1.3h-1.3zM329 344h1.3v1.3h-1.3zM365 59h1.3v1.3h-1.3zM339 143h1.3v1.3h-1.3zM356 323h1.3v1.3h-1.3zM444 382h1.3v1.3h-1.3zM397 302h1.3v1.3h-1.3zM414 313h1.3v1.3h-1.3zM416 331h1.3v1.3h-1.3zM460 386h1.3v1.3h-1.3zM372 186h1.3v1.3h-1.3zM220 440h1.3v1.3h-1.3zM368 173h1.3v1.3h-1.3zM335 274h1.3v1.3h-1.3zM275 388h1.3v1.3h-1.3zM335 205h1.3v1.3h-1.3zM390 336h1.3v1.3h-1.3zM416 378h1.3v1.3h-1.3zM272 380h1.3v1.3h-1.3zM458 392h1.3v1.3h-1.3zM314 320h1.3v1.3h-1.3zM284 378h1.3v1.3h-1.3zM337 208h1.3v1.3h-1.3zM459 368h1.3v1.3h-1.3zM530 471h1.3v1.3h-1.3zM345 228h1.3v1.3h-1.3zM336 288h1.3v1.3h-1.3zM374 321h1.3v1.3h-1.3zM373 343h1.3v1.3h-1.3zM371 337h1.3v1.3h-1.3zM204 460h1.3v1.3h-1.3zM288 359h1.3v1.3h-1.3zM392 299h1.3v1.3h-1.3zM379 239h1.3v1.3h-1.3zM268 419h1.3v1.3h-1.3z"/><path fill="#18a0ff" opacity="0.85" d="M366 181h1.4v1.4h-1.4zM360 44h1.4v1.4h-1.4zM361 186h1.4v1.4h-1.4zM362 156h1.4v1.4h-1.4zM364 140h1.4v1.4h-1.4zM360 161h1.4v1.4h-1.4zM365 101h1.4v1.4h-1.4zM360 149h1.4v1.4h-1.4zM364 165h1.4v1.4h-1.4zM362 183h1.4v1.4h-1.4zM363 171h1.4v1.4h-1.4zM362 146h1.4v1.4h-1.4zM364 128h1.4v1.4h-1.4zM358 140h1.4v1.4h-1.4zM364 165h1.4v1.4h-1.4zM361 172h1.4v1.4h-1.4zM362 63h1.4v1.4h-1.4zM360 65h1.4v1.4h-1.4zM364 152h1.4v1.4h-1.4zM363 156h1.4v1.4h-1.4zM361 138h1.4v1.4h-1.4zM360 110h1.4v1.4h-1.4zM367 41h1.4v1.4h-1.4zM362 157h1.4v1.4h-1.4zM363 188h1.4v1.4h-1.4zM362 114h1.4v1.4h-1.4zM364 172h1.4v1.4h-1.4zM365 66h1.4v1.4h-1.4zM364 177h1.4v1.4h-1.4zM366 23h1.4v1.4h-1.4zM366 107h1.4v1.4h-1.4zM358 182h1.4v1.4h-1.4zM361 28h1.4v1.4h-1.4zM360 151h1.4v1.4h-1.4zM364 79h1.4v1.4h-1.4zM363 85h1.4v1.4h-1.4zM360 116h1.4v1.4h-1.4zM366 139h1.4v1.4h-1.4zM363 46h1.4v1.4h-1.4zM366 75h1.4v1.4h-1.4zM361 172h1.4v1.4h-1.4zM364 173h1.4v1.4h-1.4zM365 152h1.4v1.4h-1.4zM362 191h1.4v1.4h-1.4zM363 181h1.4v1.4h-1.4zM362 92h1.4v1.4h-1.4zM362 103h1.4v1.4h-1.4zM363 155h1.4v1.4h-1.4zM358 166h1.4v1.4h-1.4zM364 91h1.4v1.4h-1.4zM363 156h1.4v1.4h-1.4zM359 72h1.4v1.4h-1.4zM364 190h1.4v1.4h-1.4zM357 24h1.4v1.4h-1.4zM360 170h1.4v1.4h-1.4zM365 105h1.4v1.4h-1.4zM364 17h1.4v1.4h-1.4zM361 76h1.4v1.4h-1.4zM365 185h1.4v1.4h-1.4zM362 125h1.4v1.4h-1.4zM362 85h1.4v1.4h-1.4zM362 184h1.4v1.4h-1.4zM364 181h1.4v1.4h-1.4zM364 17h1.4v1.4h-1.4zM360 188h1.4v1.4h-1.4zM362 177h1.4v1.4h-1.4zM364 172h1.4v1.4h-1.4zM365 86h1.4v1.4h-1.4zM363 27h1.4v1.4h-1.4zM364 173h1.4v1.4h-1.4zM364 143h1.4v1.4h-1.4zM360 77h1.4v1.4h-1.4zM362 129h1.4v1.4h-1.4zM367 159h1.4v1.4h-1.4zM362 131h1.4v1.4h-1.4zM364 78h1.4v1.4h-1.4zM360 179h1.4v1.4h-1.4zM368 180h1.4v1.4h-1.4zM361 140h1.4v1.4h-1.4zM364 158h1.4v1.4h-1.4zM364 30h1.4v1.4h-1.4zM359 77h1.4v1.4h-1.4zM362 42h1.4v1.4h-1.4zM365 92h1.4v1.4h-1.4zM361 117h1.4v1.4h-1.4zM365 77h1.4v1.4h-1.4zM362 162h1.4v1.4h-1.4zM366 12h1.4v1.4h-1.4zM367 127h1.4v1.4h-1.4zM360 16h1.4v1.4h-1.4zM363 48h1.4v1.4h-1.4zM361 100h1.4v1.4h-1.4zM360 177h1.4v1.4h-1.4zM362 181h1.4v1.4h-1.4zM363 37h1.4v1.4h-1.4zM363 179h1.4v1.4h-1.4zM363 177h1.4v1.4h-1.4zM357 97h1.4v1.4h-1.4zM361 28h1.4v1.4h-1.4zM358 174h1.4v1.4h-1.4zM363 170h1.4v1.4h-1.4zM364 184h1.4v1.4h-1.4zM363 40h1.4v1.4h-1.4zM361 33h1.4v1.4h-1.4zM363 75h1.4v1.4h-1.4zM364 94h1.4v1.4h-1.4zM364 75h1.4v1.4h-1.4zM361 114h1.4v1.4h-1.4zM362 152h1.4v1.4h-1.4zM365 93h1.4v1.4h-1.4zM362 170h1.4v1.4h-1.4zM363 142h1.4v1.4h-1.4zM362 18h1.4v1.4h-1.4zM364 52h1.4v1.4h-1.4zM363 172h1.4v1.4h-1.4zM362 153h1.4v1.4h-1.4zM361 24h1.4v1.4h-1.4zM362 97h1.4v1.4h-1.4zM363 108h1.4v1.4h-1.4zM364 146h1.4v1.4h-1.4zM360 184h1.4v1.4h-1.4zM366 38h1.4v1.4h-1.4zM360 186h1.4v1.4h-1.4zM363 28h1.4v1.4h-1.4zM360 36h1.4v1.4h-1.4zM361 133h1.4v1.4h-1.4zM362 141h1.4v1.4h-1.4zM363 122h1.4v1.4h-1.4zM363 32h1.4v1.4h-1.4zM364 162h1.4v1.4h-1.4zM362 151h1.4v1.4h-1.4zM366 24h1.4v1.4h-1.4zM359 152h1.4v1.4h-1.4zM363 156h1.4v1.4h-1.4zM363 160h1.4v1.4h-1.4zM361 152h1.4v1.4h-1.4zM362 15h1.4v1.4h-1.4zM360 126h1.4v1.4h-1.4zM363 85h1.4v1.4h-1.4zM361 36h1.4v1.4h-1.4zM364 27h1.4v1.4h-1.4zM363 146h1.4v1.4h-1.4zM363 179h1.4v1.4h-1.4zM363 123h1.4v1.4h-1.4zM360 127h1.4v1.4h-1.4zM364 31h1.4v1.4h-1.4zM364 30h1.4v1.4h-1.4zM361 55h1.4v1.4h-1.4zM360 44h1.4v1.4h-1.4zM361 125h1.4v1.4h-1.4zM365 49h1.4v1.4h-1.4zM358 64h1.4v1.4h-1.4zM363 103h1.4v1.4h-1.4zM361 93h1.4v1.4h-1.4zM364 110h1.4v1.4h-1.4zM359 30h1.4v1.4h-1.4zM363 190h1.4v1.4h-1.4zM360 30h1.4v1.4h-1.4zM364 27h1.4v1.4h-1.4zM366 55h1.4v1.4h-1.4zM362 124h1.4v1.4h-1.4zM366 123h1.4v1.4h-1.4zM362 98h1.4v1.4h-1.4zM364 127h1.4v1.4h-1.4zM367 185h1.4v1.4h-1.4zM364 150h1.4v1.4h-1.4zM364 52h1.4v1.4h-1.4zM357 89h1.4v1.4h-1.4zM360 38h1.4v1.4h-1.4zM363 69h1.4v1.4h-1.4zM361 184h1.4v1.4h-1.4zM360 37h1.4v1.4h-1.4zM363 179h1.4v1.4h-1.4zM359 61h1.4v1.4h-1.4zM360 140h1.4v1.4h-1.4zM364 124h1.4v1.4h-1.4zM366 191h1.4v1.4h-1.4zM361 109h1.4v1.4h-1.4zM362 174h1.4v1.4h-1.4zM363 177h1.4v1.4h-1.4zM361 35h1.4v1.4h-1.4zM360 100h1.4v1.4h-1.4zM363 143h1.4v1.4h-1.4zM360 146h1.4v1.4h-1.4zM361 156h1.4v1.4h-1.4zM366 104h1.4v1.4h-1.4zM358 177h1.4v1.4h-1.4zM367 47h1.4v1.4h-1.4zM365 153h1.4v1.4h-1.4zM361 19h1.4v1.4h-1.4zM365 177h1.4v1.4h-1.4zM363 91h1.4v1.4h-1.4zM360 168h1.4v1.4h-1.4zM361 99h1.4v1.4h-1.4zM361 137h1.4v1.4h-1.4zM366 26h1.4v1.4h-1.4zM360 115h1.4v1.4h-1.4zM360 188h1.4v1.4h-1.4zM361 13h1.4v1.4h-1.4zM361 85h1.4v1.4h-1.4zM367 152h1.4v1.4h-1.4zM361 83h1.4v1.4h-1.4zM360 18h1.4v1.4h-1.4zM361 155h1.4v1.4h-1.4zM361 168h1.4v1.4h-1.4zM358 132h1.4v1.4h-1.4zM362 72h1.4v1.4h-1.4zM360 51h1.4v1.4h-1.4zM361 142h1.4v1.4h-1.4zM365 174h1.4v1.4h-1.4zM364 125h1.4v1.4h-1.4zM364 173h1.4v1.4h-1.4zM360 160h1.4v1.4h-1.4zM362 61h1.4v1.4h-1.4zM361 157h1.4v1.4h-1.4zM361 122h1.4v1.4h-1.4zM362 141h1.4v1.4h-1.4zM361 91h1.4v1.4h-1.4zM364 188h1.4v1.4h-1.4zM360 126h1.4v1.4h-1.4zM365 147h1.4v1.4h-1.4zM363 43h1.4v1.4h-1.4zM362 161h1.4v1.4h-1.4zM363 136h1.4v1.4h-1.4zM361 190h1.4v1.4h-1.4zM361 145h1.4v1.4h-1.4zM364 144h1.4v1.4h-1.4zM362 103h1.4v1.4h-1.4zM372 89h1.4v1.4h-1.4zM359 82h1.4v1.4h-1.4zM245 419h1.4v1.4h-1.4zM269 392h1.4v1.4h-1.4zM280 383h1.4v1.4h-1.4zM271 382h1.4v1.4h-1.4zM263 396h1.4v1.4h-1.4zM279 379h1.4v1.4h-1.4zM235 423h1.4v1.4h-1.4zM273 378h1.4v1.4h-1.4zM228 431h1.4v1.4h-1.4zM211 445h1.4v1.4h-1.4zM258 395h1.4v1.4h-1.4zM277 368h1.4v1.4h-1.4zM235 428h1.4v1.4h-1.4zM284 373h1.4v1.4h-1.4zM281 377h1.4v1.4h-1.4zM282 371h1.4v1.4h-1.4zM283 374h1.4v1.4h-1.4zM278 376h1.4v1.4h-1.4zM250 415h1.4v1.4h-1.4zM213 446h1.4v1.4h-1.4zM274 381h1.4v1.4h-1.4zM264 389h1.4v1.4h-1.4zM261 395h1.4v1.4h-1.4zM261 396h1.4v1.4h-1.4zM276 379h1.4v1.4h-1.4zM236 430h1.4v1.4h-1.4zM253 407h1.4v1.4h-1.4zM283 372h1.4v1.4h-1.4zM217 439h1.4v1.4h-1.4zM248 411h1.4v1.4h-1.4zM234 431h1.4v1.4h-1.4zM210 445h1.4v1.4h-1.4zM280 378h1.4v1.4h-1.4zM229 432h1.4v1.4h-1.4zM250 412h1.4v1.4h-1.4zM282 385h1.4v1.4h-1.4zM273 381h1.4v1.4h-1.4zM282 375h1.4v1.4h-1.4zM248 408h1.4v1.4h-1.4zM281 376h1.4v1.4h-1.4zM265 390h1.4v1.4h-1.4zM217 439h1.4v1.4h-1.4zM257 398h1.4v1.4h-1.4zM214 448h1.4v1.4h-1.4zM227 435h1.4v1.4h-1.4zM264 393h1.4v1.4h-1.4zM238 426h1.4v1.4h-1.4zM282 373h1.4v1.4h-1.4zM210 449h1.4v1.4h-1.4zM224 442h1.4v1.4h-1.4zM248 415h1.4v1.4h-1.4zM267 384h1.4v1.4h-1.4zM268 389h1.4v1.4h-1.4zM280 371h1.4v1.4h-1.4zM237 421h1.4v1.4h-1.4zM281 372h1.4v1.4h-1.4zM274 381h1.4v1.4h-1.4zM264 388h1.4v1.4h-1.4zM209 449h1.4v1.4h-1.4zM217 444h1.4v1.4h-1.4zM218 450h1.4v1.4h-1.4zM241 423h1.4v1.4h-1.4zM228 433h1.4v1.4h-1.4zM276 383h1.4v1.4h-1.4zM269 386h1.4v1.4h-1.4zM232 427h1.4v1.4h-1.4zM231 428h1.4v1.4h-1.4zM282 372h1.4v1.4h-1.4zM226 434h1.4v1.4h-1.4zM226 433h1.4v1.4h-1.4zM445 379h1.4v1.4h-1.4zM473 407h1.4v1.4h-1.4zM447 378h1.4v1.4h-1.4zM449 374h1.4v1.4h-1.4zM507 444h1.4v1.4h-1.4zM500 430h1.4v1.4h-1.4zM456 387h1.4v1.4h-1.4zM496 438h1.4v1.4h-1.4zM482 417h1.4v1.4h-1.4zM463 397h1.4v1.4h-1.4zM514 449h1.4v1.4h-1.4zM499 435h1.4v1.4h-1.4zM496 427h1.4v1.4h-1.4zM486 420h1.4v1.4h-1.4zM465 399h1.4v1.4h-1.4zM492 427h1.4v1.4h-1.4zM476 406h1.4v1.4h-1.4zM508 436h1.4v1.4h-1.4zM475 407h1.4v1.4h-1.4zM448 377h1.4v1.4h-1.4zM511 445h1.4v1.4h-1.4zM480 416h1.4v1.4h-1.4zM450 376h1.4v1.4h-1.4zM446 379h1.4v1.4h-1.4zM486 416h1.4v1.4h-1.4zM448 387h1.4v1.4h-1.4zM468 405h1.4v1.4h-1.4zM457 391h1.4v1.4h-1.4zM451 380h1.4v1.4h-1.4zM449 380h1.4v1.4h-1.4zM512 449h1.4v1.4h-1.4zM447 376h1.4v1.4h-1.4zM442 371h1.4v1.4h-1.4zM480 418h1.4v1.4h-1.4zM466 399h1.4v1.4h-1.4zM464 403h1.4v1.4h-1.4zM497 437h1.4v1.4h-1.4zM507 443h1.4v1.4h-1.4zM464 399h1.4v1.4h-1.4zM460 392h1.4v1.4h-1.4zM450 377h1.4v1.4h-1.4zM448 381h1.4v1.4h-1.4zM498 431h1.4v1.4h-1.4zM442 377h1.4v1.4h-1.4zM451 386h1.4v1.4h-1.4zM468 393h1.4v1.4h-1.4zM448 379h1.4v1.4h-1.4zM454 383h1.4v1.4h-1.4zM476 415h1.4v1.4h-1.4zM486 421h1.4v1.4h-1.4zM463 396h1.4v1.4h-1.4zM444 376h1.4v1.4h-1.4zM475 405h1.4v1.4h-1.4zM500 436h1.4v1.4h-1.4zM504 445h1.4v1.4h-1.4zM443 372h1.4v1.4h-1.4zM475 410h1.4v1.4h-1.4zM504 439h1.4v1.4h-1.4zM501 445h1.4v1.4h-1.4zM507 451h1.4v1.4h-1.4zM507 444h1.4v1.4h-1.4zM483 417h1.4v1.4h-1.4zM449 382h1.4v1.4h-1.4zM452 384h1.4v1.4h-1.4zM500 435h1.4v1.4h-1.4zM461 392h1.4v1.4h-1.4zM446 382h1.4v1.4h-1.4zM472 413h1.4v1.4h-1.4zM482 418h1.4v1.4h-1.4zM502 432h1.4v1.4h-1.4z"/><circle cx="362.3" cy="285.8" r="1.7" fill="#700000"/></g>
</g>
<rect x="593" y="11" width="25.5" height="478" fill="url(#jet)"/>
<path d="M593.5 11V489" stroke="#1a1a4a" stroke-width="1" fill="none" opacity="0.7"/>
<path d="M112 11H618.5M112 11V489.5H618.5V11" stroke="#555" stroke-width="1" fill="none" opacity="0.55"/>
<path d="M108.5 11.0H118M108.5 70.8H118M108.5 130.5H118M108.5 190.2H118M108.5 250.0H118M108.5 309.8H118M108.5 369.5H118M108.5 429.2H118M108.5 489.0H118M175.0 484.5V494.5M175.0 11V17M296.0 484.5V494.5M296.0 11V17M417.0 484.5V494.5M417.0 11V17M538.0 484.5V494.5M538.0 11V17M613 14.0H618.5M613 79.0H618.5M613 144.0H618.5M613 209.0H618.5M613 274.0H618.5M613 339.0H618.5M613 404.0H618.5M613 469.0H618.5" stroke="#666" stroke-width="1.1" fill="none"/>
<text x="100.5" y="21.0" text-anchor="end" font-family="Liberation Serif, serif" font-size="26.5" fill="#2a2a2a">0</text>
<text x="100.5" y="80.8" text-anchor="end" font-family="Liberation Serif, serif" font-size="26.5" fill="#2a2a2a">50</text>
<text x="100.5" y="140.5" text-anchor="end" font-family="Liberation Serif, serif" font-size="26.5" fill="#2a2a2a">100</text>
<text x="100.5" y="200.2" text-anchor="end" font-family="Liberation Serif, serif" font-size="26.5" fill="#2a2a2a">150</text>
<text x="100.5" y="260.0" text-anchor="end" font-family="Liberation Serif, serif" font-size="26.5" fill="#2a2a2a">200</text>
<text x="100.5" y="319.8" text-anchor="end" font-family="Liberation Serif, serif" font-size="26.5" fill="#2a2a2a">250</text>
<text x="100.5" y="379.5" text-anchor="end" font-family="Liberation Serif, serif" font-size="26.5" fill="#2a2a2a">300</text>
<text x="100.5" y="439.2" text-anchor="end" font-family="Liberation Serif, serif" font-size="26.5" fill="#2a2a2a">350</text>
<text x="100.5" y="499.0" text-anchor="end" font-family="Liberation Serif, serif" font-size="26.5" fill="#2a2a2a">400</text>
<text x="175.0" y="527.3" text-anchor="middle" font-family="Liberation Serif, serif" font-size="26.5" fill="#2a2a2a">100</text>
<text x="296.0" y="527.3" text-anchor="middle" font-family="Liberation Serif, serif" font-size="26.5" fill="#2a2a2a">200</text>
<text x="417.0" y="527.3" text-anchor="middle" font-family="Liberation Serif, serif" font-size="26.5" fill="#2a2a2a">300</text>
<text x="538.0" y="527.3" text-anchor="middle" font-family="Liberation Serif, serif" font-size="26.5" fill="#2a2a2a">400</text>
<text x="625.8" y="23.7" font-family="Liberation Serif, serif" font-size="26.5" fill="#2a2a2a">4</text>
<text x="625.8" y="88.8" font-family="Liberation Serif, serif" font-size="26.5" fill="#2a2a2a">3.5</text>
<text x="625.8" y="153.9" font-family="Liberation Serif, serif" font-size="26.5" fill="#2a2a2a">3</text>
<text x="625.8" y="219.0" font-family="Liberation Serif, serif" font-size="26.5" fill="#2a2a2a">2.5</text>
<text x="625.8" y="284.1" font-family="Liberation Serif, serif" font-size="26.5" fill="#2a2a2a">2</text>
<text x="625.8" y="349.2" font-family="Liberation Serif, serif" font-size="26.5" fill="#2a2a2a">1.5</text>
<text x="625.8" y="414.3" font-family="Liberation Serif, serif" font-size="26.5" fill="#2a2a2a">1</text>
<text x="625.8" y="479.4" font-family="Liberation Serif, serif" font-size="26.5" fill="#2a2a2a">0.5</text>
<text x="357.5" y="554" text-anchor="middle" font-family="Liberation Serif, serif" font-size="39" fill="#222">pixels</text>
<text transform="translate(44.8 251.3) rotate(-90)" text-anchor="middle" font-family="Liberation Serif, serif" font-size="40" fill="#222">pixels</text>
<text transform="translate(693.6 239) rotate(-90)" text-anchor="middle" font-family="Liberation Serif, serif" font-size="39" fill="#111" textLength="388" lengthAdjust="spacingAndGlyphs">XRD intensity (log scale)</text>
</g>
<text x="-0.8" y="36" font-family="Liberation Serif, serif" font-size="50.5" font-weight="bold" letter-spacing="1" fill="#000">(a)</text>
<text x="784.6" y="36.2" font-family="Liberation Serif, serif" font-size="50.5" font-weight="bold" letter-spacing="1" fill="#000">(b)</text>
<text x="1.7" y="1102.6" font-family="Liberation Serif, serif" font-size="50.5" font-weight="bold" letter-spacing="1" fill="#000">(c)</text>
<text x="784.6" y="1097.6" font-family="Liberation Serif, serif" font-size="50.5" font-weight="bold" letter-spacing="1" fill="#000">(d)</text>
<path d="M833.8 350.0L830.8 302.7M824.6 316.4L830.8 302.7L839.8 315.3M833.8 350.0L885.2 344.1M871.6 337.9L885.2 344.1L873.1 353.6M833.8 350.0L852.5 391.4M854.6 376.3L852.5 391.4L839.9 382.6" stroke="#000" stroke-width="4.6" fill="none" stroke-linecap="round" stroke-linejoin="miter"/>
<text x="845.5" y="308.6" font-family="Liberation Serif, serif" font-size="37" fill="#000">y</text>
<text x="869.5" y="331.4" font-family="Liberation Serif, serif" font-size="37" fill="#000">z</text>
<text x="808.5" y="379.2" font-family="Liberation Serif, serif" font-size="37" fill="#000">x</text>
<path d="M1374.5 369.4L1375.8 314.4M1368.5 325.8L1375.8 314.4L1382.4 325.7M1374.5 369.4L1425.6 354.1M1413.0 350.6L1425.6 354.1L1416.6 364.0M1374.5 369.4L1419.2 401.5M1406.6 401.0L1419.2 401.5L1414.6 389.7" stroke="#000" stroke-width="4.6" fill="none" stroke-linecap="round" stroke-linejoin="miter"/>
<text x="1393.5" y="335.0" font-family="Liberation Serif, serif" font-size="37" fill="#000">y</text>
<text x="1436.5" y="360.4" font-family="Liberation Serif, serif" font-size="37" fill="#000">x</text>
<text x="1432.5" y="406.1" font-family="Liberation Serif, serif" font-size="37" fill="#000">z</text>
<path d="M748.4 955.0L749.7 900.0M742.4 911.4L749.7 900.0L756.3 911.3M748.4 955.0L799.5 939.7M786.9 936.2L799.5 939.7L790.5 949.6M748.4 955.0L793.1 987.1M780.5 986.6L793.1 987.1L788.5 975.3" stroke="#000" stroke-width="4.6" fill="none" stroke-linecap="round" stroke-linejoin="miter"/>
<text x="767.4" y="920.6" font-family="Liberation Serif, serif" font-size="37" fill="#000">y</text>
<text x="810.4" y="946.0" font-family="Liberation Serif, serif" font-size="37" fill="#000">x</text>
<text x="806.4" y="991.7" font-family="Liberation Serif, serif" font-size="37" fill="#000">z</text>
<g id="panelB" filter="url(#b3)">
<clipPath id="cpT1"><path d="M859 173 L874.3 165.2 L915.4 150.3 L954.7 127.9 L988.3 110.1 L1018.2 96.1 L1051.9 79.3 L1083.6 62.4 L1100.5 53.1 Q1108 49.5 1112 52.5 Q1116.5 56 1113.5 63 L978.5 363.5 Q972 377 959.5 378.5 Q947.5 377.5 946 366 L945 348 L932.6 316.9 L911.9 269.4 L891.3 228.1 L865.5 182.7 Q855.5 178 859 173Z"/></clipPath>
<path d="M859 173 L874.3 165.2 L915.4 150.3 L954.7 127.9 L988.3 110.1 L1018.2 96.1 L1051.9 79.3 L1083.6 62.4 L1100.5 53.1 Q1108 49.5 1112 52.5 Q1116.5 56 1113.5 63 L978.5 363.5 Q972 377 959.5 378.5 Q947.5 377.5 946 366 L945 348 L932.6 316.9 L911.9 269.4 L891.3 228.1 L865.5 182.7 Q855.5 178 859 173Z" fill="url(#m1)"/>
<path clip-path="url(#cpT1)" d="M1100.5 57 L1120 45 L1120 70 L985 372 L960 385 L940 380 L945.5 349 L950 339 Z" fill="url(#m1s)"/>
<path d="M1100.5 57.500 L950 339" stroke="#021002" stroke-width="2.2" fill="none"/>
<path d="M859 173 L874.3 165.2 L915.4 150.3 L954.7 127.9 L988.3 110.1 L1018.2 96.1 L1051.9 79.3 L1083.6 62.4 L1100.5 53.1 Q1108 49.5 1112 52.5 Q1116.5 56 1113.5 63 L978.5 363.5 Q972 377 959.5 378.5 Q947.5 377.5 946 366 L945 348 L932.6 316.9 L911.9 269.4 L891.3 228.1 L865.5 182.7 Q855.5 178 859 173Z" fill="none" stroke="#000" stroke-width="1.8" stroke-linejoin="round"/>
<path d="M1243.8 35.3 Q1251 36.5 1253.5 45.5 L1256.8 51.9 L1320 105.8 L1340 123.6 L1440 212.5 L1464.6 232.3 L1484.9 246.9 Q1496.5 254 1495 256.8 Q1492.5 262.5 1480.4 263.8 L1453.3 267.2 L1408.2 283 L1340.5 309 L1272.8 330.4 L1205.1 350.7 L1180 360.8 Q1170.5 365 1168.2 361 Q1166.5 357 1171 351.5 L1177.5 330 L1184 300 L1191.5 262 L1205 208 L1219 154 L1226 124 L1229 100 L1234.4 43 Q1236 35.800 1243.800 35.300Z" fill="url(#m2)" stroke="#000" stroke-width="1.7" stroke-linejoin="round"/>
</g>
<g id="panelC" filter="url(#bc)">
<path fill="#ff8f00" d="M222.6,661.7 220.9,661.1 219.1,661.0 217.3,661.3 215.7,662.1 214.3,663.3 213.3,664.8 212.7,666.5 145.4,978.9 145.3,980.7 145.6,982.5 146.4,984.2 147.6,985.6 149.1,986.6 150.9,987.2 152.7,987.4 154.5,987.0 461.4,884.5 463.0,883.7 464.4,882.5 465.6,880.4 468.5,879.2 466.1,877.4 465.8,875.6 465.0,873.9 463.7,872.6 224.1,662.7Z"/>
<circle cx="217.8" cy="665.3" r="5.2" fill="#ff6a00"/><circle cx="151.5" cy="981.5" r="4" fill="#ff9000"/>
<path fill="#ffb300" d="M223.4,664.0 222.1,663.2 220.7,662.7 219.2,662.6 217.7,662.9 216.3,663.6 215.2,664.5 214.3,665.8 213.8,667.2 146.8,978.9 146.6,980.5 146.9,982.0 147.6,983.4 148.6,984.5 149.8,985.4 151.3,985.9 152.8,986.0 154.3,985.7 460.5,883.4 461.9,882.7 463.0,881.7 463.9,880.4 464.4,879.0 464.5,877.5 464.2,876.0 463.5,874.6 462.5,873.4Z"/>
<path fill="#ffd600" d="M224.1,666.7 222.9,665.9 221.5,665.4 220.0,665.3 218.6,665.6 217.3,666.2 216.1,667.2 215.3,668.4 214.8,669.8 148.6,977.3 148.5,978.8 148.8,980.2 149.4,981.6 150.4,982.7 151.7,983.6 153.1,984.0 154.6,984.2 156.0,983.9 458.0,882.9 459.4,882.3 460.5,881.3 461.3,880.1 461.8,878.7 461.9,877.2 461.6,875.7 461.0,874.4 460.0,873.2Z"/>
<path fill="#fff500" d="M225.9,670.3 224.7,669.5 223.3,669.1 221.9,669.0 220.5,669.2 219.2,669.9 218.1,670.8 217.3,672.0 216.8,673.3 151.9,975.1 151.8,976.5 152.0,977.9 152.7,979.3 153.6,980.4 154.8,981.2 156.2,981.7 157.6,981.8 159.1,981.5 455.4,882.4 456.7,881.8 457.8,880.9 458.6,879.7 459.1,878.3 459.2,876.8 458.9,875.4 458.3,874.1 457.3,873.0Z"/>
<path fill="#f0ff0f" d="M230.0,676.2 228.8,675.4 227.5,675.0 226.1,674.9 224.8,675.1 223.5,675.7 222.4,676.6 221.7,677.8 221.2,679.1 158.3,971.4 158.2,972.8 158.4,974.2 159.0,975.5 160.0,976.5 161.1,977.3 162.5,977.8 163.9,977.9 165.2,977.6 452.3,881.7 453.6,881.1 454.7,880.1 455.4,879.0 455.9,877.6 456.0,876.2 455.7,874.9 455.1,873.6 454.2,872.5Z"/>
<path fill="#d6ff29" d="M234.4,682.7 233.3,682.0 232.0,681.5 230.7,681.5 229.4,681.7 228.2,682.3 227.2,683.2 226.4,684.3 225.9,685.5 165.4,966.7 165.3,968.0 165.6,969.4 166.2,970.6 167.1,971.6 168.2,972.4 169.5,972.8 170.8,972.9 172.1,972.7 448.3,880.4 449.5,879.8 450.5,878.9 451.3,877.8 451.7,876.5 451.8,875.2 451.5,873.8 451.0,872.6 450.1,871.6Z"/>
<path fill="#bdff42" d="M237.9,688.7 236.8,688.0 235.6,687.6 234.3,687.5 233.1,687.7 231.9,688.3 231.0,689.1 230.2,690.2 229.8,691.4 171.6,961.8 171.5,963.1 171.7,964.4 172.3,965.6 173.1,966.6 174.2,967.3 175.4,967.7 176.7,967.8 178.0,967.6 443.6,878.8 444.8,878.2 445.8,877.4 446.5,876.3 446.9,875.1 447.0,873.8 446.7,872.5 446.2,871.3 445.3,870.4Z"/>
<path fill="#a3ff5c" d="M240.4,694.2 239.4,693.6 238.3,693.2 237.0,693.1 235.8,693.3 234.7,693.8 233.8,694.6 233.1,695.6 232.7,696.8 176.7,957.4 176.6,958.6 176.8,959.8 177.3,960.9 178.1,961.9 179.1,962.6 180.3,963.0 181.5,963.1 182.7,962.8 438.7,877.3 439.8,876.7 440.7,875.9 441.4,874.9 441.8,873.7 441.9,872.5 441.6,871.3 441.1,870.2 440.3,869.3Z"/>
<path fill="#8fff70" d="M242.4,701.3 240.4,700.3 238.2,700.4 236.4,701.6 235.4,703.6 181.7,953.2 181.8,955.4 182.3,956.4 183.9,957.9 185.0,958.3 187.2,958.2 432.3,876.2 434.2,875.0 435.2,873.0 435.0,870.8 433.8,868.9Z"/>
<path fill="#80ff80" d="M244.5,711.1 242.8,710.2 240.9,710.4 239.3,711.4 238.4,713.1 187.7,949.0 187.6,949.9 188.2,951.8 188.8,952.5 190.5,953.4 192.5,953.2 424.1,875.8 425.7,874.8 426.6,873.0 426.4,871.1 425.4,869.5Z"/>
<path fill="#70ff8f" d="M246.7,723.7 245.4,723.0 243.9,723.1 242.6,723.9 241.9,725.2 195.0,943.6 194.9,944.3 195.4,945.8 196.5,946.8 197.2,947.0 198.7,946.9 413.2,875.3 414.4,874.4 415.1,873.1 415.0,871.6 414.2,870.3Z"/>
<path fill="#61ff9e" d="M254.7,745.3 253.6,744.7 252.3,744.8 251.2,745.5 250.6,746.7 209.9,936.1 210.0,937.4 210.2,938.0 210.7,938.4 211.8,939.0 213.1,939.0 399.1,876.8 400.2,876.1 400.8,874.9 400.7,873.6 400.0,872.5Z"/>
<path fill="#52ffad" d="M262.9,764.4 261.7,763.9 260.5,763.9 259.4,764.6 258.8,765.8 224.1,927.1 224.2,928.4 224.4,929.0 224.9,929.5 226.0,930.1 227.3,930.0 385.8,877.0 386.8,876.3 387.4,875.2 387.3,873.9 386.6,872.8Z"/>
<path fill="#42ffbd" d="M271.9,784.3 270.8,783.7 269.5,783.8 268.4,784.5 267.8,785.7 239.4,917.8 239.5,919.1 239.7,919.7 240.2,920.2 241.3,920.7 242.6,920.7 372.4,877.3 373.5,876.6 374.0,875.4 374.0,874.1 373.2,873.0Z"/>
<path fill="#33ffcc" d="M281.2,803.0 280.0,802.5 278.7,802.6 277.7,803.3 277.1,804.4 254.7,908.4 254.8,909.7 255.0,910.3 255.5,910.8 256.6,911.4 257.9,911.3 360.1,877.2 361.2,876.5 361.8,875.3 361.7,874.0 361.0,872.9Z"/>
<path fill="#24ffdb" d="M290.4,821.8 289.3,821.2 288.0,821.3 286.9,822.0 286.3,823.1 270.0,899.1 270.1,900.4 270.4,901.0 270.8,901.5 271.9,902.1 273.2,902.0 347.8,877.1 348.9,876.3 349.5,875.2 349.4,873.9 348.7,872.8Z"/>
<path fill="#1affe5" d="M299.7,840.5 298.5,840.0 297.3,840.0 296.2,840.8 295.6,841.9 285.1,890.9 285.1,892.2 285.4,892.8 285.8,893.3 287.0,893.9 288.3,893.8 336.4,877.7 337.5,877.0 338.1,875.8 338.0,874.5 337.3,873.5Z"/>
</g>
<g id="panelD" filter="url(#bc)">
<path fill="url(#gdo)" d="M1046.2,655.7 1044.8,654.7 1043.2,654.1 1041.5,654.0 1039.8,654.3 1038.3,655.1 1037.0,656.2 1036.0,657.6 1035.5,659.2 975.6,965.4 975.5,967.0 975.8,968.6 976.5,970.1 977.5,971.3 978.8,972.3 980.3,972.9 981.9,973.1 983.5,972.9 1295.2,898.2 1296.8,897.5 1298.2,896.5 1299.3,895.1 1300.0,893.5 1300.2,891.8 1299.9,890.0 1299.2,888.4 1298.1,887.1Z"/>
<clipPath id="cpD"><path d="M1046.2,655.7 1044.8,654.7 1043.2,654.1 1041.5,654.0 1039.8,654.3 1038.3,655.1 1037.0,656.2 1036.0,657.6 1035.5,659.2 975.6,965.4 975.5,967.0 975.8,968.6 976.5,970.1 977.5,971.3 978.8,972.3 980.3,972.9 981.9,973.1 983.5,972.9 1295.2,898.2 1296.8,897.5 1298.2,896.5 1299.3,895.1 1300.0,893.5 1300.2,891.8 1299.9,890.0 1299.2,888.4 1298.1,887.1Z"/></clipPath>
<g clip-path="url(#cpD)"><path fill="url(#gd)" filter="url(#bd)" d="M1060.9,688.2 1059.5,687.5 1058.0,687.6 1056.7,688.4 1056.0,689.8 999.4,979.2 999.5,980.6 1000.3,981.9 1001.6,982.6 1003.0,982.7 1297.6,912.0 1299.0,911.2 1299.8,909.8 1299.9,909.0 1299.8,908.2 1298.9,906.9Z"/></g>
<ellipse cx="1051.5" cy="682.0" rx="3.0" ry="4.4" fill="#ff6a00" opacity="0.85"/>
<ellipse cx="1035.0" cy="777.4" rx="3.4" ry="5.1" fill="#ff5a00" opacity="0.85"/>
<ellipse cx="1024.6" cy="853.3" rx="3.2" ry="4.8" fill="#ff7000" opacity="0.85"/>
<ellipse cx="1092.5" cy="724.7" rx="3.7" ry="5.4" fill="#f0ff10" opacity="0.85"/>
<ellipse cx="1027.9" cy="814.5" rx="2.8" ry="4.1" fill="#ffe000" opacity="0.85"/>
<ellipse cx="1040.8" cy="764.4" rx="2.8" ry="4.1" fill="#38c0ff" opacity="0.85"/>
<ellipse cx="1031.0" cy="824.0" rx="2.8" ry="4.1" fill="#38c0ff" opacity="0.85"/>
<ellipse cx="1112.0" cy="748.0" rx="2.8" ry="4.1" fill="#38c8ff" opacity="0.85"/>
<ellipse cx="1173.0" cy="790.0" rx="2.8" ry="4.1" fill="#38c4ff" opacity="0.85"/>
<ellipse cx="1257.0" cy="871.0" rx="3.2" ry="4.8" fill="#38c4ff" opacity="0.85"/>
<ellipse cx="1267.0" cy="887.0" rx="3.0" ry="4.4" fill="#38c4ff" opacity="0.85"/>
<ellipse cx="1019.8" cy="950.0" rx="3.4" ry="5.1" fill="#40ccff" opacity="0.85"/>
<ellipse cx="1226.6" cy="834.0" rx="3.4" ry="5.1" fill="#f0ff10" opacity="0.85"/>
<ellipse cx="1036.0" cy="730.0" rx="2.9" ry="4.2" fill="#30e0ff" opacity="0.85"/>
<ellipse cx="1148.0" cy="775.0" rx="2.9" ry="4.2" fill="#30e0ff" opacity="0.85"/>
<ellipse cx="1200.0" cy="820.0" rx="2.9" ry="4.2" fill="#30e0ff" opacity="0.85"/>
<ellipse cx="1029.0" cy="800.0" rx="2.5" ry="3.7" fill="#30d0ff" opacity="0.85"/>
</g>
<rect x="533.5" y="687.4" width="47" height="240.2" fill="url(#jet)" stroke="#000" stroke-width="3.8"/>
<path d="M573.4 747.4H580.4M573.4 807.5H580.4M573.4 867.5H580.4" stroke="#000" stroke-width="3" fill="none"/>
<rect x="531.6" y="924.5" width="50.8" height="1.4" fill="#000"/>
<rect x="1364.8" y="687.5" width="45.4" height="240.1" fill="url(#jet)" stroke="#000" stroke-width="3.8"/>
<path d="M1403.1 747.5H1410.1M1403.1 807.5H1410.1M1403.1 867.6H1410.1" stroke="#000" stroke-width="3" fill="none"/>
<rect x="1362.9" y="924.5" width="49.2" height="1.4" fill="#000"/>
<text x="586.5" y="694.8" font-family="Liberation Serif, serif" font-size="42" fill="#000">π</text>
<text x="586.6" y="826.2" font-family="Liberation Serif, serif" font-size="43.5" fill="#000">0</text>
<text x="585.5" y="936" font-family="Liberation Serif, serif" font-size="42" fill="#000">-<tspan dx="2.3">π</tspan></text>
<text transform="translate(639.2 867.3) rotate(-90)" font-family="Liberation Serif, serif" font-size="42.5" fill="#000">φ</text>
<text transform="translate(654.0 844.5) rotate(-90)" font-family="Liberation Serif, serif" font-size="24" fill="#000" font-style="italic">z</text>
<text transform="translate(639.2 823.5) rotate(-90)" font-family="Liberation Serif, serif" font-size="42.5" fill="#000">(rad)</text>
<text x="1418.2" y="702.6" font-family="Liberation Serif, serif" font-size="30.5" letter-spacing="0.8" fill="#000">0.1</text>
<text x="1421" y="821.5" font-family="Liberation Serif, serif" font-size="32" fill="#000">0</text>
<text x="1409.5" y="944.8" font-family="Liberation Serif, serif" font-size="30.5" fill="#000">-0.1</text>
<text transform="translate(1474.0 844.0) rotate(-90)" font-family="Liberation Serif, serif" font-size="39" fill="#000">ε</text>
<text transform="translate(1482.7 827.3) rotate(-90)" font-family="Liberation Serif, serif" font-size="23" fill="#000" font-style="italic">zz</text>
<text transform="translate(1474.0 809.5) rotate(-90)" font-family="Liberation Serif, serif" font-size="38" fill="#000">(%)</text>
</svg>
</body></html>
